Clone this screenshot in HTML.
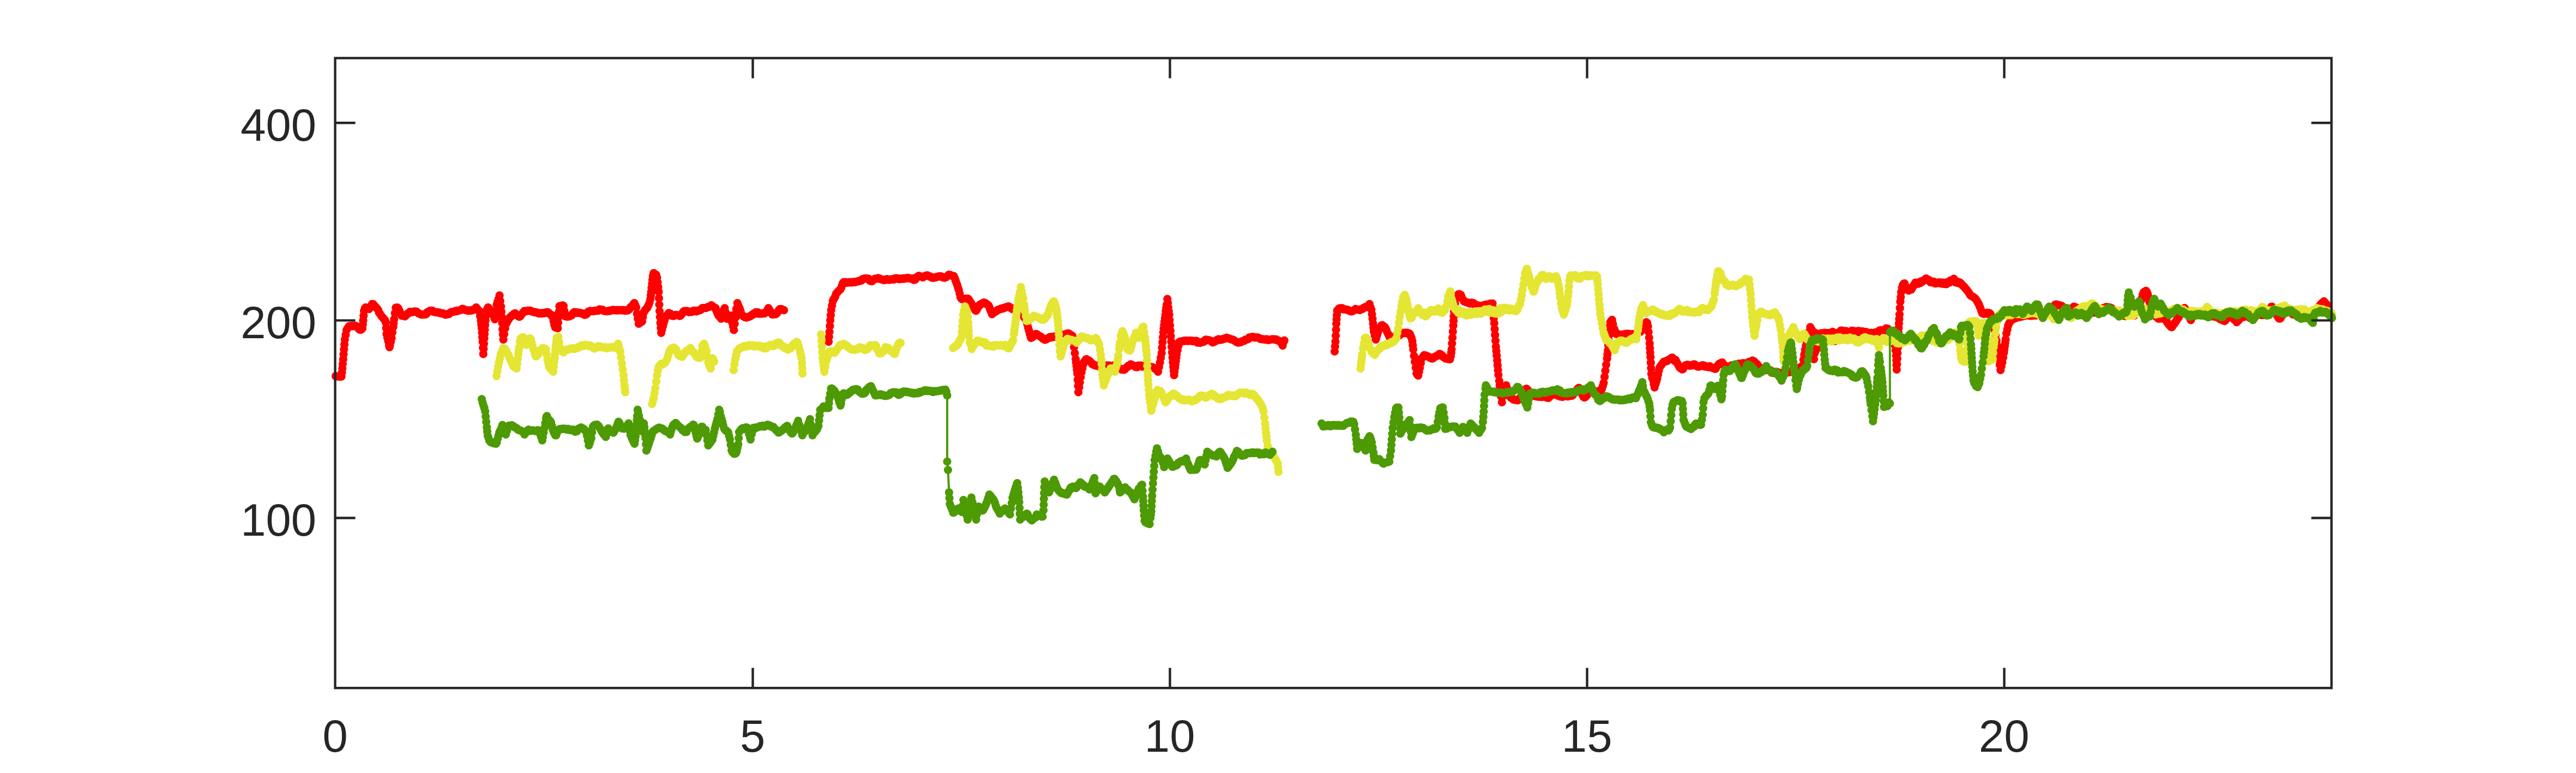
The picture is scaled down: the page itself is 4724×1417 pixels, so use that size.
<!DOCTYPE html>
<html><head><meta charset="utf-8"><title>plot</title>
<style>
html,body{margin:0;padding:0;background:#fff;}
svg{display:block;}
text{font-family:"Liberation Sans",Arial,Helvetica,sans-serif;font-size:83.3px;fill:#262626;}
</style></head>
<body>
<svg width="4724" height="1417" viewBox="0 0 4724 1417">
<rect width="4724" height="1417" fill="#ffffff"/>
<g>
<path d="M615.5 689.3L617.1 689.8L618.6 690.1L620.1 690.2L621.7 689.9L623.2 690.4L624.7 690.6L626.2 690.1L627 682.7L627.8 675.3L628.5 667L629.3 658.7L630.1 649.6L630.8 640.6L631.6 631.4L632.4 622.3L633.9 613.8L635.4 605.3L637 602.5L638.5 600.4L640 598.2L641.6 597.8L643.1 598L644.6 597.8L646.1 597.6L647.7 597.9L649.2 597L650.7 597.6L652.3 597.4L653.8 599L655.3 600L656.9 600.9L658.4 603.4L659.9 604.3L661.5 604.3L663 603.6L664.5 601.9L665.3 594.8L666 587.6L666.8 578.7L667.6 569.8L669.1 565L670.6 563.5L672.2 564L673.7 565.3L675.2 565.7L676.8 566.4L678.3 564.5L679.8 561.7L681.4 559.7L682.3 557.3L684.4 557.7L686 559.4L687.5 561.3L689 562.9L690.5 564.6L692.1 566.2L693.6 568.5L695.1 573L696.7 574.9L698.2 577.3L699.7 579.6L701.3 581.4L702.8 583.1L704.3 585.2L705.9 586.5L707.4 590.8L708.2 601.4L708.9 612.1L710.4 618.8L712 625.6L713.5 633L714.3 636.5L715 633.5L716.6 626.6L718.1 619.8L719.6 609.5L721.2 599.2L721.9 592.2L722.7 585.3L724.2 574L725.8 564L727.3 564.2L728.8 563.9L730.3 565.2L731.9 568.7L733.4 572L734.9 575.8L736.5 578.6L738 578.6L739.5 578.9L741.1 579.2L742.6 580L744.1 578.3L745.7 576.6L747.2 575L748.7 574.7L750.3 573L751.8 571.6L753.3 572.4L754.8 572.3L756.4 572.2L757.9 571.7L759.4 570.9L761 571L762.5 571.2L764 571.4L765.6 572.8L767.1 574.1L768.6 574.6L770.2 575.7L771.7 576.3L773.2 576.6L774.7 576.5L776.3 576.6L777.8 576.7L779.3 576.4L780.9 576.1L782.4 575.1L783.9 572L785.5 571.6L787 570.6L788.5 569.7L790.1 569.8L791.6 569.7L793.1 569.7L794.6 571.5L796.2 571.6L797.7 572.1L799.2 572.3L800.8 572.7L802.3 572.5L803.8 572.9L805.4 572.8L806.9 573.9L808.4 574.5L810 574L811.5 574.6L813 574.7L814.6 575.9L816.1 576.6L817.6 577L819.1 576.2L820.7 576.1L822.2 575.2L823.7 575.4L825.3 573.3L826.8 572.5L828.3 571.8L829.9 571.8L831.4 571.6L832.9 571L834.5 570.5L836 569.8L837.5 570.3L839 569.3L840.6 569.4L842.1 569.1L843.6 568.5L845.2 568.2L846.7 566.8L848.2 566L849.8 566.7L851.3 567.4L852.8 568L854.4 568.3L855.9 569.1L857.4 569.2L858.9 569.7L860.5 568.9L862 569L863.5 569.3L865.1 569.1L866.6 568.7L868.1 567.4L869.7 567.5L871.2 566.6L873.3 563.5L874.3 565.6L875.8 566.9L877.3 568.5L878.9 570.4L880.4 579.3L881.9 588.2L882.7 594.9L883.4 601.6L884 609.8L884.5 618L885 626.3L885.7 637.6L886.3 648.9L886.9 639.4L887.5 630L888 620.5L888.5 612.4L889.1 604.3L889.6 596.2L890.3 587.5L891.1 578.8L892.6 568.2L894.2 565.1L895 563.5L895.7 564.3L897.2 565.6L898.8 568.3L900.3 569.7L901.8 571.4L903.3 574.4L904.9 578.1L906.4 582.2L907.5 585.2L908.5 577.1L909.5 569L911 558.4L912.5 553.6L914.1 548.4L916.1 541.7L917.4 551.8L918.7 561.8L919.4 571.2L920.2 580.6L921 592.1L921.7 603.7L922.3 613.1L923 622.5L924.6 612.3L926.3 602L927.8 593.8L929.4 591.4L930.9 588.6L932.4 586L934 583.5L935.5 581.4L937 580.4L938.6 578.4L940.1 577.9L941.6 576L943.2 574.8L944.7 574.3L946.2 576.1L947.7 577.8L949.3 578.7L950.8 579.9L952.5 580.6L953.9 579.8L955.4 577.5L956.9 576.2L958.5 573.9L960 572.3L961.5 570.1L963.1 570L964.6 570.4L966.1 570.3L967.6 569.5L969.2 569.6L970.7 569.7L972.2 569.3L973.8 570.1L975.3 570.9L976.8 571.3L978.4 571.6L979.9 572.3L981.4 572.4L983 573L984.5 572.8L986 573.4L987.5 574.5L989.1 574.6L990.6 574L992.1 574L993.7 574.6L995.2 573.6L996.7 573.9L998.3 574.2L999.8 573L1001.3 572.6L1002.9 572.5L1004.4 572.3L1005.9 573.2L1007.4 575.1L1009 576L1010.5 577.6L1012 577.6L1013.6 581.3L1015.1 588.3L1016.6 595.3L1018.2 599.8L1019.7 600.6L1021.2 601.2L1022.8 601.7L1023.5 591.6L1024.3 581.5L1025.1 571.4L1025.8 561.4L1027.4 561.3L1028.9 560.8L1030.4 560.6L1031.9 559.8L1033.5 560.8L1035 570.2L1036.5 579.6L1038.1 580.2L1039.6 580.1L1041.1 580.5L1042.7 580L1044.2 579.9L1045.7 578.9L1047.3 578.5L1048.8 577.6L1050.3 574.9L1051.8 573.1L1053.4 572.1L1054.9 572.9L1056.4 572.4L1058 573.6L1059.5 573.1L1061 573.3L1062.6 573.3L1064.1 573.7L1065.6 574.3L1067.2 574.3L1068.7 575.5L1070.2 576.1L1071.7 577.2L1073.3 576.9L1074.8 576.4L1076.3 575.3L1077.9 571.9L1079.4 571.1L1080.9 570.7L1082.5 569.8L1084 570.5L1085.5 570.5L1087.1 570.3L1088.6 570.3L1090.1 569.9L1091.7 569.5L1093.2 569.6L1094.7 569.3L1096.2 569.6L1097.8 569.1L1099.3 567.2L1100.8 567.6L1102.4 567.6L1103.9 567.8L1105.4 568L1107 569.6L1108.5 570.2L1110 570.3L1111.6 570.3L1113.1 570.6L1114.6 570.4L1116.1 569.9L1117.7 570.1L1119.2 569.3L1120.7 568.9L1122.3 568.8L1123.8 568.2L1125.3 568.4L1126.9 568.6L1128.4 568.6L1129.9 568.3L1131.5 569.1L1133 568.8L1134.5 568.4L1136 568.8L1137.6 568.7L1139.1 568.6L1140.6 568.3L1142.2 568.8L1143.7 568.3L1145.2 569.5L1146.8 569.4L1148.3 569.5L1149.8 568.4L1151.4 568.8L1152.9 568L1154.4 566.6L1156 563.3L1157.5 562L1159 561.1L1160.5 559.4L1162.1 556.6L1163.4 555.7L1165.1 559.9L1166.7 563.5L1168.2 575.1L1169.7 584.2L1171.3 593.4L1172.8 592.1L1174.3 591.6L1175.9 590.3L1177.4 589.5L1178.9 581.1L1180.4 572.7L1182 570.5L1183.5 567.6L1185 566L1186.6 564.7L1188.1 561.8L1189.6 558.5L1191.2 554.3L1192.7 548.2L1193.5 541.6L1194.2 535L1195 527.5L1195.8 520.1L1196.5 512.9L1197.3 505.8L1198.8 500.7L1200.3 501.9L1201.9 502.8L1203.4 503.9L1204.9 508.9L1206 517.6L1207 526.2L1208 534.9L1208.5 546.7L1209 558.5L1209.5 570.3L1210.3 581.1L1211.1 591.9L1211.8 601L1212.5 610.1L1214.1 603.7L1215.7 597.7L1217.2 592L1218.7 586.9L1220.3 582.2L1221.8 578.8L1223.3 577.7L1224.8 576L1226.4 573.9L1227.9 574.6L1229.4 575.1L1231 577.7L1232.5 579L1234 579.1L1235.6 579.1L1237.1 578.4L1238.6 577.4L1240.2 577.3L1241.7 577.7L1243.2 577.8L1244.7 578.3L1246.3 579.1L1247.8 578.7L1249.3 577L1250.9 575L1252.4 572.3L1253.9 570.6L1255.5 570.2L1257 570.1L1258.5 570.5L1260.1 570.1L1261.6 570.5L1263.1 572.2L1264.6 572L1266.2 571.7L1267.7 571.8L1269.2 571.5L1270.8 569.9L1272.3 569.5L1273.8 569.8L1275.4 569.5L1276.9 571L1278.4 570L1280 569.3L1281.5 569.5L1283 568.8L1284.6 568.1L1286.1 567.2L1287.6 564.9L1289.1 565.1L1290.7 564.8L1292.2 564.7L1293.7 564.5L1295.3 564.4L1296.8 563.7L1298.3 562.7L1299.9 562.6L1301.4 561.8L1302.9 561L1304.5 559.6L1306 560.6L1307.5 561.8L1309 563L1310.6 564.2L1312.1 564.7L1313.6 569.2L1315.2 572.7L1316.7 576.5L1318.2 579.3L1319.8 580.1L1321.3 581.7L1322.5 584.2L1324.4 577.5L1325.9 573L1327.4 568.2L1329 564.8L1330.5 572.3L1332 579.8L1332.9 584.2L1333.5 583.6L1335.1 581.9L1336.6 580.1L1338.1 579.8L1339.7 578.6L1340.6 579L1341.7 585.1L1342.7 591.1L1344.3 598L1345.8 604.9L1347.3 593.6L1348.9 582.2L1349.6 574.2L1350.4 566.1L1352.3 555.7L1353.4 559.1L1355 562.4L1356.5 565.4L1358 570.1L1359.6 575.3L1361.1 578L1362.6 579.4L1364.2 580.2L1365.7 581.3L1367.2 581.6L1368.8 582.1L1370.3 581.1L1371.8 580.6L1373.3 580.8L1374.9 580.2L1376.4 579.3L1377.9 577.9L1379.5 577.4L1381 575.7L1382.5 575.1L1384.1 575.3L1385.6 572.6L1387.1 572.7L1388.7 572.9L1390.2 572.7L1391.7 575.2L1393.2 574.8L1394.8 574.9L1396.3 575.2L1397.8 574.7L1399.4 574.2L1400.9 574.6L1402.4 574.3L1404 572.8L1405.5 571L1407 569.1L1408.6 565.9L1409.2 564.8L1410.1 566.9L1411.6 568.9L1413.2 571.4L1414.7 574.2L1416.2 576.4L1417.7 576.4L1419.3 575.7L1420.8 575.8L1422.3 575.8L1423.9 575L1425.4 573.3L1426.9 570.9L1428.5 568.3L1430 566.6L1431.5 567.6L1433.1 566.6L1434.6 567.6L1436.1 568.1L1437.6 568.7M1519.6 626.3L1520.3 617.4L1521.1 608.5L1521.9 597.7L1522.6 587L1523.4 577.7L1524.2 568.4L1525.7 560.1L1527.2 551.8L1528.7 548.6L1530.3 546.3L1531.8 543.3L1533.3 538.3L1534.9 536.6L1536.4 534.8L1537.9 533.3L1539.5 531.9L1541 530.6L1542.5 527.9L1544.1 523.3L1545.6 519L1547.1 517.4L1548.6 517.8L1550.2 517.2L1551.7 518.5L1553.2 517.9L1554.8 518.1L1556.3 517.4L1557.8 517.4L1559.4 517.4L1560.9 517.9L1562.4 518L1564 516.9L1565.5 517.1L1567 517.5L1568.5 517.1L1570.1 516.4L1571.6 516.2L1573.1 515.9L1574.7 515.6L1576.2 514.7L1577.7 514.1L1579.3 514.3L1580.8 513.4L1582.3 511.4L1583.9 511L1585.4 510.6L1586.9 510.4L1588.4 510.4L1590 510.7L1591.5 511.2L1593 511.2L1594.6 514.2L1596.1 514.9L1597.6 515.5L1599.2 515.5L1600.7 512.8L1602.2 512.3L1603.7 511.4L1605.3 511.3L1606.8 510.9L1608.3 510.8L1609.9 509.9L1611.4 510L1612.9 510.6L1614.5 511.4L1616 512.1L1617.5 512.4L1619.1 512.5L1620.6 513.5L1622.1 513.3L1623.6 512.6L1625.2 512L1626.7 511.7L1628.2 512.8L1629.8 512.9L1631.3 512.8L1632.8 512L1634.4 512.2L1635.9 512.3L1637.4 511.7L1639 512.4L1640.5 510.5L1642 510.1L1643.5 510L1645.1 510.2L1646.6 510.5L1648.1 511.7L1649.7 511.2L1651.2 511.7L1652.7 510.9L1654.3 510.9L1655.8 510.4L1657.3 511.1L1658.9 510.1L1660.4 510.7L1661.9 509.8L1663.4 509.6L1665 509.7L1666.5 509.6L1668 510.4L1669.6 510.6L1671.1 510.6L1672.6 510.6L1674.2 510.3L1675.7 513.2L1677.2 512.8L1678.7 512.1L1680.3 509.5L1681.8 507.7L1683.3 507.4L1684.9 505.7L1686.4 506.5L1687.9 506.6L1689.5 507L1691 507.7L1692.5 508.4L1694.1 507.4L1695.6 506.3L1697.1 505.8L1698.6 505.2L1700.2 504.8L1701.7 505.2L1703.2 506L1704.8 506.9L1706.3 506.8L1707.8 508.3L1709.4 509.2L1710.9 509.3L1712.4 509.2L1714 509L1715.5 508.2L1717 508.2L1718.5 507.5L1720.1 507.1L1721.6 506.5L1723.1 506.5L1724.7 506.4L1726.2 507.4L1727.7 507.4L1729.3 508.6L1730.8 508.8L1732.3 509.1L1733.9 508.3L1735.4 507.8L1736.9 506.5L1738.4 505L1740 503.5L1741.5 504L1743 504.2L1744.6 505.2L1746.1 505.6L1747.6 506.1L1749.2 506.2L1750.7 509.5L1752.2 513.7L1753.7 518L1755.3 522.2L1756.8 527.1L1758.3 531.6L1759.9 538.2L1761.4 544.7L1762.9 547.3L1764.5 548.4L1766 548.7L1767.5 548.8L1769.1 548.8L1770.6 547.6L1772.1 547.4L1773.6 547.9L1775.2 547.5L1776.7 549.1L1778.2 551.7L1779.8 554L1781.3 556.2L1782.8 559.1L1784.4 562.1L1785.9 564.4L1787.4 566.6L1789 569.1L1789.8 569.7L1790.5 569.2L1792 566.4L1793.5 563.6L1795.1 561.6L1796.6 558.7L1798.1 557.8L1799.7 557.3L1801.2 556.2L1802.7 555.9L1804.3 554.7L1805.8 555.7L1807.3 555.5L1808.9 557.3L1810.4 558.1L1811.9 559.1L1813.4 560.8L1815 564.9L1816.5 569L1818 572.2L1819.3 575.9L1821.1 574L1822.6 573.1L1824.2 572.1L1825.7 570.8L1827.2 570.5L1828.7 568.9L1830.3 567.9L1831.8 567.3L1833.3 567L1834.9 566.2L1836.4 565.6L1837.9 565.8L1839.5 564.7L1841 565L1842.5 564L1844.1 563.4L1845.6 563.2L1847.1 562.4L1848.6 561.9L1850.2 561.8L1851.7 563.4L1853.2 564.3L1854.8 564.7L1856.3 566.3L1857.8 566.9L1859.4 568L1860.9 568.2L1862.4 569.1L1864 569.4L1865.5 568.8L1867 569.4L1868.5 571.5L1870.1 572.3L1871.6 571.7L1873.1 573.4L1874.7 576.2L1876.2 578.1L1877.7 580.9L1879.3 583.2L1880.8 583.2L1882.3 587.8L1883.9 594.3L1885.4 600.6L1886.9 605.7L1888.4 611.8L1890 617L1890.7 619.4L1891.5 618.9L1893 618.3L1894.6 616.8L1896.1 615.8L1897.6 613L1899.2 612.4L1900 613.2L1900.7 612.4L1902.2 613L1903.7 614.3L1905.3 615.5L1906.8 616.3L1908.3 617L1909.9 618.1L1911.4 619.8L1912.9 621.2L1914.5 622L1916 622.9L1917.5 621.6L1919.1 621.8L1920.6 620.6L1922.1 619.9L1923.6 619.1L1925.2 617.9L1926.7 618.9L1928.2 617.9L1929.8 617.6L1931.3 617.9L1932.8 616.9L1934.4 616.9L1935.9 617.1L1937.4 616.4L1939 614.9L1940.5 615.2L1942 614.8L1943.5 615.5L1945.1 615.6L1946.6 614.7L1948.1 614.5L1949.7 614.2L1951.2 613.3L1952.7 613.3L1954.3 612.8L1955.8 611.9L1957.3 611.7L1958.9 611.2L1960.4 611.7L1961.9 612.9L1963.4 613.9L1965 614.6L1966.5 615.5L1968 626L1969.6 636.5L1971.1 647.3L1972.6 658L1973.4 664.4L1974.2 670.7L1974.9 677.7L1975.7 684.7L1976.3 696.1L1977 707.4L1977.6 718.8L1979 709.8L1980.3 700.8L1981.8 691.5L1983.3 682.3L1984.9 675.3L1986.4 668.2L1987.9 663.6L1989.5 661.9L1991 659L1992.5 658.3L1994.1 659.6L1995.6 660.4L1997.1 660.9L1998.6 662.3L2000.2 663.7L2001.7 665.5L2003.2 667.7L2004.8 667.9L2006.3 669.1L2007.8 669.3L2009.4 670.2L2010.9 670.5L2012.4 670.7L2014 670.9L2015.5 671.8L2017 671.5L2018.5 672.5L2020.1 672.2L2021.6 672.2L2023.1 672.4L2024.7 671.8L2026.2 671.8L2027.7 670.4L2029.3 670.1L2030.8 670.3L2032.3 670.3L2033.9 669.8L2035.4 671.8L2036.9 671.7L2038.4 670.8L2040 671.1L2041.5 670.1L2043 670L2044.6 670.9L2046.1 672.4L2047.6 673.5L2049.2 674.5L2050.7 674L2052.2 675.3L2053.7 675.8L2055.3 676.1L2056.8 677.4L2058.3 677L2059.9 677.1L2061.4 677.8L2062.9 676.8L2064.5 674.8L2066 673.7L2067.5 672.6L2069.1 670.6L2070.6 670.7L2072.1 669.9L2073.6 667.9L2075.2 668.6L2076.7 669.3L2078.2 670.1L2079.8 670.6L2081.3 671.3L2082.8 673L2084.4 673L2085.9 673L2087.4 670.1L2089 670.2L2090.5 670.5L2092 670.2L2093.5 670.4L2095.1 672.1L2096.6 671.6L2098.1 671.5L2099.7 672.2L2101.2 671.8L2102.7 671.3L2104.3 672.8L2105.8 673.1L2107.3 672.5L2108.9 672.8L2110.4 673.1L2111.9 673.3L2113.4 673L2115 673.9L2116.5 675L2118 674.8L2119.6 676.7L2121.1 677.8L2122.6 679.7L2123.6 681.5L2125.4 672.9L2127.2 664.4L2128.7 655.8L2130.3 647.3L2131 637.3L2131.8 627.3L2132.6 618.2L2133.3 609.1L2134.1 602.5L2134.9 595.8L2135.6 589.7L2136.4 583.5L2137.2 577L2137.9 570.5L2138.7 564.4L2139.5 558.3L2140.7 548L2141.6 555.7L2142.5 563.5L2143.3 570.1L2144.1 576.8L2144.8 586.6L2145.6 596.4L2146.4 606.3L2147.1 616.1L2147.9 626.1L2148.6 636.1L2149.4 645.8L2150.2 655.5L2150.9 664.1L2151.7 672.6L2152.4 680.1L2153.1 687.7L2153.9 681.1L2154.8 674.6L2155.5 668.1L2156.3 661.7L2157.1 655.5L2157.8 649.3L2159.4 641.8L2160.9 634.2L2162.4 627.1L2164 626L2165.5 626.4L2167 626L2168.5 625.4L2170.1 625.3L2171.6 624.5L2173.1 625.1L2174.7 624.4L2176.2 624.6L2177.7 624.7L2179.3 625.1L2180.8 624.4L2182.3 624.4L2183.9 624.6L2185.4 624.5L2186.9 625.5L2188.4 625.2L2190 625.6L2191.5 625.4L2193 624.9L2194.6 625.2L2196.1 628.1L2197.6 627.9L2199.2 628L2200.7 628.3L2202.2 627.4L2203.7 627.3L2205.3 627L2206.8 626.7L2208.3 625.9L2209.9 623.4L2211.4 622.6L2212.9 623L2214.5 623.3L2216 623.3L2217.5 623.8L2219.1 624.3L2220.6 625.1L2222.1 625.3L2223.6 627.6L2225.2 627.4L2226.7 626.2L2228.2 625.6L2229.8 625L2231.3 623.4L2232.8 622.6L2234.4 621.9L2235.9 622L2237.4 623.1L2239 622.9L2240.5 622.6L2242 621.5L2243.5 621.4L2245.1 621.2L2246.6 620L2248.1 619.7L2249.7 619.2L2251.2 620L2252.7 620.5L2254.3 620.5L2255.8 621.5L2257.3 621.5L2258.9 622.4L2260.4 622.7L2261.9 623L2263.4 624.1L2265 625L2266.5 626.1L2268 627.2L2269.6 628L2271.1 628.1L2272.6 627.8L2274.2 627L2275.7 627.1L2277.2 625.9L2278.7 625.3L2280.3 625.1L2281.8 624.7L2283.3 622.9L2284.9 622.7L2286.4 622.3L2287.9 621.5L2289.5 621.1L2291 618.6L2292.5 618.4L2294.1 618L2295.6 617.7L2297.1 618.1L2298.6 617.7L2300.2 618.1L2301.7 618.8L2303.2 618.7L2304.8 618.5L2306.3 618.8L2307.8 619.1L2309.4 620L2310.9 621.1L2312.4 621.4L2314 621.6L2315.5 621.8L2317 621.9L2318.5 622.4L2320.1 622.4L2321.6 622.5L2323.1 621.8L2324.7 623.2L2326.2 623.3L2327.7 623L2329.3 622.6L2330.8 622.5L2332.3 621.9L2333.9 621.9L2335.4 621.8L2336.9 622.3L2338.4 622.4L2340 622L2341.5 623.4L2343 623.6L2344.6 624.6L2346.1 625L2347.6 625.9L2349.2 628L2350.7 630.6L2352.2 633.4L2353.7 627.4L2355.3 624M2447.5 644.2L2448.3 635.2L2449 626.2L2449.6 615.3L2450.1 604.4L2450.6 593.5L2451.1 585.4L2451.6 577.4L2452.1 569.3L2453.6 568.6L2455.2 565.8L2456.7 565.2L2458.2 565.2L2459.8 564.8L2461.3 564.8L2462.8 567L2464.4 566.6L2465.9 567.2L2467.4 567.5L2469 567.3L2470.5 567.8L2472 568.2L2473.6 569.5L2475.1 569.8L2476.6 570.6L2478.2 570.9L2479.7 570.5L2481.2 569.8L2482.8 568.6L2484.3 567.6L2485.8 566.4L2487.4 567.5L2488.9 567L2490.4 567.6L2492 567.9L2493.5 568.5L2495 567.7L2496.6 566.7L2498.1 566.4L2499.6 565.7L2501.1 564.1L2502.7 563.9L2504.2 562.6L2505.7 562.8L2507.3 561.8L2508.8 560.5L2510.3 559.8L2511.5 557.3L2513.4 563.4L2514.9 567.5L2516 576L2517 584.6L2518 593.2L2518.8 600.4L2519.5 607.7L2521.3 615.1L2523 622.5L2524.1 618.4L2525.7 613.3L2527.2 608.4L2528.7 604.2L2530.3 601.8L2531.8 599.1L2533.3 596.6L2534.9 596L2536.4 597.8L2537.9 598.3L2539.5 599.6L2541 601.8L2542.5 605.1L2544.1 609.5L2545.6 612L2547.1 615.1L2548.7 618.6L2550.2 621.6L2550.9 622.5L2551.7 622.5L2553.2 620.6L2554.8 619.5L2556.3 618.8L2557.8 617.3L2559.4 615.2L2560.9 614.7L2562.4 614.1L2564 614.7L2565.5 614.6L2567 614.3L2568.6 610.5L2570.1 610.6L2571.6 610.6L2573.2 610.4L2574.7 610L2576.2 610.7L2577.8 610.2L2579.3 610.4L2580.8 610L2582.4 611.6L2583.9 611.2L2585.4 612.1L2587 616L2588.5 619.4L2590 625.3L2590.8 632.9L2591.6 640.4L2593.1 652.3L2594.6 663.2L2596.2 674L2597.7 684.4L2599.2 686.8L2600.8 688.4L2602.3 681.3L2603.8 674.3L2605.4 665.7L2606.9 657L2608.4 655.7L2609.9 653.3L2611.5 651.1L2613 652.3L2614.5 651.7L2616.1 652.7L2617.6 653.2L2619.1 653.7L2620.7 654.4L2622.2 655.7L2623.7 656.2L2625.3 657.1L2626.8 657.2L2628.3 656.6L2629.9 654.9L2631.4 653.8L2632.9 653.3L2634.5 652.7L2636 651.9L2637.5 651.7L2639.1 649L2640.6 648.9L2642.1 649.6L2643.7 651L2645.2 652.2L2646.7 654.3L2648.3 655.1L2649.8 656.5L2651.3 657.2L2652.9 657.6L2654.4 658L2655.9 657.8L2657.5 658L2659 658.7L2660.5 652.7L2661.3 646.5L2662 640.3L2662.8 629.6L2663.6 618.9L2664.3 607.9L2665.1 596.8L2665.6 588.2L2666.1 579.7L2666.6 571.1L2667.4 563.6L2668.2 556.1L2669.7 547L2671.2 542.4L2672.8 542.2L2674.3 539.7L2675.8 539.1L2677.4 539.5L2678.9 540.5L2680.4 544.4L2682 548L2683.5 550L2685 552.7L2686.6 553L2688.1 553.7L2689.6 554.1L2691.2 554.7L2692.7 554.9L2694.2 555.8L2695.8 556.1L2697.3 556.1L2698.8 554.9L2700.4 556L2701.9 555.5L2703.4 556.6L2705 559.2L2706.5 559L2708 559.6L2709.6 559.8L2711.1 560.1L2712.6 560.8L2714.1 561.1L2715.7 560.9L2717.2 560.7L2718.7 560.3L2720.3 560.2L2721.8 559.1L2723.3 558.8L2724.9 558.5L2726.4 558.2L2727.9 558.3L2729.5 558L2731 558.4L2732.5 556.6L2734.1 556.5L2735.6 556.8L2737.1 556.3L2737.9 565.1L2738.7 574L2739.4 583.2L2740.2 592.4L2741 603.1L2741.7 613.9L2742.5 624.6L2743.3 635.4L2744 643.6L2744.8 651.8L2745.6 660.8L2746.3 669.7L2747.1 678.4L2747.9 687.1L2749.4 698.3L2750.2 706.9L2750.9 715.5L2752.5 726.5L2754.3 737.4L2755.7 726.6L2757.1 715.9L2758.6 711.6L2760.1 709.3L2762.1 706.3L2763.2 710.5L2764.7 717.2L2766.2 723.2L2767.8 726.1L2769.3 727.2L2770.8 729.1L2772.4 730L2773.9 731.5L2775.4 732.5L2777 732.7L2778.5 732.6L2780 733.5L2781.6 733.5L2783.1 734L2784.6 732.7L2786.2 731L2787.7 729.2L2789.2 727.1L2790.8 723.4L2792.3 721.9L2793.8 719.4L2795.4 717.2L2796.9 715.4L2798.4 713L2799.4 712.5L2801.5 714.7L2803 716.6L2804.6 720.5L2806.1 722.5L2807.6 723.9L2809.2 724.3L2810.7 725.4L2812.2 725.5L2813.8 724.8L2815.3 725.7L2816.8 726.7L2818.4 726.5L2819.9 726.9L2821.4 727.5L2822.9 726.7L2824.5 726.7L2826 727.6L2827.5 727.5L2829.1 727.4L2830.6 726.6L2832.1 727.3L2833.7 727.6L2835.2 728.4L2836.7 728.3L2838.3 729.4L2839.8 729.3L2841.3 727.7L2842.9 726.3L2844.4 725.4L2845.9 724.3L2847.5 723.2L2849 722.4L2850.5 722.7L2852.1 723L2853.6 723.5L2855.1 724.2L2856.7 725.1L2858.2 725.7L2859.7 726L2861.3 726.9L2862.8 726.6L2864.3 727.4L2865.9 727.3L2867.4 724.6L2868.9 725.5L2870.5 725.7L2872 725.8L2873.5 726L2875 726.6L2876.6 725.9L2878.1 726L2879.6 725.5L2881.2 725.4L2882.7 725.3L2884.2 724.5L2885.8 722.5L2887.3 720.2L2888.8 718.3L2890.4 716.2L2891.9 714.7L2893.4 712.3L2895 711L2895.7 711L2896.5 712.2L2898 714.4L2899.6 717.7L2901.1 722.4L2902.6 725.2L2904.2 727.9L2905 728.1L2905.7 728.6L2907.2 727.8L2908.8 726.1L2910.3 724.6L2911.8 722.4L2913.4 719.4L2914.9 717.9L2916.4 717.8L2918 718.2L2919.5 718.3L2921 718.5L2922.6 719.2L2924.1 719L2925.6 718.7L2927.1 718.6L2928.7 717.8L2930.2 717L2931.7 717.1L2933.3 716.3L2934.8 715.4L2936.3 715.8L2937.9 711.7L2939.4 707.2L2940.9 701.8L2942.5 690.7L2944 679.6L2945.5 668.6L2947.1 657.6L2947.8 649.9L2948.6 642.3L2949.4 632.8L2950.1 623.4L2950.9 614.5L2951.7 605.5L2952.4 598L2953.2 590.5L2954.7 588.2L2956.3 586.4L2957.8 593.9L2959.3 601.4L2960.9 604.4L2962.4 608.5L2963.9 612.1L2965.5 612.1L2967 612.1L2968.5 613.6L2970.1 613.4L2971.6 613.5L2973.1 613.8L2974.7 613.6L2976.2 613.1L2977.7 612.9L2979.2 613.8L2980.8 612.2L2982.3 612.6L2983.8 612L2985.4 612.3L2986.9 612.2L2988.4 612.5L2990 613.1L2991.5 612.7L2993 612.8L2994.6 612.5L2996.1 612.4L2997.6 613.1L2999.2 612.3L3000.7 613.2L3002.2 609.9L3003.8 608.3L3005.3 608L3006.8 606.2L3008.4 608.1L3009.9 605.7L3011.4 603.3L3013 599.7L3014.5 595.9L3016 592.8L3017.6 592.3L3019.1 590.7L3020.6 591.9L3022.2 598L3023.2 608.5L3024.2 619.1L3025.2 629.7L3025.7 638L3026.2 646.3L3026.8 654.6L3027.3 664.7L3027.8 674.8L3028.3 685L3029.8 692.4L3031.4 695.9L3032.9 703.9L3034.2 710.1L3035.9 704.2L3037.5 699.3L3039 693.9L3040.5 686.8L3042.1 679.6L3043.6 673.5L3045.1 671.1L3046.7 669.1L3048.2 667L3049.7 665.2L3051.3 663.1L3052.8 663.2L3054.3 662.5L3055.9 661.7L3057.4 661.6L3058.9 660.2L3060.5 659.5L3062 658.5L3063.5 657.3L3065.1 656L3066.8 655.7L3068.1 658.7L3069.7 660.1L3071.2 661.7L3072.7 659.9L3074.3 662.9L3075.8 665.7L3077.3 668.5L3078.9 671.1L3080.4 673.7L3081.9 675.2L3083.5 675.6L3085 677.1L3086.5 676.4L3088 672.9L3089.6 671L3091.1 669.7L3092.6 669.3L3094.2 668.7L3095.7 669L3097.2 670.1L3098.8 670.3L3100.3 669.9L3101.8 669.3L3103.4 669.8L3104.9 669.3L3106.4 667.9L3108 668.2L3109.5 669.8L3111 670.9L3112.6 671.6L3114.1 672.2L3115.6 672.2L3117.2 671.2L3118.7 671.1L3120.2 670.9L3121.8 669.5L3123.3 669.7L3124.8 670.9L3126.4 671.9L3127.9 671L3129.4 672.1L3131 672.4L3132.5 672.8L3134 671.8L3135.6 671.4L3137.1 673.3L3138.6 673.5L3140.1 674.4L3141.7 674.6L3143.2 675.1L3144.7 676.1L3146.3 675.8L3147.8 672.9L3149.3 670.8L3150.9 669.4L3152.4 667L3153.9 666.3L3155.5 665.6L3157 664.8L3158.5 664.6L3160.1 667.7L3161.6 669L3163.1 670L3164.7 670.9L3166.2 672.8L3167.7 672.1L3169.3 671.9L3170.8 671.9L3172.3 672.3L3173.9 671.5L3175.4 669.9L3176.9 670.2L3178.5 670.2L3180 669.4L3181.5 668.7L3183.1 668.9L3184.6 668.4L3186.1 667.5L3187.7 667.5L3189.2 666.7L3190.7 667.1L3192.2 666.9L3193.8 666.6L3195.3 665.9L3196.8 666.3L3198.4 665.8L3199.9 666.5L3201.4 666.7L3203 666.6L3204.5 667.7L3206 664.1L3207.6 663.4L3209.1 663.3L3210.6 662.6L3212.2 662.1L3213.7 660.8L3215.2 661.8L3216.8 662.4L3218.3 664.1L3219.8 666.3L3221.4 666.9L3222.9 668.4L3224.4 670.6L3226 672.6L3227.5 674.3L3229 676.3L3230.6 676.9L3232.1 677.2L3233.6 677.2L3235.2 677.7L3236.7 678.7L3238.2 677.2L3239.8 677.6L3241.3 678.1L3242.8 678.1L3244.4 678.7L3245.9 678.9L3247.4 679.2L3248.9 683.2L3250.5 683.3L3252 683.5L3253.5 683.8L3255.1 683.7L3256.6 682.7L3258.1 681.9L3259.7 682.2L3261.2 683.1L3262.7 683.5L3264.3 684L3265.8 684.2L3267.3 683.8L3268.9 683.4L3270.4 683.6L3271.9 683.9L3273.5 683.6L3275 682.7L3276.5 682.8L3278.1 682.3L3279.6 682.5L3281.1 682.3L3282.7 681.5L3284.2 680.8L3285.7 681.1L3287.3 680.7L3288.8 680.8L3290.3 681.1L3291.9 680.3L3293.4 679.5L3294.9 679.2L3296.5 677.8L3298 676.9L3299.5 675L3301 673.4L3302.6 672.6L3304.1 671.7L3305.6 671.1L3307.2 659.3L3308.7 650.2L3310.2 641L3311.8 633.4L3313.3 625.8L3314.8 618.6L3316.4 613.1L3317.9 607.6L3319.8 599.5L3321 601.9L3322.5 604.4L3324 606.9L3325.6 608.7L3327.1 609.4L3328.6 610.5L3330.2 611L3331.7 611.7L3333.2 612.8L3334.8 612.6L3336.3 612.2L3337.8 614.4L3339.4 610.9L3340.9 613.5L3342.4 613.4L3344 612.9L3345.5 610.2L3347 611.3L3348.6 612.9L3350.1 610.3L3351.6 610.7L3353.1 612.5L3354.7 610.5L3356.2 611.4L3357.7 609.6L3359.3 612L3360.8 608.4L3362.3 614L3363.9 621.5L3364.8 625.1L3366.9 616.8L3368.5 611.8L3370 610.1L3371.5 610.9L3373.1 608.9L3374.6 607.8L3376.1 605.9L3377.7 606.9L3379.2 606.2L3380.7 607.6L3382.3 608.1L3383.8 607.9L3385.3 606.9L3386.9 610.6L3388.4 610.8L3389.9 611.5L3391.5 612.5L3393 610L3394.5 607.5L3396.1 606.2L3397.6 608.6L3399.1 606.5L3400.7 608.2L3402.2 607.6L3403.7 607.4L3405.3 609L3406.8 607.1L3408.3 606.7L3409.8 607.4L3411.4 609.1L3412.9 607.7L3414.4 607.9L3416 607.6L3417.5 609.9L3419 608.8L3420.6 608.7L3422.1 608.5L3423.6 609L3425.2 611.5L3426.7 611.6L3428.2 612.5L3429.8 610.5L3431.3 610L3432.8 610.6L3434.4 610.5L3435.9 610.8L3437.4 611.7L3439 609.4L3440.5 611.7L3442 609.9L3443.6 608.5L3445.1 609.8L3446.6 605.9L3448.2 606.6L3449.7 605.1L3451.2 605.7L3452.8 605.9L3454.3 606.4L3455.8 606L3457.4 604.5L3458.9 601.9L3460.4 603.8L3461.9 602.5L3463.5 606.6L3465 607.1L3466.5 606.2L3468.1 606.7L3469.6 609.3L3471.1 612.3L3472.7 618.2L3474.2 623.5L3475.2 632.9L3476.3 642.4L3477.3 651.8L3477.6 660.3L3477.9 668.9L3478.3 677.4L3478.8 667.4L3479.3 657.4L3479.8 647.4L3480.3 637.4L3480.7 628.3L3481.1 619.3L3481.5 610.2L3481.9 601.1L3482.4 592.9L3482.9 584.7L3483.4 576.5L3484.2 564.7L3484.9 552.9L3485.7 544.3L3486.5 535.6L3488 527.5L3489.5 522.5L3491.1 520.1L3492.6 519.6L3494.1 523.9L3495.7 528.5L3497.2 530.6L3498.7 530.8L3500.3 532.7L3501.8 530.4L3503.3 530.9L3504.9 530.8L3506.4 528.4L3507.9 525.7L3509.5 523L3511 520.7L3512.5 518.1L3514 519.2L3515.6 519.9L3517.1 520.3L3518.6 517.7L3520.2 519.2L3521.7 518.6L3523.2 515.5L3524.8 516.7L3526.3 514.6L3527.8 514.7L3529.4 513L3531.1 511.2L3532.4 510.7L3534 511.5L3535.5 513.4L3537 514.3L3538.6 513.8L3540.1 517.5L3541.6 516.7L3543.2 516.7L3544.7 517.9L3546.2 516.3L3547.8 518L3549.3 519.6L3550.8 518.6L3552.4 519.1L3553.9 518.2L3555.4 518.1L3557 517.7L3558.5 518.3L3560 519.8L3561.6 518.7L3563.1 517.9L3564.6 520.3L3566.1 519.3L3567.7 519.6L3569.2 520.8L3570.7 517.4L3572.3 518L3573.8 518.3L3575.3 518L3576.9 514.1L3578.4 513.8L3579.9 514.2L3581.5 513.4L3583 511.2L3584.5 515.5L3586.1 517.7L3587.6 516.7L3589.1 516.1L3590.7 518.8L3592.2 517.5L3593.7 517.6L3595.3 520L3596.8 520.1L3598.3 522.6L3599.9 523.8L3601.4 524.8L3602.9 527L3604.5 528.8L3606 530.7L3607.5 532.4L3609.1 534.6L3610.6 536.6L3612.1 539.2L3613.7 541.7L3615.2 542.5L3616.7 543.3L3618.3 544.2L3619.8 545.2L3621.3 546.4L3622.8 547.6L3624.4 549.8L3625.9 552.5L3627.4 555L3629 557.9L3630.5 561.9L3632 565.4L3633.6 569.8L3635.1 574.1L3636.6 574.5L3638.2 575.3L3639.7 574.7L3641.2 574.7L3642.8 575.2L3644.3 573.4L3645.8 573.6L3647.4 573.9L3648.9 574.1L3650.4 575.9L3652 580L3653.5 584L3655 591L3656.6 597L3658.1 605.8L3659.6 614.5L3661.2 624L3662.7 633.5L3663.5 639.6L3664.2 645.7L3665 651.7L3665.8 657.7L3667.3 668.7L3668.7 678.5L3670.3 671.4L3671.9 664.3L3673.4 655.5L3674.9 646.6L3675.7 640.5L3676.5 634.5L3677.2 628.4L3678 622.2L3679.5 611.1L3681.1 603.9L3682.6 596.8L3684.1 593.4L3685.7 590.8L3687.2 588.6L3688.7 586.6L3690.3 585.2L3691.8 585.1L3693.3 584.2L3694.9 583.6L3696.4 583.2L3697.9 582.2L3699.5 581.5L3701 581.6L3702.5 581.3L3704.1 580.7L3705.6 580L3707.1 580.3L3708.7 579.9L3710.2 579.1L3711.7 579.2L3713.3 578.9L3714.8 578.2L3716.3 578.1L3717.9 577.7L3719.4 577.8L3720.9 577.3L3722.5 579L3724 578.7L3725.5 579L3727 578.3L3728.6 578.5L3730.1 577.8L3731.6 578.1L3733.2 578.3L3734.7 576.1L3736.2 576.3L3737.8 575.6L3739.3 575.5L3740.8 576.7L3742.4 575.7L3743.9 576.1L3745.4 575L3747 575.2L3748.5 575.1L3750 574.8L3751.6 574.1L3753.1 574L3754.6 573.9L3756.2 573.6L3757.7 572.2L3759.2 570.4L3760.8 568.4L3762.3 567.1L3763.8 565.3L3765.4 562.6L3766.9 561.3L3768.4 558.9L3770 558.2L3771.5 558.2L3773 559L3774.6 559.6L3776.1 559.3L3777.6 560L3779.1 560.3L3780.7 560.5L3782.2 561.9L3783.7 564.1L3785.3 566L3786.8 567.5L3788.3 568.9L3790.3 572.4L3791.4 570.6L3792.9 569L3794.5 567.6L3796 567.9L3797.5 566.6L3799.1 565.4L3800.6 564.6L3802.1 563L3803.2 562.1L3805.2 563.3L3806.7 563.4L3808.3 564.4L3809.8 564.4L3811.3 566.4L3812.9 567.5L3814.4 568.1L3815.9 568.9L3817.5 569.1L3819 569.9L3820.5 570.3L3822.1 570.8L3823.6 570.5L3825.1 571.2L3826.7 571.7L3828.2 571.5L3829.7 572L3831.3 572.3L3832.8 572.7L3834.3 572.3L3835.8 572.5L3837.4 572.7L3838.9 573L3840.4 573.2L3842 572.4L3843.5 571.2L3845 571.3L3846.6 570.7L3848.1 569.3L3849.6 569.3L3851.2 568.6L3852.7 567.2L3854.2 566.9L3855.8 565.7L3857.3 564.6L3858.8 565.2L3860.4 564.7L3861.9 562.9L3863.4 562.9L3865 563.2L3866.5 563.7L3868 563.6L3869.6 563.8L3871.1 564.7L3872.6 565.1L3874.2 566.9L3875.7 568.3L3877.2 568.9L3878.8 570.7L3880.3 571.3L3881.8 572.4L3883.4 573.5L3884.9 574.3L3886.4 574.9L3887.9 576.5L3889.5 576.5L3891 577.1L3892.5 577.9L3894.1 577.9L3895.6 579L3897.1 579.3L3898.7 578.7L3900.2 576.8L3901.7 576.9L3903.3 577.7L3904.8 577.3L3906.3 577.5L3907.9 577.1L3909.4 578.2L3910.9 578.2L3912.5 578.5L3914 578.3L3915.5 575.6L3917.1 572.1L3918.6 570.6L3920.1 566.6L3921.7 563.1L3923.2 558.7L3924.7 555L3926.3 551L3927.8 546.8L3929.3 540.5L3930.9 536L3932.4 534.8L3933.9 534.1L3935.5 533L3937 535L3938.5 538.9L3940 544.8L3941.6 552.7L3943.1 560.7L3944.6 566.6L3946.2 569.2L3947.7 571.7L3949.2 574.1L3950.8 576.9L3952.3 579.4L3953.8 579.7L3955.4 581.1L3956.9 583.2L3958.4 584.2L3960 584.1L3961.5 583.7L3963 584.1L3964.6 583.8L3966.1 583.5L3967.6 584.2L3969.2 584.1L3970.7 585L3972.2 587.4L3973.8 589.8L3975.3 592.4L3976.8 594.5L3978.4 596.1L3979.9 597.7L3981.4 599.4L3982.8 599.6L3984.5 597.6L3986 595.2L3987.6 593.2L3989.1 590.7L3990.6 588.8L3992.1 586.3L3993.7 583.1L3995.2 582.1L3996.7 578.9L3998.3 576.4L3999.8 574.4L4001.3 572.2L4002.9 570.2L4004.4 566L4006.1 564.7L4007.5 566.4L4009 569.4L4010.5 572.6L4012.1 575.7L4013.6 578.6L4015.1 581.3L4016.7 584L4017.7 586.7L4019.7 582.4L4021.3 579.8L4022.8 577.6L4024.3 574.6L4025.9 574.6L4027.4 573.6L4028.9 573.4L4030.5 572.3L4032 572L4033.5 571.9L4035.1 573.6L4036.6 573.4L4038.1 574.3L4039.7 573.5L4041.2 574.5L4042.7 574.7L4044.3 575.9L4045.8 576.8L4047.3 576.7L4048.8 577.4L4050.4 577.6L4051.9 578L4053.4 578L4055 579.1L4056.5 579.8L4058 579.9L4059.6 579.8L4061.1 580.3L4062.6 580.7L4064.2 580.8L4065.7 581.4L4067.2 581.7L4068.8 581.5L4070.3 584.5L4071.8 585.5L4073.4 585.5L4074.9 585.9L4076.4 587.1L4078 587.2L4079.5 588.3L4081 587.3L4082.6 583.8L4084.1 583.4L4085.6 582.2L4087.2 581.9L4088.7 580.9L4090.2 580.1L4091.5 580.2L4093.3 580.7L4094.8 582.9L4096.4 585.1L4097.9 586.1L4099.4 587.7L4100.9 589.1L4101.8 590.6L4102.5 589.4L4104 588.1L4105.5 587L4107.1 584.6L4108.6 583L4110.1 582.3L4111.7 580.9L4113.2 581.5L4114.7 580.8L4116.3 580.3L4117.8 578.7L4119.9 577.6L4120.9 578.8L4122.4 579.8L4123.9 581.4L4125.5 582.2L4126.4 582.8L4127 582.8L4128.5 580.9L4130.1 578.5L4131.6 577.6L4133.1 575.6L4134.7 574.2L4136.2 573.4L4138 572.4L4139.3 572.1L4140.8 572.2L4142.3 574.7L4143.9 575.4L4145.4 576.2L4146.9 577.4L4148.5 576L4149.7 577.6L4151.5 574.8L4153 572.8L4154.6 571L4156.1 569L4157.6 567.6L4159.2 568.4L4160.7 567L4162.2 566.4L4163.8 565.2L4165.3 562.4L4166.5 562.1L4168.4 564.5L4169.9 567L4171.4 570.3L4173 572.4L4174.5 574.8L4176 578.7L4177.6 581.2L4179.1 583.6L4180.7 584.1L4182.2 583.3L4183.7 580.6L4185.2 578.5L4186.8 576.6L4188.3 574.9L4189.8 573.2L4191.4 571.9L4192.9 571L4194.4 569.1L4196 567.1L4197.5 566L4199 567.3L4200.6 569.7L4202.1 572.2L4203.6 574.8L4205.1 576.4L4206.7 576.3L4208.2 576.1L4209.7 575.7L4211.3 574.8L4212.8 575.2L4214.3 575.2L4215.9 574.9L4217.4 574.5L4218.9 574.3L4220.5 575.1L4222 574.6L4223.5 574.3L4225.1 574.3L4226.6 575.1L4228.1 574.8L4229.7 575.1L4231.2 574.2L4232.7 574.3L4234.3 574.5L4235.8 574.4L4237.3 573.8L4238.9 573L4240.4 572.8L4241.9 571.4L4243.5 570.5L4245 569.9L4246.5 568.8L4248.1 567.7L4249.6 566.9L4251.1 564.4L4252.7 562.2L4254.2 560.3L4255.7 557.9L4257.3 556.4L4258.8 554.8L4260.3 553.8L4261.8 552.4L4263.4 554.3L4264.9 556L4266.4 557.4L4268 560.6L4269.5 565.5L4271 569.5L4272.6 575M3326.5 658.5L3328 647.5L3329.6 642.9L3331.2 637.2L3332.8 638L3334.4 636.8L3336 636.9L3337.6 634.7L3339.2 635.2L3340.7 634.9" fill="none" stroke="#ff0000" stroke-width="4" stroke-linejoin="round" stroke-linecap="round"/>
<path d="M615.5 689.3h0M617.1 689.8h0M618.6 690.1h0M620.1 690.2h0M621.7 689.9h0M623.2 690.4h0M624.7 690.6h0M626.2 690.1h0M627 682.7h0M627.8 675.3h0M628.5 667h0M629.3 658.7h0M630.1 649.6h0M630.8 640.6h0M631.6 631.4h0M632.4 622.3h0M633.9 613.8h0M635.4 605.3h0M637 602.5h0M638.5 600.4h0M640 598.2h0M641.6 597.8h0M643.1 598h0M644.6 597.8h0M646.1 597.6h0M647.7 597.9h0M649.2 597h0M650.7 597.6h0M652.3 597.4h0M653.8 599h0M655.3 600h0M656.9 600.9h0M658.4 603.4h0M659.9 604.3h0M661.5 604.3h0M663 603.6h0M664.5 601.9h0M665.3 594.8h0M666 587.6h0M666.8 578.7h0M667.6 569.8h0M669.1 565h0M670.6 563.5h0M672.2 564h0M673.7 565.3h0M675.2 565.7h0M676.8 566.4h0M678.3 564.5h0M679.8 561.7h0M681.4 559.7h0M682.3 557.3h0M684.4 557.7h0M686 559.4h0M687.5 561.3h0M689 562.9h0M690.5 564.6h0M692.1 566.2h0M693.6 568.5h0M695.1 573h0M696.7 574.9h0M698.2 577.3h0M699.7 579.6h0M701.3 581.4h0M702.8 583.1h0M704.3 585.2h0M705.9 586.5h0M707.4 590.8h0M708.2 601.4h0M708.9 612.1h0M710.4 618.8h0M712 625.6h0M713.5 633h0M714.3 636.5h0M715 633.5h0M716.6 626.6h0M718.1 619.8h0M719.6 609.5h0M721.2 599.2h0M721.9 592.2h0M722.7 585.3h0M724.2 574h0M725.8 564h0M727.3 564.2h0M728.8 563.9h0M730.3 565.2h0M731.9 568.7h0M733.4 572h0M734.9 575.8h0M736.5 578.6h0M738 578.6h0M739.5 578.9h0M741.1 579.2h0M742.6 580h0M744.1 578.3h0M745.7 576.6h0M747.2 575h0M748.7 574.7h0M750.3 573h0M751.8 571.6h0M753.3 572.4h0M754.8 572.3h0M756.4 572.2h0M757.9 571.7h0M759.4 570.9h0M761 571h0M762.5 571.2h0M764 571.4h0M765.6 572.8h0M767.1 574.1h0M768.6 574.6h0M770.2 575.7h0M771.7 576.3h0M773.2 576.6h0M774.7 576.5h0M776.3 576.6h0M777.8 576.7h0M779.3 576.4h0M780.9 576.1h0M782.4 575.1h0M783.9 572h0M785.5 571.6h0M787 570.6h0M788.5 569.7h0M790.1 569.8h0M791.6 569.7h0M793.1 569.7h0M794.6 571.5h0M796.2 571.6h0M797.7 572.1h0M799.2 572.3h0M800.8 572.7h0M802.3 572.5h0M803.8 572.9h0M805.4 572.8h0M806.9 573.9h0M808.4 574.5h0M810 574h0M811.5 574.6h0M813 574.7h0M814.6 575.9h0M816.1 576.6h0M817.6 577h0M819.1 576.2h0M820.7 576.1h0M822.2 575.2h0M823.7 575.4h0M825.3 573.3h0M826.8 572.5h0M828.3 571.8h0M829.9 571.8h0M831.4 571.6h0M832.9 571h0M834.5 570.5h0M836 569.8h0M837.5 570.3h0M839 569.3h0M840.6 569.4h0M842.1 569.1h0M843.6 568.5h0M845.2 568.2h0M846.7 566.8h0M848.2 566h0M849.8 566.7h0M851.3 567.4h0M852.8 568h0M854.4 568.3h0M855.9 569.1h0M857.4 569.2h0M858.9 569.7h0M860.5 568.9h0M862 569h0M863.5 569.3h0M865.1 569.1h0M866.6 568.7h0M868.1 567.4h0M869.7 567.5h0M871.2 566.6h0M873.3 563.5h0M874.3 565.6h0M875.8 566.9h0M877.3 568.5h0M878.9 570.4h0M880.4 579.3h0M881.9 588.2h0M882.7 594.9h0M883.4 601.6h0M884 609.8h0M884.5 618h0M885 626.3h0M885.7 637.6h0M886.3 648.9h0M886.9 639.4h0M887.5 630h0M888 620.5h0M888.5 612.4h0M889.1 604.3h0M889.6 596.2h0M890.3 587.5h0M891.1 578.8h0M892.6 568.2h0M894.2 565.1h0M895 563.5h0M895.7 564.3h0M897.2 565.6h0M898.8 568.3h0M900.3 569.7h0M901.8 571.4h0M903.3 574.4h0M904.9 578.1h0M906.4 582.2h0M907.5 585.2h0M908.5 577.1h0M909.5 569h0M911 558.4h0M912.5 553.6h0M914.1 548.4h0M916.1 541.7h0M917.4 551.8h0M918.7 561.8h0M919.4 571.2h0M920.2 580.6h0M921 592.1h0M921.7 603.7h0M922.3 613.1h0M923 622.5h0M924.6 612.3h0M926.3 602h0M927.8 593.8h0M929.4 591.4h0M930.9 588.6h0M932.4 586h0M934 583.5h0M935.5 581.4h0M937 580.4h0M938.6 578.4h0M940.1 577.9h0M941.6 576h0M943.2 574.8h0M944.7 574.3h0M946.2 576.1h0M947.7 577.8h0M949.3 578.7h0M950.8 579.9h0M952.5 580.6h0M953.9 579.8h0M955.4 577.5h0M956.9 576.2h0M958.5 573.9h0M960 572.3h0M961.5 570.1h0M963.1 570h0M964.6 570.4h0M966.1 570.3h0M967.6 569.5h0M969.2 569.6h0M970.7 569.7h0M972.2 569.3h0M973.8 570.1h0M975.3 570.9h0M976.8 571.3h0M978.4 571.6h0M979.9 572.3h0M981.4 572.4h0M983 573h0M984.5 572.8h0M986 573.4h0M987.5 574.5h0M989.1 574.6h0M990.6 574h0M992.1 574h0M993.7 574.6h0M995.2 573.6h0M996.7 573.9h0M998.3 574.2h0M999.8 573h0M1001.3 572.6h0M1002.9 572.5h0M1004.4 572.3h0M1005.9 573.2h0M1007.4 575.1h0M1009 576h0M1010.5 577.6h0M1012 577.6h0M1013.6 581.3h0M1015.1 588.3h0M1016.6 595.3h0M1018.2 599.8h0M1019.7 600.6h0M1021.2 601.2h0M1022.8 601.7h0M1023.5 591.6h0M1024.3 581.5h0M1025.1 571.4h0M1025.8 561.4h0M1027.4 561.3h0M1028.9 560.8h0M1030.4 560.6h0M1031.9 559.8h0M1033.5 560.8h0M1035 570.2h0M1036.5 579.6h0M1038.1 580.2h0M1039.6 580.1h0M1041.1 580.5h0M1042.7 580h0M1044.2 579.9h0M1045.7 578.9h0M1047.3 578.5h0M1048.8 577.6h0M1050.3 574.9h0M1051.8 573.1h0M1053.4 572.1h0M1054.9 572.9h0M1056.4 572.4h0M1058 573.6h0M1059.5 573.1h0M1061 573.3h0M1062.6 573.3h0M1064.1 573.7h0M1065.6 574.3h0M1067.2 574.3h0M1068.7 575.5h0M1070.2 576.1h0M1071.7 577.2h0M1073.3 576.9h0M1074.8 576.4h0M1076.3 575.3h0M1077.9 571.9h0M1079.4 571.1h0M1080.9 570.7h0M1082.5 569.8h0M1084 570.5h0M1085.5 570.5h0M1087.1 570.3h0M1088.6 570.3h0M1090.1 569.9h0M1091.7 569.5h0M1093.2 569.6h0M1094.7 569.3h0M1096.2 569.6h0M1097.8 569.1h0M1099.3 567.2h0M1100.8 567.6h0M1102.4 567.6h0M1103.9 567.8h0M1105.4 568h0M1107 569.6h0M1108.5 570.2h0M1110 570.3h0M1111.6 570.3h0M1113.1 570.6h0M1114.6 570.4h0M1116.1 569.9h0M1117.7 570.1h0M1119.2 569.3h0M1120.7 568.9h0M1122.3 568.8h0M1123.8 568.2h0M1125.3 568.4h0M1126.9 568.6h0M1128.4 568.6h0M1129.9 568.3h0M1131.5 569.1h0M1133 568.8h0M1134.5 568.4h0M1136 568.8h0M1137.6 568.7h0M1139.1 568.6h0M1140.6 568.3h0M1142.2 568.8h0M1143.7 568.3h0M1145.2 569.5h0M1146.8 569.4h0M1148.3 569.5h0M1149.8 568.4h0M1151.4 568.8h0M1152.9 568h0M1154.4 566.6h0M1156 563.3h0M1157.5 562h0M1159 561.1h0M1160.5 559.4h0M1162.1 556.6h0M1163.4 555.7h0M1165.1 559.9h0M1166.7 563.5h0M1168.2 575.1h0M1169.7 584.2h0M1171.3 593.4h0M1172.8 592.1h0M1174.3 591.6h0M1175.9 590.3h0M1177.4 589.5h0M1178.9 581.1h0M1180.4 572.7h0M1182 570.5h0M1183.5 567.6h0M1185 566h0M1186.6 564.7h0M1188.1 561.8h0M1189.6 558.5h0M1191.2 554.3h0M1192.7 548.2h0M1193.5 541.6h0M1194.2 535h0M1195 527.5h0M1195.8 520.1h0M1196.5 512.9h0M1197.3 505.8h0M1198.8 500.7h0M1200.3 501.9h0M1201.9 502.8h0M1203.4 503.9h0M1204.9 508.9h0M1206 517.6h0M1207 526.2h0M1208 534.9h0M1208.5 546.7h0M1209 558.5h0M1209.5 570.3h0M1210.3 581.1h0M1211.1 591.9h0M1211.8 601h0M1212.5 610.1h0M1214.1 603.7h0M1215.7 597.7h0M1217.2 592h0M1218.7 586.9h0M1220.3 582.2h0M1221.8 578.8h0M1223.3 577.7h0M1224.8 576h0M1226.4 573.9h0M1227.9 574.6h0M1229.4 575.1h0M1231 577.7h0M1232.5 579h0M1234 579.1h0M1235.6 579.1h0M1237.1 578.4h0M1238.6 577.4h0M1240.2 577.3h0M1241.7 577.7h0M1243.2 577.8h0M1244.7 578.3h0M1246.3 579.1h0M1247.8 578.7h0M1249.3 577h0M1250.9 575h0M1252.4 572.3h0M1253.9 570.6h0M1255.5 570.2h0M1257 570.1h0M1258.5 570.5h0M1260.1 570.1h0M1261.6 570.5h0M1263.1 572.2h0M1264.6 572h0M1266.2 571.7h0M1267.7 571.8h0M1269.2 571.5h0M1270.8 569.9h0M1272.3 569.5h0M1273.8 569.8h0M1275.4 569.5h0M1276.9 571h0M1278.4 570h0M1280 569.3h0M1281.5 569.5h0M1283 568.8h0M1284.6 568.1h0M1286.1 567.2h0M1287.6 564.9h0M1289.1 565.1h0M1290.7 564.8h0M1292.2 564.7h0M1293.7 564.5h0M1295.3 564.4h0M1296.8 563.7h0M1298.3 562.7h0M1299.9 562.6h0M1301.4 561.8h0M1302.9 561h0M1304.5 559.6h0M1306 560.6h0M1307.5 561.8h0M1309 563h0M1310.6 564.2h0M1312.1 564.7h0M1313.6 569.2h0M1315.2 572.7h0M1316.7 576.5h0M1318.2 579.3h0M1319.8 580.1h0M1321.3 581.7h0M1322.5 584.2h0M1324.4 577.5h0M1325.9 573h0M1327.4 568.2h0M1329 564.8h0M1330.5 572.3h0M1332 579.8h0M1332.9 584.2h0M1333.5 583.6h0M1335.1 581.9h0M1336.6 580.1h0M1338.1 579.8h0M1339.7 578.6h0M1340.6 579h0M1341.7 585.1h0M1342.7 591.1h0M1344.3 598h0M1345.8 604.9h0M1347.3 593.6h0M1348.9 582.2h0M1349.6 574.2h0M1350.4 566.1h0M1352.3 555.7h0M1353.4 559.1h0M1355 562.4h0M1356.5 565.4h0M1358 570.1h0M1359.6 575.3h0M1361.1 578h0M1362.6 579.4h0M1364.2 580.2h0M1365.7 581.3h0M1367.2 581.6h0M1368.8 582.1h0M1370.3 581.1h0M1371.8 580.6h0M1373.3 580.8h0M1374.9 580.2h0M1376.4 579.3h0M1377.9 577.9h0M1379.5 577.4h0M1381 575.7h0M1382.5 575.1h0M1384.1 575.3h0M1385.6 572.6h0M1387.1 572.7h0M1388.7 572.9h0M1390.2 572.7h0M1391.7 575.2h0M1393.2 574.8h0M1394.8 574.9h0M1396.3 575.2h0M1397.8 574.7h0M1399.4 574.2h0M1400.9 574.6h0M1402.4 574.3h0M1404 572.8h0M1405.5 571h0M1407 569.1h0M1408.6 565.9h0M1409.2 564.8h0M1410.1 566.9h0M1411.6 568.9h0M1413.2 571.4h0M1414.7 574.2h0M1416.2 576.4h0M1417.7 576.4h0M1419.3 575.7h0M1420.8 575.8h0M1422.3 575.8h0M1423.9 575h0M1425.4 573.3h0M1426.9 570.9h0M1428.5 568.3h0M1430 566.6h0M1431.5 567.6h0M1433.1 566.6h0M1434.6 567.6h0M1436.1 568.1h0M1437.6 568.7h0M1519.6 626.3h0M1520.3 617.4h0M1521.1 608.5h0M1521.9 597.7h0M1522.6 587h0M1523.4 577.7h0M1524.2 568.4h0M1525.7 560.1h0M1527.2 551.8h0M1528.7 548.6h0M1530.3 546.3h0M1531.8 543.3h0M1533.3 538.3h0M1534.9 536.6h0M1536.4 534.8h0M1537.9 533.3h0M1539.5 531.9h0M1541 530.6h0M1542.5 527.9h0M1544.1 523.3h0M1545.6 519h0M1547.1 517.4h0M1548.6 517.8h0M1550.2 517.2h0M1551.7 518.5h0M1553.2 517.9h0M1554.8 518.1h0M1556.3 517.4h0M1557.8 517.4h0M1559.4 517.4h0M1560.9 517.9h0M1562.4 518h0M1564 516.9h0M1565.5 517.1h0M1567 517.5h0M1568.5 517.1h0M1570.1 516.4h0M1571.6 516.2h0M1573.1 515.9h0M1574.7 515.6h0M1576.2 514.7h0M1577.7 514.1h0M1579.3 514.3h0M1580.8 513.4h0M1582.3 511.4h0M1583.9 511h0M1585.4 510.6h0M1586.9 510.4h0M1588.4 510.4h0M1590 510.7h0M1591.5 511.2h0M1593 511.2h0M1594.6 514.2h0M1596.1 514.9h0M1597.6 515.5h0M1599.2 515.5h0M1600.7 512.8h0M1602.2 512.3h0M1603.7 511.4h0M1605.3 511.3h0M1606.8 510.9h0M1608.3 510.8h0M1609.9 509.9h0M1611.4 510h0M1612.9 510.6h0M1614.5 511.4h0M1616 512.1h0M1617.5 512.4h0M1619.1 512.5h0M1620.6 513.5h0M1622.1 513.3h0M1623.6 512.6h0M1625.2 512h0M1626.7 511.7h0M1628.2 512.8h0M1629.8 512.9h0M1631.3 512.8h0M1632.8 512h0M1634.4 512.2h0M1635.9 512.3h0M1637.4 511.7h0M1639 512.4h0M1640.5 510.5h0M1642 510.1h0M1643.5 510h0M1645.1 510.2h0M1646.6 510.5h0M1648.1 511.7h0M1649.7 511.2h0M1651.2 511.7h0M1652.7 510.9h0M1654.3 510.9h0M1655.8 510.4h0M1657.3 511.1h0M1658.9 510.1h0M1660.4 510.7h0M1661.9 509.8h0M1663.4 509.6h0M1665 509.7h0M1666.5 509.6h0M1668 510.4h0M1669.6 510.6h0M1671.1 510.6h0M1672.6 510.6h0M1674.2 510.3h0M1675.7 513.2h0M1677.2 512.8h0M1678.7 512.1h0M1680.3 509.5h0M1681.8 507.7h0M1683.3 507.4h0M1684.9 505.7h0M1686.4 506.5h0M1687.9 506.6h0M1689.5 507h0M1691 507.7h0M1692.5 508.4h0M1694.1 507.4h0M1695.6 506.3h0M1697.1 505.8h0M1698.6 505.2h0M1700.2 504.8h0M1701.7 505.2h0M1703.2 506h0M1704.8 506.9h0M1706.3 506.8h0M1707.8 508.3h0M1709.4 509.2h0M1710.9 509.3h0M1712.4 509.2h0M1714 509h0M1715.5 508.2h0M1717 508.2h0M1718.5 507.5h0M1720.1 507.1h0M1721.6 506.5h0M1723.1 506.5h0M1724.7 506.4h0M1726.2 507.4h0M1727.7 507.4h0M1729.3 508.6h0M1730.8 508.8h0M1732.3 509.1h0M1733.9 508.3h0M1735.4 507.8h0M1736.9 506.5h0M1738.4 505h0M1740 503.5h0M1741.5 504h0M1743 504.2h0M1744.6 505.2h0M1746.1 505.6h0M1747.6 506.1h0M1749.2 506.2h0M1750.7 509.5h0M1752.2 513.7h0M1753.7 518h0M1755.3 522.2h0M1756.8 527.1h0M1758.3 531.6h0M1759.9 538.2h0M1761.4 544.7h0M1762.9 547.3h0M1764.5 548.4h0M1766 548.7h0M1767.5 548.8h0M1769.1 548.8h0M1770.6 547.6h0M1772.1 547.4h0M1773.6 547.9h0M1775.2 547.5h0M1776.7 549.1h0M1778.2 551.7h0M1779.8 554h0M1781.3 556.2h0M1782.8 559.1h0M1784.4 562.1h0M1785.9 564.4h0M1787.4 566.6h0M1789 569.1h0M1789.8 569.7h0M1790.5 569.2h0M1792 566.4h0M1793.5 563.6h0M1795.1 561.6h0M1796.6 558.7h0M1798.1 557.8h0M1799.7 557.3h0M1801.2 556.2h0M1802.7 555.9h0M1804.3 554.7h0M1805.8 555.7h0M1807.3 555.5h0M1808.9 557.3h0M1810.4 558.1h0M1811.9 559.1h0M1813.4 560.8h0M1815 564.9h0M1816.5 569h0M1818 572.2h0M1819.3 575.9h0M1821.1 574h0M1822.6 573.1h0M1824.2 572.1h0M1825.7 570.8h0M1827.2 570.5h0M1828.7 568.9h0M1830.3 567.9h0M1831.8 567.3h0M1833.3 567h0M1834.9 566.2h0M1836.4 565.6h0M1837.9 565.8h0M1839.5 564.7h0M1841 565h0M1842.5 564h0M1844.1 563.4h0M1845.6 563.2h0M1847.1 562.4h0M1848.6 561.9h0M1850.2 561.8h0M1851.7 563.4h0M1853.2 564.3h0M1854.8 564.7h0M1856.3 566.3h0M1857.8 566.9h0M1859.4 568h0M1860.9 568.2h0M1862.4 569.1h0M1864 569.4h0M1865.5 568.8h0M1867 569.4h0M1868.5 571.5h0M1870.1 572.3h0M1871.6 571.7h0M1873.1 573.4h0M1874.7 576.2h0M1876.2 578.1h0M1877.7 580.9h0M1879.3 583.2h0M1880.8 583.2h0M1882.3 587.8h0M1883.9 594.3h0M1885.4 600.6h0M1886.9 605.7h0M1888.4 611.8h0M1890 617h0M1890.7 619.4h0M1891.5 618.9h0M1893 618.3h0M1894.6 616.8h0M1896.1 615.8h0M1897.6 613h0M1899.2 612.4h0M1900 613.2h0M1900.7 612.4h0M1902.2 613h0M1903.7 614.3h0M1905.3 615.5h0M1906.8 616.3h0M1908.3 617h0M1909.9 618.1h0M1911.4 619.8h0M1912.9 621.2h0M1914.5 622h0M1916 622.9h0M1917.5 621.6h0M1919.1 621.8h0M1920.6 620.6h0M1922.1 619.9h0M1923.6 619.1h0M1925.2 617.9h0M1926.7 618.9h0M1928.2 617.9h0M1929.8 617.6h0M1931.3 617.9h0M1932.8 616.9h0M1934.4 616.9h0M1935.9 617.1h0M1937.4 616.4h0M1939 614.9h0M1940.5 615.2h0M1942 614.8h0M1943.5 615.5h0M1945.1 615.6h0M1946.6 614.7h0M1948.1 614.5h0M1949.7 614.2h0M1951.2 613.3h0M1952.7 613.3h0M1954.3 612.8h0M1955.8 611.9h0M1957.3 611.7h0M1958.9 611.2h0M1960.4 611.7h0M1961.9 612.9h0M1963.4 613.9h0M1965 614.6h0M1966.5 615.5h0M1968 626h0M1969.6 636.5h0M1971.1 647.3h0M1972.6 658h0M1973.4 664.4h0M1974.2 670.7h0M1974.9 677.7h0M1975.7 684.7h0M1976.3 696.1h0M1977 707.4h0M1977.6 718.8h0M1979 709.8h0M1980.3 700.8h0M1981.8 691.5h0M1983.3 682.3h0M1984.9 675.3h0M1986.4 668.2h0M1987.9 663.6h0M1989.5 661.9h0M1991 659h0M1992.5 658.3h0M1994.1 659.6h0M1995.6 660.4h0M1997.1 660.9h0M1998.6 662.3h0M2000.2 663.7h0M2001.7 665.5h0M2003.2 667.7h0M2004.8 667.9h0M2006.3 669.1h0M2007.8 669.3h0M2009.4 670.2h0M2010.9 670.5h0M2012.4 670.7h0M2014 670.9h0M2015.5 671.8h0M2017 671.5h0M2018.5 672.5h0M2020.1 672.2h0M2021.6 672.2h0M2023.1 672.4h0M2024.7 671.8h0M2026.2 671.8h0M2027.7 670.4h0M2029.3 670.1h0M2030.8 670.3h0M2032.3 670.3h0M2033.9 669.8h0M2035.4 671.8h0M2036.9 671.7h0M2038.4 670.8h0M2040 671.1h0M2041.5 670.1h0M2043 670h0M2044.6 670.9h0M2046.1 672.4h0M2047.6 673.5h0M2049.2 674.5h0M2050.7 674h0M2052.2 675.3h0M2053.7 675.8h0M2055.3 676.1h0M2056.8 677.4h0M2058.3 677h0M2059.9 677.1h0M2061.4 677.8h0M2062.9 676.8h0M2064.5 674.8h0M2066 673.7h0M2067.5 672.6h0M2069.1 670.6h0M2070.6 670.7h0M2072.1 669.9h0M2073.6 667.9h0M2075.2 668.6h0M2076.7 669.3h0M2078.2 670.1h0M2079.8 670.6h0M2081.3 671.3h0M2082.8 673h0M2084.4 673h0M2085.9 673h0M2087.4 670.1h0M2089 670.2h0M2090.5 670.5h0M2092 670.2h0M2093.5 670.4h0M2095.1 672.1h0M2096.6 671.6h0M2098.1 671.5h0M2099.7 672.2h0M2101.2 671.8h0M2102.7 671.3h0M2104.3 672.8h0M2105.8 673.1h0M2107.3 672.5h0M2108.9 672.8h0M2110.4 673.1h0M2111.9 673.3h0M2113.4 673h0M2115 673.9h0M2116.5 675h0M2118 674.8h0M2119.6 676.7h0M2121.1 677.8h0M2122.6 679.7h0M2123.6 681.5h0M2125.4 672.9h0M2127.2 664.4h0M2128.7 655.8h0M2130.3 647.3h0M2131 637.3h0M2131.8 627.3h0M2132.6 618.2h0M2133.3 609.1h0M2134.1 602.5h0M2134.9 595.8h0M2135.6 589.7h0M2136.4 583.5h0M2137.2 577h0M2137.9 570.5h0M2138.7 564.4h0M2139.5 558.3h0M2140.7 548h0M2141.6 555.7h0M2142.5 563.5h0M2143.3 570.1h0M2144.1 576.8h0M2144.8 586.6h0M2145.6 596.4h0M2146.4 606.3h0M2147.1 616.1h0M2147.9 626.1h0M2148.6 636.1h0M2149.4 645.8h0M2150.2 655.5h0M2150.9 664.1h0M2151.7 672.6h0M2152.4 680.1h0M2153.1 687.7h0M2153.9 681.1h0M2154.8 674.6h0M2155.5 668.1h0M2156.3 661.7h0M2157.1 655.5h0M2157.8 649.3h0M2159.4 641.8h0M2160.9 634.2h0M2162.4 627.1h0M2164 626h0M2165.5 626.4h0M2167 626h0M2168.5 625.4h0M2170.1 625.3h0M2171.6 624.5h0M2173.1 625.1h0M2174.7 624.4h0M2176.2 624.6h0M2177.7 624.7h0M2179.3 625.1h0M2180.8 624.4h0M2182.3 624.4h0M2183.9 624.6h0M2185.4 624.5h0M2186.9 625.5h0M2188.4 625.2h0M2190 625.6h0M2191.5 625.4h0M2193 624.9h0M2194.6 625.2h0M2196.1 628.1h0M2197.6 627.9h0M2199.2 628h0M2200.7 628.3h0M2202.2 627.4h0M2203.7 627.3h0M2205.3 627h0M2206.8 626.7h0M2208.3 625.9h0M2209.9 623.4h0M2211.4 622.6h0M2212.9 623h0M2214.5 623.3h0M2216 623.3h0M2217.5 623.8h0M2219.1 624.3h0M2220.6 625.1h0M2222.1 625.3h0M2223.6 627.6h0M2225.2 627.4h0M2226.7 626.2h0M2228.2 625.6h0M2229.8 625h0M2231.3 623.4h0M2232.8 622.6h0M2234.4 621.9h0M2235.9 622h0M2237.4 623.1h0M2239 622.9h0M2240.5 622.6h0M2242 621.5h0M2243.5 621.4h0M2245.1 621.2h0M2246.6 620h0M2248.1 619.7h0M2249.7 619.2h0M2251.2 620h0M2252.7 620.5h0M2254.3 620.5h0M2255.8 621.5h0M2257.3 621.5h0M2258.9 622.4h0M2260.4 622.7h0M2261.9 623h0M2263.4 624.1h0M2265 625h0M2266.5 626.1h0M2268 627.2h0M2269.6 628h0M2271.1 628.1h0M2272.6 627.8h0M2274.2 627h0M2275.7 627.1h0M2277.2 625.9h0M2278.7 625.3h0M2280.3 625.1h0M2281.8 624.7h0M2283.3 622.9h0M2284.9 622.7h0M2286.4 622.3h0M2287.9 621.5h0M2289.5 621.1h0M2291 618.6h0M2292.5 618.4h0M2294.1 618h0M2295.6 617.7h0M2297.1 618.1h0M2298.6 617.7h0M2300.2 618.1h0M2301.7 618.8h0M2303.2 618.7h0M2304.8 618.5h0M2306.3 618.8h0M2307.8 619.1h0M2309.4 620h0M2310.9 621.1h0M2312.4 621.4h0M2314 621.6h0M2315.5 621.8h0M2317 621.9h0M2318.5 622.4h0M2320.1 622.4h0M2321.6 622.5h0M2323.1 621.8h0M2324.7 623.2h0M2326.2 623.3h0M2327.7 623h0M2329.3 622.6h0M2330.8 622.5h0M2332.3 621.9h0M2333.9 621.9h0M2335.4 621.8h0M2336.9 622.3h0M2338.4 622.4h0M2340 622h0M2341.5 623.4h0M2343 623.6h0M2344.6 624.6h0M2346.1 625h0M2347.6 625.9h0M2349.2 628h0M2350.7 630.6h0M2352.2 633.4h0M2353.7 627.4h0M2355.3 624h0M2447.5 644.2h0M2448.3 635.2h0M2449 626.2h0M2449.6 615.3h0M2450.1 604.4h0M2450.6 593.5h0M2451.1 585.4h0M2451.6 577.4h0M2452.1 569.3h0M2453.6 568.6h0M2455.2 565.8h0M2456.7 565.2h0M2458.2 565.2h0M2459.8 564.8h0M2461.3 564.8h0M2462.8 567h0M2464.4 566.6h0M2465.9 567.2h0M2467.4 567.5h0M2469 567.3h0M2470.5 567.8h0M2472 568.2h0M2473.6 569.5h0M2475.1 569.8h0M2476.6 570.6h0M2478.2 570.9h0M2479.7 570.5h0M2481.2 569.8h0M2482.8 568.6h0M2484.3 567.6h0M2485.8 566.4h0M2487.4 567.5h0M2488.9 567h0M2490.4 567.6h0M2492 567.9h0M2493.5 568.5h0M2495 567.7h0M2496.6 566.7h0M2498.1 566.4h0M2499.6 565.7h0M2501.1 564.1h0M2502.7 563.9h0M2504.2 562.6h0M2505.7 562.8h0M2507.3 561.8h0M2508.8 560.5h0M2510.3 559.8h0M2511.5 557.3h0M2513.4 563.4h0M2514.9 567.5h0M2516 576h0M2517 584.6h0M2518 593.2h0M2518.8 600.4h0M2519.5 607.7h0M2521.3 615.1h0M2523 622.5h0M2524.1 618.4h0M2525.7 613.3h0M2527.2 608.4h0M2528.7 604.2h0M2530.3 601.8h0M2531.8 599.1h0M2533.3 596.6h0M2534.9 596h0M2536.4 597.8h0M2537.9 598.3h0M2539.5 599.6h0M2541 601.8h0M2542.5 605.1h0M2544.1 609.5h0M2545.6 612h0M2547.1 615.1h0M2548.7 618.6h0M2550.2 621.6h0M2550.9 622.5h0M2551.7 622.5h0M2553.2 620.6h0M2554.8 619.5h0M2556.3 618.8h0M2557.8 617.3h0M2559.4 615.2h0M2560.9 614.7h0M2562.4 614.1h0M2564 614.7h0M2565.5 614.6h0M2567 614.3h0M2568.6 610.5h0M2570.1 610.6h0M2571.6 610.6h0M2573.2 610.4h0M2574.7 610h0M2576.2 610.7h0M2577.8 610.2h0M2579.3 610.4h0M2580.8 610h0M2582.4 611.6h0M2583.9 611.2h0M2585.4 612.1h0M2587 616h0M2588.5 619.4h0M2590 625.3h0M2590.8 632.9h0M2591.6 640.4h0M2593.1 652.3h0M2594.6 663.2h0M2596.2 674h0M2597.7 684.4h0M2599.2 686.8h0M2600.8 688.4h0M2602.3 681.3h0M2603.8 674.3h0M2605.4 665.7h0M2606.9 657h0M2608.4 655.7h0M2609.9 653.3h0M2611.5 651.1h0M2613 652.3h0M2614.5 651.7h0M2616.1 652.7h0M2617.6 653.2h0M2619.1 653.7h0M2620.7 654.4h0M2622.2 655.7h0M2623.7 656.2h0M2625.3 657.1h0M2626.8 657.2h0M2628.3 656.6h0M2629.9 654.9h0M2631.4 653.8h0M2632.9 653.3h0M2634.5 652.7h0M2636 651.9h0M2637.5 651.7h0M2639.1 649h0M2640.6 648.9h0M2642.1 649.6h0M2643.7 651h0M2645.2 652.2h0M2646.7 654.3h0M2648.3 655.1h0M2649.8 656.5h0M2651.3 657.2h0M2652.9 657.6h0M2654.4 658h0M2655.9 657.8h0M2657.5 658h0M2659 658.7h0M2660.5 652.7h0M2661.3 646.5h0M2662 640.3h0M2662.8 629.6h0M2663.6 618.9h0M2664.3 607.9h0M2665.1 596.8h0M2665.6 588.2h0M2666.1 579.7h0M2666.6 571.1h0M2667.4 563.6h0M2668.2 556.1h0M2669.7 547h0M2671.2 542.4h0M2672.8 542.2h0M2674.3 539.7h0M2675.8 539.1h0M2677.4 539.5h0M2678.9 540.5h0M2680.4 544.4h0M2682 548h0M2683.5 550h0M2685 552.7h0M2686.6 553h0M2688.1 553.7h0M2689.6 554.1h0M2691.2 554.7h0M2692.7 554.9h0M2694.2 555.8h0M2695.8 556.1h0M2697.3 556.1h0M2698.8 554.9h0M2700.4 556h0M2701.9 555.5h0M2703.4 556.6h0M2705 559.2h0M2706.5 559h0M2708 559.6h0M2709.6 559.8h0M2711.1 560.1h0M2712.6 560.8h0M2714.1 561.1h0M2715.7 560.9h0M2717.2 560.7h0M2718.7 560.3h0M2720.3 560.2h0M2721.8 559.1h0M2723.3 558.8h0M2724.9 558.5h0M2726.4 558.2h0M2727.9 558.3h0M2729.5 558h0M2731 558.4h0M2732.5 556.6h0M2734.1 556.5h0M2735.6 556.8h0M2737.1 556.3h0M2737.9 565.1h0M2738.7 574h0M2739.4 583.2h0M2740.2 592.4h0M2741 603.1h0M2741.7 613.9h0M2742.5 624.6h0M2743.3 635.4h0M2744 643.6h0M2744.8 651.8h0M2745.6 660.8h0M2746.3 669.7h0M2747.1 678.4h0M2747.9 687.1h0M2749.4 698.3h0M2750.2 706.9h0M2750.9 715.5h0M2752.5 726.5h0M2754.3 737.4h0M2755.7 726.6h0M2757.1 715.9h0M2758.6 711.6h0M2760.1 709.3h0M2762.1 706.3h0M2763.2 710.5h0M2764.7 717.2h0M2766.2 723.2h0M2767.8 726.1h0M2769.3 727.2h0M2770.8 729.1h0M2772.4 730h0M2773.9 731.5h0M2775.4 732.5h0M2777 732.7h0M2778.5 732.6h0M2780 733.5h0M2781.6 733.5h0M2783.1 734h0M2784.6 732.7h0M2786.2 731h0M2787.7 729.2h0M2789.2 727.1h0M2790.8 723.4h0M2792.3 721.9h0M2793.8 719.4h0M2795.4 717.2h0M2796.9 715.4h0M2798.4 713h0M2799.4 712.5h0M2801.5 714.7h0M2803 716.6h0M2804.6 720.5h0M2806.1 722.5h0M2807.6 723.9h0M2809.2 724.3h0M2810.7 725.4h0M2812.2 725.5h0M2813.8 724.8h0M2815.3 725.7h0M2816.8 726.7h0M2818.4 726.5h0M2819.9 726.9h0M2821.4 727.5h0M2822.9 726.7h0M2824.5 726.7h0M2826 727.6h0M2827.5 727.5h0M2829.1 727.4h0M2830.6 726.6h0M2832.1 727.3h0M2833.7 727.6h0M2835.2 728.4h0M2836.7 728.3h0M2838.3 729.4h0M2839.8 729.3h0M2841.3 727.7h0M2842.9 726.3h0M2844.4 725.4h0M2845.9 724.3h0M2847.5 723.2h0M2849 722.4h0M2850.5 722.7h0M2852.1 723h0M2853.6 723.5h0M2855.1 724.2h0M2856.7 725.1h0M2858.2 725.7h0M2859.7 726h0M2861.3 726.9h0M2862.8 726.6h0M2864.3 727.4h0M2865.9 727.3h0M2867.4 724.6h0M2868.9 725.5h0M2870.5 725.7h0M2872 725.8h0M2873.5 726h0M2875 726.6h0M2876.6 725.9h0M2878.1 726h0M2879.6 725.5h0M2881.2 725.4h0M2882.7 725.3h0M2884.2 724.5h0M2885.8 722.5h0M2887.3 720.2h0M2888.8 718.3h0M2890.4 716.2h0M2891.9 714.7h0M2893.4 712.3h0M2895 711h0M2895.7 711h0M2896.5 712.2h0M2898 714.4h0M2899.6 717.7h0M2901.1 722.4h0M2902.6 725.2h0M2904.2 727.9h0M2905 728.1h0M2905.7 728.6h0M2907.2 727.8h0M2908.8 726.1h0M2910.3 724.6h0M2911.8 722.4h0M2913.4 719.4h0M2914.9 717.9h0M2916.4 717.8h0M2918 718.2h0M2919.5 718.3h0M2921 718.5h0M2922.6 719.2h0M2924.1 719h0M2925.6 718.7h0M2927.1 718.6h0M2928.7 717.8h0M2930.2 717h0M2931.7 717.1h0M2933.3 716.3h0M2934.8 715.4h0M2936.3 715.8h0M2937.9 711.7h0M2939.4 707.2h0M2940.9 701.8h0M2942.5 690.7h0M2944 679.6h0M2945.5 668.6h0M2947.1 657.6h0M2947.8 649.9h0M2948.6 642.3h0M2949.4 632.8h0M2950.1 623.4h0M2950.9 614.5h0M2951.7 605.5h0M2952.4 598h0M2953.2 590.5h0M2954.7 588.2h0M2956.3 586.4h0M2957.8 593.9h0M2959.3 601.4h0M2960.9 604.4h0M2962.4 608.5h0M2963.9 612.1h0M2965.5 612.1h0M2967 612.1h0M2968.5 613.6h0M2970.1 613.4h0M2971.6 613.5h0M2973.1 613.8h0M2974.7 613.6h0M2976.2 613.1h0M2977.7 612.9h0M2979.2 613.8h0M2980.8 612.2h0M2982.3 612.6h0M2983.8 612h0M2985.4 612.3h0M2986.9 612.2h0M2988.4 612.5h0M2990 613.1h0M2991.5 612.7h0M2993 612.8h0M2994.6 612.5h0M2996.1 612.4h0M2997.6 613.1h0M2999.2 612.3h0M3000.7 613.2h0M3002.2 609.9h0M3003.8 608.3h0M3005.3 608h0M3006.8 606.2h0M3008.4 608.1h0M3009.9 605.7h0M3011.4 603.3h0M3013 599.7h0M3014.5 595.9h0M3016 592.8h0M3017.6 592.3h0M3019.1 590.7h0M3020.6 591.9h0M3022.2 598h0M3023.2 608.5h0M3024.2 619.1h0M3025.2 629.7h0M3025.7 638h0M3026.2 646.3h0M3026.8 654.6h0M3027.3 664.7h0M3027.8 674.8h0M3028.3 685h0M3029.8 692.4h0M3031.4 695.9h0M3032.9 703.9h0M3034.2 710.1h0M3035.9 704.2h0M3037.5 699.3h0M3039 693.9h0M3040.5 686.8h0M3042.1 679.6h0M3043.6 673.5h0M3045.1 671.1h0M3046.7 669.1h0M3048.2 667h0M3049.7 665.2h0M3051.3 663.1h0M3052.8 663.2h0M3054.3 662.5h0M3055.9 661.7h0M3057.4 661.6h0M3058.9 660.2h0M3060.5 659.5h0M3062 658.5h0M3063.5 657.3h0M3065.1 656h0M3066.8 655.7h0M3068.1 658.7h0M3069.7 660.1h0M3071.2 661.7h0M3072.7 659.9h0M3074.3 662.9h0M3075.8 665.7h0M3077.3 668.5h0M3078.9 671.1h0M3080.4 673.7h0M3081.9 675.2h0M3083.5 675.6h0M3085 677.1h0M3086.5 676.4h0M3088 672.9h0M3089.6 671h0M3091.1 669.7h0M3092.6 669.3h0M3094.2 668.7h0M3095.7 669h0M3097.2 670.1h0M3098.8 670.3h0M3100.3 669.9h0M3101.8 669.3h0M3103.4 669.8h0M3104.9 669.3h0M3106.4 667.9h0M3108 668.2h0M3109.5 669.8h0M3111 670.9h0M3112.6 671.6h0M3114.1 672.2h0M3115.6 672.2h0M3117.2 671.2h0M3118.7 671.1h0M3120.2 670.9h0M3121.8 669.5h0M3123.3 669.7h0M3124.8 670.9h0M3126.4 671.9h0M3127.9 671h0M3129.4 672.1h0M3131 672.4h0M3132.5 672.8h0M3134 671.8h0M3135.6 671.4h0M3137.1 673.3h0M3138.6 673.5h0M3140.1 674.4h0M3141.7 674.6h0M3143.2 675.1h0M3144.7 676.1h0M3146.3 675.8h0M3147.8 672.9h0M3149.3 670.8h0M3150.9 669.4h0M3152.4 667h0M3153.9 666.3h0M3155.5 665.6h0M3157 664.8h0M3158.5 664.6h0M3160.1 667.7h0M3161.6 669h0M3163.1 670h0M3164.7 670.9h0M3166.2 672.8h0M3167.7 672.1h0M3169.3 671.9h0M3170.8 671.9h0M3172.3 672.3h0M3173.9 671.5h0M3175.4 669.9h0M3176.9 670.2h0M3178.5 670.2h0M3180 669.4h0M3181.5 668.7h0M3183.1 668.9h0M3184.6 668.4h0M3186.1 667.5h0M3187.7 667.5h0M3189.2 666.7h0M3190.7 667.1h0M3192.2 666.9h0M3193.8 666.6h0M3195.3 665.9h0M3196.8 666.3h0M3198.4 665.8h0M3199.9 666.5h0M3201.4 666.7h0M3203 666.6h0M3204.5 667.7h0M3206 664.1h0M3207.6 663.4h0M3209.1 663.3h0M3210.6 662.6h0M3212.2 662.1h0M3213.7 660.8h0M3215.2 661.8h0M3216.8 662.4h0M3218.3 664.1h0M3219.8 666.3h0M3221.4 666.9h0M3222.9 668.4h0M3224.4 670.6h0M3226 672.6h0M3227.5 674.3h0M3229 676.3h0M3230.6 676.9h0M3232.1 677.2h0M3233.6 677.2h0M3235.2 677.7h0M3236.7 678.7h0M3238.2 677.2h0M3239.8 677.6h0M3241.3 678.1h0M3242.8 678.1h0M3244.4 678.7h0M3245.9 678.9h0M3247.4 679.2h0M3248.9 683.2h0M3250.5 683.3h0M3252 683.5h0M3253.5 683.8h0M3255.1 683.7h0M3256.6 682.7h0M3258.1 681.9h0M3259.7 682.2h0M3261.2 683.1h0M3262.7 683.5h0M3264.3 684h0M3265.8 684.2h0M3267.3 683.8h0M3268.9 683.4h0M3270.4 683.6h0M3271.9 683.9h0M3273.5 683.6h0M3275 682.7h0M3276.5 682.8h0M3278.1 682.3h0M3279.6 682.5h0M3281.1 682.3h0M3282.7 681.5h0M3284.2 680.8h0M3285.7 681.1h0M3287.3 680.7h0M3288.8 680.8h0M3290.3 681.1h0M3291.9 680.3h0M3293.4 679.5h0M3294.9 679.2h0M3296.5 677.8h0M3298 676.9h0M3299.5 675h0M3301 673.4h0M3302.6 672.6h0M3304.1 671.7h0M3305.6 671.1h0M3307.2 659.3h0M3308.7 650.2h0M3310.2 641h0M3311.8 633.4h0M3313.3 625.8h0M3314.8 618.6h0M3316.4 613.1h0M3317.9 607.6h0M3319.8 599.5h0M3321 601.9h0M3322.5 604.4h0M3324 606.9h0M3325.6 608.7h0M3327.1 609.4h0M3328.6 610.5h0M3330.2 611h0M3331.7 611.7h0M3333.2 612.8h0M3334.8 612.6h0M3336.3 612.2h0M3337.8 614.4h0M3339.4 610.9h0M3340.9 613.5h0M3342.4 613.4h0M3344 612.9h0M3345.5 610.2h0M3347 611.3h0M3348.6 612.9h0M3350.1 610.3h0M3351.6 610.7h0M3353.1 612.5h0M3354.7 610.5h0M3356.2 611.4h0M3357.7 609.6h0M3359.3 612h0M3360.8 608.4h0M3362.3 614h0M3363.9 621.5h0M3364.8 625.1h0M3366.9 616.8h0M3368.5 611.8h0M3370 610.1h0M3371.5 610.9h0M3373.1 608.9h0M3374.6 607.8h0M3376.1 605.9h0M3377.7 606.9h0M3379.2 606.2h0M3380.7 607.6h0M3382.3 608.1h0M3383.8 607.9h0M3385.3 606.9h0M3386.9 610.6h0M3388.4 610.8h0M3389.9 611.5h0M3391.5 612.5h0M3393 610h0M3394.5 607.5h0M3396.1 606.2h0M3397.6 608.6h0M3399.1 606.5h0M3400.7 608.2h0M3402.2 607.6h0M3403.7 607.4h0M3405.3 609h0M3406.8 607.1h0M3408.3 606.7h0M3409.8 607.4h0M3411.4 609.1h0M3412.9 607.7h0M3414.4 607.9h0M3416 607.6h0M3417.5 609.9h0M3419 608.8h0M3420.6 608.7h0M3422.1 608.5h0M3423.6 609h0M3425.2 611.5h0M3426.7 611.6h0M3428.2 612.5h0M3429.8 610.5h0M3431.3 610h0M3432.8 610.6h0M3434.4 610.5h0M3435.9 610.8h0M3437.4 611.7h0M3439 609.4h0M3440.5 611.7h0M3442 609.9h0M3443.6 608.5h0M3445.1 609.8h0M3446.6 605.9h0M3448.2 606.6h0M3449.7 605.1h0M3451.2 605.7h0M3452.8 605.9h0M3454.3 606.4h0M3455.8 606h0M3457.4 604.5h0M3458.9 601.9h0M3460.4 603.8h0M3461.9 602.5h0M3463.5 606.6h0M3465 607.1h0M3466.5 606.2h0M3468.1 606.7h0M3469.6 609.3h0M3471.1 612.3h0M3472.7 618.2h0M3474.2 623.5h0M3475.2 632.9h0M3476.3 642.4h0M3477.3 651.8h0M3477.6 660.3h0M3477.9 668.9h0M3478.3 677.4h0M3478.8 667.4h0M3479.3 657.4h0M3479.8 647.4h0M3480.3 637.4h0M3480.7 628.3h0M3481.1 619.3h0M3481.5 610.2h0M3481.9 601.1h0M3482.4 592.9h0M3482.9 584.7h0M3483.4 576.5h0M3484.2 564.7h0M3484.9 552.9h0M3485.7 544.3h0M3486.5 535.6h0M3488 527.5h0M3489.5 522.5h0M3491.1 520.1h0M3492.6 519.6h0M3494.1 523.9h0M3495.7 528.5h0M3497.2 530.6h0M3498.7 530.8h0M3500.3 532.7h0M3501.8 530.4h0M3503.3 530.9h0M3504.9 530.8h0M3506.4 528.4h0M3507.9 525.7h0M3509.5 523h0M3511 520.7h0M3512.5 518.1h0M3514 519.2h0M3515.6 519.9h0M3517.1 520.3h0M3518.6 517.7h0M3520.2 519.2h0M3521.7 518.6h0M3523.2 515.5h0M3524.8 516.7h0M3526.3 514.6h0M3527.8 514.7h0M3529.4 513h0M3531.1 511.2h0M3532.4 510.7h0M3534 511.5h0M3535.5 513.4h0M3537 514.3h0M3538.6 513.8h0M3540.1 517.5h0M3541.6 516.7h0M3543.2 516.7h0M3544.7 517.9h0M3546.2 516.3h0M3547.8 518h0M3549.3 519.6h0M3550.8 518.6h0M3552.4 519.1h0M3553.9 518.2h0M3555.4 518.1h0M3557 517.7h0M3558.5 518.3h0M3560 519.8h0M3561.6 518.7h0M3563.1 517.9h0M3564.6 520.3h0M3566.1 519.3h0M3567.7 519.6h0M3569.2 520.8h0M3570.7 517.4h0M3572.3 518h0M3573.8 518.3h0M3575.3 518h0M3576.9 514.1h0M3578.4 513.8h0M3579.9 514.2h0M3581.5 513.4h0M3583 511.2h0M3584.5 515.5h0M3586.1 517.7h0M3587.6 516.7h0M3589.1 516.1h0M3590.7 518.8h0M3592.2 517.5h0M3593.7 517.6h0M3595.3 520h0M3596.8 520.1h0M3598.3 522.6h0M3599.9 523.8h0M3601.4 524.8h0M3602.9 527h0M3604.5 528.8h0M3606 530.7h0M3607.5 532.4h0M3609.1 534.6h0M3610.6 536.6h0M3612.1 539.2h0M3613.7 541.7h0M3615.2 542.5h0M3616.7 543.3h0M3618.3 544.2h0M3619.8 545.2h0M3621.3 546.4h0M3622.8 547.6h0M3624.4 549.8h0M3625.9 552.5h0M3627.4 555h0M3629 557.9h0M3630.5 561.9h0M3632 565.4h0M3633.6 569.8h0M3635.1 574.1h0M3636.6 574.5h0M3638.2 575.3h0M3639.7 574.7h0M3641.2 574.7h0M3642.8 575.2h0M3644.3 573.4h0M3645.8 573.6h0M3647.4 573.9h0M3648.9 574.1h0M3650.4 575.9h0M3652 580h0M3653.5 584h0M3655 591h0M3656.6 597h0M3658.1 605.8h0M3659.6 614.5h0M3661.2 624h0M3662.7 633.5h0M3663.5 639.6h0M3664.2 645.7h0M3665 651.7h0M3665.8 657.7h0M3667.3 668.7h0M3668.7 678.5h0M3670.3 671.4h0M3671.9 664.3h0M3673.4 655.5h0M3674.9 646.6h0M3675.7 640.5h0M3676.5 634.5h0M3677.2 628.4h0M3678 622.2h0M3679.5 611.1h0M3681.1 603.9h0M3682.6 596.8h0M3684.1 593.4h0M3685.7 590.8h0M3687.2 588.6h0M3688.7 586.6h0M3690.3 585.2h0M3691.8 585.1h0M3693.3 584.2h0M3694.9 583.6h0M3696.4 583.2h0M3697.9 582.2h0M3699.5 581.5h0M3701 581.6h0M3702.5 581.3h0M3704.1 580.7h0M3705.6 580h0M3707.1 580.3h0M3708.7 579.9h0M3710.2 579.1h0M3711.7 579.2h0M3713.3 578.9h0M3714.8 578.2h0M3716.3 578.1h0M3717.9 577.7h0M3719.4 577.8h0M3720.9 577.3h0M3722.5 579h0M3724 578.7h0M3725.5 579h0M3727 578.3h0M3728.6 578.5h0M3730.1 577.8h0M3731.6 578.1h0M3733.2 578.3h0M3734.7 576.1h0M3736.2 576.3h0M3737.8 575.6h0M3739.3 575.5h0M3740.8 576.7h0M3742.4 575.7h0M3743.9 576.1h0M3745.4 575h0M3747 575.2h0M3748.5 575.1h0M3750 574.8h0M3751.6 574.1h0M3753.1 574h0M3754.6 573.9h0M3756.2 573.6h0M3757.7 572.2h0M3759.2 570.4h0M3760.8 568.4h0M3762.3 567.1h0M3763.8 565.3h0M3765.4 562.6h0M3766.9 561.3h0M3768.4 558.9h0M3770 558.2h0M3771.5 558.2h0M3773 559h0M3774.6 559.6h0M3776.1 559.3h0M3777.6 560h0M3779.1 560.3h0M3780.7 560.5h0M3782.2 561.9h0M3783.7 564.1h0M3785.3 566h0M3786.8 567.5h0M3788.3 568.9h0M3790.3 572.4h0M3791.4 570.6h0M3792.9 569h0M3794.5 567.6h0M3796 567.9h0M3797.5 566.6h0M3799.1 565.4h0M3800.6 564.6h0M3802.1 563h0M3803.2 562.1h0M3805.2 563.3h0M3806.7 563.4h0M3808.3 564.4h0M3809.8 564.4h0M3811.3 566.4h0M3812.9 567.5h0M3814.4 568.1h0M3815.9 568.9h0M3817.5 569.1h0M3819 569.9h0M3820.5 570.3h0M3822.1 570.8h0M3823.6 570.5h0M3825.1 571.2h0M3826.7 571.7h0M3828.2 571.5h0M3829.7 572h0M3831.3 572.3h0M3832.8 572.7h0M3834.3 572.3h0M3835.8 572.5h0M3837.4 572.7h0M3838.9 573h0M3840.4 573.2h0M3842 572.4h0M3843.5 571.2h0M3845 571.3h0M3846.6 570.7h0M3848.1 569.3h0M3849.6 569.3h0M3851.2 568.6h0M3852.7 567.2h0M3854.2 566.9h0M3855.8 565.7h0M3857.3 564.6h0M3858.8 565.2h0M3860.4 564.7h0M3861.9 562.9h0M3863.4 562.9h0M3865 563.2h0M3866.5 563.7h0M3868 563.6h0M3869.6 563.8h0M3871.1 564.7h0M3872.6 565.1h0M3874.2 566.9h0M3875.7 568.3h0M3877.2 568.9h0M3878.8 570.7h0M3880.3 571.3h0M3881.8 572.4h0M3883.4 573.5h0M3884.9 574.3h0M3886.4 574.9h0M3887.9 576.5h0M3889.5 576.5h0M3891 577.1h0M3892.5 577.9h0M3894.1 577.9h0M3895.6 579h0M3897.1 579.3h0M3898.7 578.7h0M3900.2 576.8h0M3901.7 576.9h0M3903.3 577.7h0M3904.8 577.3h0M3906.3 577.5h0M3907.9 577.1h0M3909.4 578.2h0M3910.9 578.2h0M3912.5 578.5h0M3914 578.3h0M3915.5 575.6h0M3917.1 572.1h0M3918.6 570.6h0M3920.1 566.6h0M3921.7 563.1h0M3923.2 558.7h0M3924.7 555h0M3926.3 551h0M3927.8 546.8h0M3929.3 540.5h0M3930.9 536h0M3932.4 534.8h0M3933.9 534.1h0M3935.5 533h0M3937 535h0M3938.5 538.9h0M3940 544.8h0M3941.6 552.7h0M3943.1 560.7h0M3944.6 566.6h0M3946.2 569.2h0M3947.7 571.7h0M3949.2 574.1h0M3950.8 576.9h0M3952.3 579.4h0M3953.8 579.7h0M3955.4 581.1h0M3956.9 583.2h0M3958.4 584.2h0M3960 584.1h0M3961.5 583.7h0M3963 584.1h0M3964.6 583.8h0M3966.1 583.5h0M3967.6 584.2h0M3969.2 584.1h0M3970.7 585h0M3972.2 587.4h0M3973.8 589.8h0M3975.3 592.4h0M3976.8 594.5h0M3978.4 596.1h0M3979.9 597.7h0M3981.4 599.4h0M3982.8 599.6h0M3984.5 597.6h0M3986 595.2h0M3987.6 593.2h0M3989.1 590.7h0M3990.6 588.8h0M3992.1 586.3h0M3993.7 583.1h0M3995.2 582.1h0M3996.7 578.9h0M3998.3 576.4h0M3999.8 574.4h0M4001.3 572.2h0M4002.9 570.2h0M4004.4 566h0M4006.1 564.7h0M4007.5 566.4h0M4009 569.4h0M4010.5 572.6h0M4012.1 575.7h0M4013.6 578.6h0M4015.1 581.3h0M4016.7 584h0M4017.7 586.7h0M4019.7 582.4h0M4021.3 579.8h0M4022.8 577.6h0M4024.3 574.6h0M4025.9 574.6h0M4027.4 573.6h0M4028.9 573.4h0M4030.5 572.3h0M4032 572h0M4033.5 571.9h0M4035.1 573.6h0M4036.6 573.4h0M4038.1 574.3h0M4039.7 573.5h0M4041.2 574.5h0M4042.7 574.7h0M4044.3 575.9h0M4045.8 576.8h0M4047.3 576.7h0M4048.8 577.4h0M4050.4 577.6h0M4051.9 578h0M4053.4 578h0M4055 579.1h0M4056.5 579.8h0M4058 579.9h0M4059.6 579.8h0M4061.1 580.3h0M4062.6 580.7h0M4064.2 580.8h0M4065.7 581.4h0M4067.2 581.7h0M4068.8 581.5h0M4070.3 584.5h0M4071.8 585.5h0M4073.4 585.5h0M4074.9 585.9h0M4076.4 587.1h0M4078 587.2h0M4079.5 588.3h0M4081 587.3h0M4082.6 583.8h0M4084.1 583.4h0M4085.6 582.2h0M4087.2 581.9h0M4088.7 580.9h0M4090.2 580.1h0M4091.5 580.2h0M4093.3 580.7h0M4094.8 582.9h0M4096.4 585.1h0M4097.9 586.1h0M4099.4 587.7h0M4100.9 589.1h0M4101.8 590.6h0M4102.5 589.4h0M4104 588.1h0M4105.5 587h0M4107.1 584.6h0M4108.6 583h0M4110.1 582.3h0M4111.7 580.9h0M4113.2 581.5h0M4114.7 580.8h0M4116.3 580.3h0M4117.8 578.7h0M4119.9 577.6h0M4120.9 578.8h0M4122.4 579.8h0M4123.9 581.4h0M4125.5 582.2h0M4126.4 582.8h0M4127 582.8h0M4128.5 580.9h0M4130.1 578.5h0M4131.6 577.6h0M4133.1 575.6h0M4134.7 574.2h0M4136.2 573.4h0M4138 572.4h0M4139.3 572.1h0M4140.8 572.2h0M4142.3 574.7h0M4143.9 575.4h0M4145.4 576.2h0M4146.9 577.4h0M4148.5 576h0M4149.7 577.6h0M4151.5 574.8h0M4153 572.8h0M4154.6 571h0M4156.1 569h0M4157.6 567.6h0M4159.2 568.4h0M4160.7 567h0M4162.2 566.4h0M4163.8 565.2h0M4165.3 562.4h0M4166.5 562.1h0M4168.4 564.5h0M4169.9 567h0M4171.4 570.3h0M4173 572.4h0M4174.5 574.8h0M4176 578.7h0M4177.6 581.2h0M4179.1 583.6h0M4180.7 584.1h0M4182.2 583.3h0M4183.7 580.6h0M4185.2 578.5h0M4186.8 576.6h0M4188.3 574.9h0M4189.8 573.2h0M4191.4 571.9h0M4192.9 571h0M4194.4 569.1h0M4196 567.1h0M4197.5 566h0M4199 567.3h0M4200.6 569.7h0M4202.1 572.2h0M4203.6 574.8h0M4205.1 576.4h0M4206.7 576.3h0M4208.2 576.1h0M4209.7 575.7h0M4211.3 574.8h0M4212.8 575.2h0M4214.3 575.2h0M4215.9 574.9h0M4217.4 574.5h0M4218.9 574.3h0M4220.5 575.1h0M4222 574.6h0M4223.5 574.3h0M4225.1 574.3h0M4226.6 575.1h0M4228.1 574.8h0M4229.7 575.1h0M4231.2 574.2h0M4232.7 574.3h0M4234.3 574.5h0M4235.8 574.4h0M4237.3 573.8h0M4238.9 573h0M4240.4 572.8h0M4241.9 571.4h0M4243.5 570.5h0M4245 569.9h0M4246.5 568.8h0M4248.1 567.7h0M4249.6 566.9h0M4251.1 564.4h0M4252.7 562.2h0M4254.2 560.3h0M4255.7 557.9h0M4257.3 556.4h0M4258.8 554.8h0M4260.3 553.8h0M4261.8 552.4h0M4263.4 554.3h0M4264.9 556h0M4266.4 557.4h0M4268 560.6h0M4269.5 565.5h0M4271 569.5h0M4272.6 575h0M3326.5 658.5h0M3328 647.5h0M3329.6 642.9h0M3331.2 637.2h0M3332.8 638h0M3334.4 636.8h0M3336 636.9h0M3337.6 634.7h0M3339.2 635.2h0M3340.7 634.9h0" fill="none" stroke="#ff0000" stroke-width="15.2" stroke-linecap="round"/>
<path d="M910.6 689.3L912.1 680L913.6 671.3L915.2 664.2L916.7 657.2L918.2 649.9L919.8 646.2L921.3 642.4L922.8 638.2L924.4 639.7L925.9 639.3L927.4 643.7L929 644.4L930.5 648.4L932 649.9L933.5 653.5L935.1 657.5L936.6 660.3L938.1 664.6L939.7 667.3L941.2 670.9L942.7 672.1L944.3 673.3L945.8 674.5L947.3 675.3L948.4 666.7L949.4 658.1L950.4 649.5L951.2 643.2L951.9 636.9L953.5 626L955 620.3L956.5 620.5L958.1 618.5L959.6 618.4L961.1 621.4L962.7 625.6L964.2 629L964.9 631.8L965.7 630.1L967.3 626.5L968.8 623.4L970.3 621.2L971.9 620.3L973.4 622.1L974.9 627.9L976.5 634.3L978 639.3L979.5 642.7L981.1 649.1L982.6 653L983.5 653.5L985.7 650.9L987.2 648.4L988.7 643.9L990.3 642.4L991.8 641.5L993.3 639.8L994.9 638.4L996.4 638.7L997.9 638.8L999.5 639L1001 640.7L1002.5 650L1004 659.4L1005.6 666.3L1007.1 673.2L1008.6 674.5L1010.2 676.8L1011.7 676.8L1013.2 678.2L1014.6 681.5L1015.5 672.4L1016.3 663.2L1017.1 656.2L1017.8 649.2L1018.6 641.4L1019.4 633.6L1020.1 626.5L1020.9 619.3L1022.4 618.5L1024 617.3L1025.5 627.4L1027 637.6L1028.6 640.1L1030.1 642.8L1031.6 643.3L1033.2 645.8L1034.7 643.1L1036.2 642.8L1037.8 641.7L1039.3 641.5L1040.8 640.6L1042.4 640.8L1043.9 639.6L1045.4 639.2L1047 639.1L1048.5 638.5L1050 639.5L1051.6 638.3L1053.1 639.6L1054.6 638.9L1056.2 638.4L1057.7 638.5L1059.2 638L1060.8 636.2L1062.3 636.2L1063.8 634.6L1065.4 635.2L1066.9 633L1068.4 633.4L1070 634.1L1071.5 633.1L1073 632.1L1074.6 632.9L1076.1 632.3L1077.6 632.9L1079.1 634.1L1080.7 634.2L1082.2 633.1L1083.7 634.6L1085.3 635.8L1086.8 635.9L1088.3 637.9L1089.9 638.8L1091.4 638.2L1092.9 637.1L1094.5 637.2L1096 635.8L1097.5 634.5L1099.1 635.3L1100.6 634.8L1102.1 636.5L1103.7 636.2L1105.2 637L1106.7 636.8L1108.3 637.5L1109.8 636.4L1111.3 637.2L1112.9 638.4L1114.4 638.2L1115.9 636.9L1117.5 637.4L1119 636.5L1120.5 636.4L1122.1 636.2L1123.6 636.9L1125.1 636.6L1126.7 637.2L1128.2 637.6L1129.7 634.5L1131.3 634.1L1132.8 632.9L1133.5 630.2L1134.3 634.2L1135.9 639.9L1137.4 644.7L1138.9 655.5L1140.5 666.3L1142 677.1L1143.5 687.9L1144.3 697L1145.1 706.2L1145.8 712.5L1146.6 718.8M1195.7 740.5L1197.2 734.9L1198.7 729.9L1200.3 720.7L1201.8 711.5L1203.4 699.7L1204.9 688L1206.4 679L1208 672.7L1209.5 670.2L1211.1 669.9L1212.6 666.9L1214.1 666.3L1215.7 667.7L1217.2 666.9L1218.8 665.1L1220.3 664.2L1221.8 661.6L1223.4 658.1L1224.9 653.3L1226.5 648L1228 643.3L1229.5 640.8L1231.1 639.2L1232.6 638L1234.2 637.9L1235.7 637.1L1237.2 638.8L1238.8 639.4L1240.3 641.2L1241.9 644.9L1243.4 648.9L1244.9 651.7L1246.5 652.6L1248 652.5L1249.6 653.9L1251.1 654.1L1252.6 650.9L1254.2 649L1255.7 646.9L1257.3 645.1L1258.8 642.9L1260.3 643.6L1261.9 641.9L1263.4 640.7L1265 639.5L1266.1 638L1268 641.7L1269.6 644L1271.1 644.8L1272.7 646.8L1274.2 649L1275.7 650.9L1277.3 653.9L1278.8 655.2L1280.4 654.9L1281.9 655.8L1283.4 655.1L1285 655.2L1286.5 644.4L1288.1 633.6L1289.6 631.7L1291.1 630.2L1292.7 634.6L1294.2 639.3L1295.8 644L1297.3 654.1L1298.8 664.2L1300.4 669L1301.9 672.5L1303.4 675.3L1305 666L1306.5 656.6L1308.1 658.3L1309.6 662.9M1345.3 678.4L1346.9 667.9L1348.4 658.6L1350 651.1L1351.5 643.6L1353 642.4L1354.6 640.7L1356.1 638.7L1357.7 637.7L1359.2 637.6L1360.7 636.2L1362.3 636.7L1363.8 635.5L1365.4 634.3L1366.9 634.3L1368.5 635.2L1370 633.8L1371.5 634.6L1373.1 634.1L1374.6 632.7L1376.2 633.7L1377.7 633.7L1379.2 633.9L1380.8 632.8L1382.3 634.8L1383.9 635.2L1385.4 634.7L1386.9 634.5L1388.5 633.7L1390 634.6L1391.6 634.9L1393.1 633.8L1394.6 636L1396.2 636.5L1397.7 636.7L1399.3 635.3L1400.8 638.4L1402.3 638.7L1403.9 637.1L1405.4 638.2L1407 634.4L1408.5 635L1410.1 633.9L1411.6 632.9L1413.1 632.2L1414.7 634.1L1416.2 633.9L1417.8 634.4L1419.3 634L1420.8 633.3L1422.4 629.5L1423.9 629.7L1425.5 629.4L1427 628.2L1428.5 627.8L1430.1 629.2L1431.6 632.8L1433.2 633.5L1434.7 634.7L1436.2 634.9L1437.8 637.2L1439.3 636.8L1440.9 639.2L1442.4 639.4L1443.9 638.6L1445.5 640.8L1447 637.8L1448.6 637.8L1450.1 638.4L1451.6 635.9L1453.2 633.3L1454.7 631.7L1456.3 630.1L1457.8 630.1L1459.4 629.1L1460.9 626.7L1462.4 627.8L1464 632.6L1465.5 638.4L1467.1 644.3L1468.6 650.5L1470.1 656.4L1470.7 665.8L1471.2 675.2L1471.7 684.6M1505.6 613.2L1506.4 624.2L1507.1 635.2L1507.9 645.9L1508.7 656.6L1509.4 662.9L1510.2 669.3L1511 675.4L1511.8 681.5L1513.3 672.2L1514.8 662.9L1516.3 657.7L1517.9 653.8L1519.4 648.7L1521 644.6L1522.5 644.4L1524 644L1525.6 644.3L1527.1 645.8L1528.6 646.4L1530.2 647L1531.7 645.1L1533.2 643.1L1534.8 640.2L1536.3 638.6L1537.9 636.6L1539.4 633.8L1540.9 632.2L1542.5 632.3L1544 632.5L1545.5 631.1L1547.1 630.6L1548.6 630.8L1550.1 632.3L1551.7 632.7L1553.2 634.2L1554.8 636.5L1556.3 636.5L1557.8 638.2L1559.4 639.5L1560.9 640.5L1562.4 641L1564 640.5L1565.5 640.9L1567 641.3L1568.6 640.6L1570.1 640.1L1571.7 640.3L1573.2 639.9L1574.7 637.8L1576.3 636.7L1577.8 637.6L1579.3 638.5L1580.9 638.4L1582.4 637.9L1583.9 638.8L1585.5 641.7L1587 641.4L1588.6 640.1L1590.1 640.3L1591.6 639.1L1593.2 637.3L1594.7 634.1L1596.2 632.8L1597.8 633.1L1599.3 633.7L1600.8 632.8L1602.4 632.8L1603.9 633L1605.5 632.5L1607 635.3L1608.5 640.2L1610.1 642.5L1611.6 645.2L1613.1 647.9L1614.3 647.3L1616.2 647.6L1617.8 645.6L1619.3 644.3L1620.8 642.5L1622.4 641.8L1623.9 636.4L1625.4 636.9L1627 637.1L1628.5 637.6L1630 638.8L1631.6 640.8L1633.1 642.3L1634.7 643.6L1636.2 645.5L1637.7 646.6L1639.3 647.9L1640.7 648.9L1642.3 643.9L1643.9 639.2L1645.4 635.9L1646.9 631.9L1648.5 629.2L1650 628.2L1651.6 628.7M1747.8 638L1749.4 636.2L1750.9 635.6L1752.4 634.8L1753.9 633.9L1755.5 631.4L1757 631L1758.5 627.1L1760.1 624.1L1761.6 621.7L1763.1 618.5L1763.9 608.5L1764.7 598.5L1765.4 587.9L1766.2 577.3L1767.9 569.6L1769.6 561.9L1770.8 564.8L1772.3 568.1L1773.8 572.3L1774.6 581.6L1775.4 590.9L1775.9 599.1L1776.4 607.2L1776.9 615.4L1778.4 626.7L1780 631L1782 639.6L1783 636.8L1784.6 634.4L1786.1 633.2L1787.6 630.3L1789.1 628.3L1790.7 626.1L1792.2 624.7L1793.7 624.4L1795.3 624.6L1796.8 625.6L1798.3 626.8L1799.9 627.3L1801.4 626.9L1802.9 628.3L1804.4 628.4L1806 627.4L1807.5 628.9L1809 633.4L1810.6 632.3L1812.1 633.3L1813.6 634.2L1815.2 634.1L1816.7 634.3L1818.2 633.7L1819.8 634.2L1821.3 635.6L1822.8 632.8L1824.3 633.2L1825.9 633.5L1827.4 632.7L1828.9 632.8L1830.5 632.8L1832 633.3L1833.5 633.1L1835.1 632.7L1836.6 633.2L1838.1 633.5L1839.6 634.4L1841.2 634.3L1842.7 632.1L1844.2 632.7L1845.8 633.3L1847.3 634.3L1848.8 638.3L1850.4 638.4L1851.9 634.3L1853.4 632.5L1855 629.2L1856.5 626.3L1858 623.2L1859.5 611.9L1860.3 605.7L1861.1 599.6L1861.8 593.3L1862.6 587L1863.4 580.9L1864.1 574.7L1864.9 568.5L1865.7 562.2L1867.2 550.9L1868.7 543.1L1870.3 535.4L1872 526.2L1873.4 533.6L1874.8 541L1876.4 547.1L1877.9 558.1L1878.7 564.3L1879.4 570.4L1881.2 579.3L1882.9 588.3L1884 588.2L1885.6 587.9L1887.1 586L1888.6 585.5L1890.1 583.7L1891.7 583.2L1893.2 581.9L1894.7 581L1896.3 578.6L1897.8 579.8L1899.3 580.7L1900.9 580.7L1902.4 581.1L1903.9 582.2L1905.5 583.2L1907 584.4L1908.5 583.7L1910 584.9L1911.6 586.1L1913.1 586.1L1914.6 585.3L1916.2 583.8L1917.7 582L1919.2 579.1L1920.8 578.6L1922.3 575.3L1923.8 569.4L1925.3 565.8L1926.9 561.3L1928.4 557.8L1929.9 556L1931.5 553.1L1933 552.9L1934.5 556.7L1936.1 562.2L1937.6 568.5L1938.4 575.1L1939.1 581.7L1939.9 588.9L1940.6 596L1941.2 604.3L1941.7 612.7L1942.2 621L1942.9 632.5L1943.7 643.9L1945 653.5L1946.8 647.7L1948.3 641L1949.8 636.6L1951.4 630.7L1952.9 628.6L1954.4 624.9L1956 622.3L1957.5 621.2L1959 622.9L1960.5 622.1L1962.1 622.8L1963.6 623.1L1965.1 623.1L1966.7 623.7L1968.2 624.5L1969.7 624.5L1971.3 625.5L1972.8 626.2L1974.3 628.3L1975.8 625.8L1977.4 624.7L1978.9 622.5L1980.4 619.3L1982 618.4L1983.5 616.6L1985 617.3L1986.6 617.9L1988.1 618.7L1989.6 618.9L1991.2 619L1992.7 620.4L1994.2 619.9L1995.7 621L1997.3 621.1L1998.8 622.4L2000.3 624L2001.9 623.6L2003.4 623.4L2004.9 623.1L2006.5 622L2008 620.5L2009.5 619.7L2011 621.1L2012.6 625L2014.1 628.1L2015.6 631.2L2017.2 640.8L2018.7 650.5L2019.5 658.7L2020.2 667L2021 676.8L2021.8 686.6L2022.5 692.6L2023.3 698.6L2024.2 706.3L2026.3 700.3L2027.9 696L2029.4 691.8L2030.9 688L2032.5 685.2L2034 681.8L2035.5 678.1L2036.6 675.3L2038.6 675.5L2040.1 677L2041.7 678.5L2043.2 678.5L2044.4 681.5L2046.2 674.5L2047.8 669.4L2049.3 664.1L2050.1 657.9L2050.8 651.8L2052.4 640L2053.1 633.9L2053.9 627.8L2055.4 616.1L2057 611.9L2058.4 607L2060 610.6L2061.5 615.3L2063.1 619.4L2064.6 626.7L2066.1 633.9L2067.7 640.3L2069.2 642L2070.7 642.2L2072.3 642.3L2073.8 638.1L2075.3 632.8L2076.8 626.5L2078.4 621.9L2079.9 619.2L2081.4 615.6L2083.2 610.1L2084.5 613.4L2086 616.5L2087.9 619.4L2089.1 617.2L2090.6 611.6L2092.2 607.7L2093.7 603.2L2095.2 600.2L2096.7 598.8L2098.3 608.8L2099.8 618.8L2100.6 626.3L2101.3 633.8L2102.1 642.1L2102.9 650.4L2103.4 660.4L2103.9 670.4L2104.4 680.3L2104.9 688.6L2105.4 696.9L2105.9 705.2L2106.7 714.4L2107.5 723.7L2108.2 730.3L2109 736.8L2110.5 746.9L2111.2 752.9L2112 749L2113.6 743.4L2115.1 739.2L2116.6 733L2118.2 728.5L2119.7 723.6L2121.2 718.1L2122.8 714.8L2124.3 715.9L2125.8 717.4L2127.4 716.5L2128.9 718.3L2130.4 720L2131.9 724L2133.5 727.1L2135 731.6L2136.5 735.4L2137.6 737.4L2139.6 735.2L2141.1 732.6L2142.7 730.5L2144.2 727.5L2145.7 725.9L2147.2 725.3L2148.8 725.4L2150.3 722.9L2151.8 721.4L2153.4 722.2L2154.9 724.2L2156.4 725.4L2158 725L2159.5 727.4L2161 728.6L2162.5 730.1L2164.1 730.9L2165.6 731.9L2167.1 732.8L2168.7 732.1L2170.2 733.6L2171.7 733L2173.3 734.2L2174.8 733L2176.3 733.1L2177.9 732.8L2179.4 732.7L2180.9 732.7L2182.4 733.9L2184 735L2185.5 735.7L2187 734.1L2188.6 733.9L2190.1 734.3L2191.6 733.9L2193.2 732.3L2194.7 730.8L2196.2 731L2197.7 729.2L2199.3 727.6L2200.8 725.4L2202.3 725.2L2203.9 726.1L2205.4 725.4L2206.9 726.8L2208.5 727.7L2210 728.1L2211.5 728.9L2213.1 728.5L2214.6 727.1L2216.1 724.8L2217.6 724.6L2219.2 723.9L2220.7 723.1L2221.7 721.9L2223.8 722.8L2225.3 723.2L2226.8 726.1L2228.4 726.3L2229.9 727.8L2231.4 728.2L2232.9 730.3L2234.5 729.7L2236 731.6L2237.3 731.2L2239.1 731.6L2240.6 730.4L2242.1 728.7L2243.7 728.7L2245.2 728.5L2246.7 727.3L2248.2 727.4L2249.8 726.5L2251.3 724.9L2252.8 723.7L2254.4 725L2255.9 724.8L2257.4 725.6L2259 725.1L2260.5 725.8L2262 724.9L2263.6 726L2265.1 726.4L2266.6 725.3L2268.1 724.2L2269.7 723L2271.2 721.5L2272.7 720.8L2274.3 719.7L2275.8 719.6L2277.3 720.2L2278.9 719.8L2280.4 720.3L2281.9 720.8L2283.4 721.6L2285 719.6L2286.5 720.9L2288 721.2L2289.6 721.7L2291.1 723L2292.6 724.1L2294.2 723.6L2295.7 722.2L2297.2 722.1L2298.7 723.4L2300.3 724.7L2301.8 727.3L2303.3 729.3L2304.9 731L2306.4 732.2L2307.9 734.3L2309.5 736.7L2311 739L2312.5 741.5L2314.1 744.7L2315.6 748.8L2317.1 754.4L2318.6 765.5L2320.2 776.6L2320.9 785.1L2321.7 793.6L2322.5 800.6L2323.2 807.6L2324.8 817.6L2326.3 823.6L2327.8 827.2L2329.4 829.6L2330.9 831.9L2332.4 832.6L2333.9 834L2335.5 835.5L2337 839L2338.5 841.5L2340.1 843.8L2341.6 846.6L2343.1 849.8L2343.9 857.3L2344.7 864.8M2495 675.3L2495.8 668.7L2496.6 662.2L2497.3 656L2498.1 649.8L2499.6 638.4L2501.2 629.4L2502.7 620.3L2504.2 618.8L2505.8 619.8L2507.3 623.9L2508.8 629.1L2510.3 633.6L2511.9 638.1L2513.4 639.8L2514.9 644.2L2516.5 645.9L2518 647.9L2519.5 649L2521.1 650.3L2522.6 647.8L2524.1 644.2L2525.7 641.7L2527.2 640.6L2528.7 640.6L2530.3 639.5L2531.8 635.7L2533.3 635.7L2534.9 635L2536.4 633.4L2537.9 634L2539.5 633.5L2541 631.4L2542.5 631.7L2544 632.4L2545.6 630.8L2547.1 629.9L2548.6 629.4L2550.2 629.3L2551.7 626.9L2553.2 627.3L2554.8 626.5L2556.3 625.8L2557.8 624.1L2559.4 622.2L2560.9 619.1L2562.4 610.5L2564 601.9L2565.5 591.4L2567 580.9L2568.6 571L2570.1 561.1L2571.6 552.8L2573.2 544.5L2574.7 542.6L2576.2 540.5L2577.7 545.3L2579.3 550.5L2580.8 558.1L2582.3 565.7L2583.9 574.2L2585.4 580.1L2586.6 583.7L2588.5 582.9L2590 578.2L2591.5 572.8L2593.1 575.4L2594.6 571.8L2596.1 572.8L2597.7 570.6L2599.2 570.3L2600.6 565L2602.3 569.1L2603.8 570.5L2605.3 573L2606.8 573.7L2608.4 577.2L2609.9 577.7L2611.4 573.2L2613 576L2614.5 579.8L2616 578.6L2617.6 577L2619.1 574.4L2620.6 571.6L2622.2 572.5L2623.7 568.5L2625.2 568.3L2626.8 570L2628.3 569.9L2629.8 571.2L2631.4 568.9L2632.9 570.2L2634.4 568.8L2636 570.5L2637.5 565.4L2639 568.6L2640.5 572.1L2642.1 570.9L2643.6 572.2L2645.1 573.3L2646.7 567.8L2648.2 568.6L2649.7 568.3L2651.3 562.4L2652.8 560.9L2654.3 552L2655.9 543.1L2657.4 540.4L2658.9 535.7L2659.6 534L2660.5 538.9L2662 547.8L2663.5 552.8L2665.1 558.8L2666.6 563.1L2668.1 566.1L2669.7 568.4L2671.2 567.1L2672.7 570.2L2674.2 573.5L2675.8 568.4L2677.3 575.2L2678.8 570.6L2680.4 573.2L2681.9 572.3L2683.4 571L2685 576.1L2686.5 573.6L2688 575.4L2689.6 578.3L2691.1 575.4L2692.6 574.4L2694.2 572.8L2695.7 571.7L2697.2 577.1L2698.8 574.1L2700.3 572.6L2701.8 575.4L2703.3 573.4L2704.9 570.9L2706.4 575.6L2707.9 571.4L2709.5 570.5L2711 574.6L2712.5 570.3L2714.1 572.7L2715.6 575.1L2717.1 573.7L2718.7 570.7L2720.2 569.1L2721.7 569.1L2723.3 567.3L2724.8 571.4L2726.3 568.7L2727.9 569.6L2729.4 568L2730.9 566.4L2732.5 573.3L2734 571.2L2735.5 572.8L2737 572.5L2738.6 568.5L2740.1 574.2L2741.6 574.7L2743.2 570.3L2744.7 574.6L2746.2 575.2L2747.8 569.4L2749.3 574.4L2750.8 565.1L2752.4 569.9L2753.9 571.3L2755.4 565.2L2757 567.2L2758.5 564.2L2760 567.9L2761.6 564.4L2763.1 567.9L2764.6 565.7L2766.2 565.7L2767.7 569.2L2769.2 566.1L2770.7 565.5L2772.3 566.4L2773.8 567.1L2775.3 569.2L2776.9 569.6L2778.4 569.6L2779.9 570.4L2781.5 567.8L2783 567.4L2784.5 561.4L2786.1 559.2L2787.6 557.5L2789.1 549.4L2790.7 541.2L2792.2 531.2L2793.7 521.3L2795.3 511.2L2796.8 501.1L2798.3 497.5L2800 492.8L2801.4 498L2802.9 502.3L2804.4 507.8L2806 514.2L2807.5 520.4L2809 526.4L2810.6 530.2L2812.4 534.7L2813.6 531.6L2815.2 525.8L2816.7 521.4L2818.2 518.3L2819.8 515.8L2821.3 512L2822.8 510.7L2824.4 510.5L2825.9 506.8L2827.4 504.2L2829 504.2L2830.5 504.4L2832 506.8L2833.5 507.6L2835.1 511.3L2836.6 510.5L2838.1 510.2L2839.7 509.2L2841.2 506.4L2842.7 508L2844.3 508.3L2845.8 510.8L2847.3 510.1L2848.9 510.1L2850.4 509.6L2851.9 507L2853.5 506.5L2855 510L2856.5 514.8L2858.1 522.3L2859.6 529.8L2860.4 537.4L2861.1 545L2862.7 556.4L2864.2 564.3L2865.7 570.1L2867.7 576.6L2868.8 573.1L2870.3 569.5L2871.8 564.8L2873.4 559.3L2874.4 551.1L2875.4 543L2876.4 534.8L2877.2 524.8L2878 514.8L2879.5 506.6L2881 504.9L2882.6 505.2L2884.1 505L2885.6 505.6L2887.2 505.4L2888.7 504.4L2890.2 506.2L2891.8 509.3L2893.3 510.3L2894.8 509.5L2896.3 510.8L2897.9 510.7L2899.4 506.4L2900.9 506L2902.5 506.2L2904 505.2L2905.5 505.7L2907.1 504.4L2908.6 503.9L2910.1 506.3L2911.7 506.2L2913.2 506.5L2914.7 506.1L2916.3 504.7L2917.8 505.2L2919.3 505.1L2920.9 505.1L2922.4 505.7L2923.9 504.9L2925.5 505.1L2927 504.8L2928.5 506.5L2929.3 513.6L2930 520.8L2930.8 530.1L2931.6 539.4L2932.3 548.7L2933.1 558L2933.9 566.6L2934.6 575.1L2936.2 584L2937.7 592.8L2939.2 601.4L2940.8 609.9L2942.3 613.9L2943.8 617.8L2945.4 623L2946.9 623.7L2948.4 625.2L2950 626.1L2951.5 628.3L2953 630L2954.6 629.7L2956.1 633.3L2957.6 636.5L2959.2 638.6L2960.9 641.9L2962.2 638.5L2963.7 634.5L2965.3 629.3L2966.8 627.6L2968.3 626.5L2969.9 625L2971.4 624.4L2972.9 624.3L2974.5 624.3L2976 625.1L2977.5 626.7L2979.1 627.7L2980.6 626.3L2982.1 628.5L2983.7 627.8L2985.2 626.2L2986.7 625.4L2988.3 623.6L2989.8 623.3L2991.3 621.5L2992.8 622.1L2994.4 620.6L2995.9 619.3L2997.4 618.8L2999 618.9L3000.5 621.9L3002 613.8L3003.6 605.6L3004.3 599.5L3005.1 593.5L3005.9 587.5L3006.6 581.5L3008.2 573.7L3009.7 566L3011.2 563.3L3013 559.4L3014.3 562.9L3015.8 567.5L3017.4 570L3018.9 574L3020.4 572.4L3022 571.9L3023.5 571.2L3025 570.8L3026.5 569.4L3028.1 568.8L3029.6 569L3031.1 567.4L3032.7 568.7L3034.2 571L3035.7 571.4L3037.3 570.9L3038.8 572.8L3040.3 573.3L3041.9 573.8L3043.4 574.8L3044.9 575.6L3046.5 575L3048 576.8L3049.5 576.1L3051.1 577L3052.6 578.2L3054.1 578.1L3055.7 577.5L3057.2 578.7L3058.7 578.3L3060.2 579.1L3061.8 579.1L3063.3 576L3064.8 575.6L3066.4 574.9L3067.9 576.1L3069.4 574.3L3071 574L3072.5 573.3L3074 571.5L3075.6 570.2L3077.1 568L3079.2 567.1L3080.2 566L3081.7 567.8L3083.2 568.2L3084.8 570.3L3086.3 571.5L3087.8 570.5L3089.3 570.6L3090.9 570.3L3092.4 568.8L3093.9 568.1L3095.5 572.1L3097 570.3L3098.5 570.9L3100.1 571L3101.6 572.6L3103.1 572.4L3104.7 572.4L3106.2 572.5L3107.7 573.1L3109.3 571.4L3110.8 572.3L3112.3 572.2L3113.9 571.9L3115.4 572.3L3116.9 571.2L3118.5 567L3120 566.6L3121.5 564.7L3123 565.1L3124.6 565.7L3126.1 567.1L3127.6 567.6L3129.2 567.6L3130.7 567.9L3132.2 568.3L3133.8 566.7L3135.3 563.9L3136.8 563.7L3138.4 562L3139.9 557.1L3141.4 553.6L3143 549.5L3144.5 537.8L3145.3 531.6L3146 525.4L3146.8 519.2L3147.6 512.9L3149.1 505.1L3150.6 497.3L3152.2 497.4L3153.7 499.9L3155.2 501.1L3156.7 506.4L3158.3 510.3L3159.8 514.1L3161.3 514.5L3162.9 515.5L3164.4 517.5L3165.9 521.9L3167.5 522.8L3169 523.4L3170.5 524.3L3172.1 523.3L3173.6 523.3L3175.1 522.6L3176.7 522.1L3178.2 522.1L3179.7 523.2L3181.3 524L3182.8 524.2L3184.3 524.6L3185.8 522.9L3187.4 521.8L3188.9 522.2L3190.4 521.1L3192 518.4L3193.5 518.7L3195 517L3196.6 515.4L3198.1 514.7L3199.6 512.8L3201.2 511.1L3202.7 512.7L3204.2 513.3L3205.8 512.4L3207.3 512.6L3208.3 521.4L3209.3 530.3L3210.4 539.1L3211.1 549.9L3211.9 560.6L3212.7 570.8L3213.4 581.1L3214.2 589.3L3215 597.6L3216.2 606.4L3217.4 615.3L3218 610.6L3219.5 603.3L3221.1 596L3222.6 587L3224.1 578L3225.7 574.3L3227.2 572.8L3228.7 571.5L3230.3 571.3L3231.8 573.8L3233.3 573.8L3234.9 574.4L3236.4 575.1L3237.9 575.2L3239.5 576.2L3241 576L3242.5 577L3244.1 577.1L3245.6 578L3247.1 577.6L3248.7 575.6L3250.2 574.7L3251.7 574.2L3253.2 573.5L3254.8 572.7L3256.3 575.7L3257.8 577.8L3259.4 580.1L3260.9 581.8L3262.4 587.3L3264 595.6L3265.5 603.8L3267 614.8L3267.8 620.8L3268.6 626.8L3269.3 636.4L3270.1 646.1L3270.5 654L3270.8 661.9L3271.6 658.2L3273.2 653.5L3274.7 648.1L3276.2 637.2L3277.8 626.3L3279.3 620.8L3280.8 615.7L3282.4 611.2L3283.9 608.3L3285.4 605.8L3286.9 604.5L3288.8 599.8L3290 603.2L3291.5 606.6L3293.1 610.2L3294.6 613.3L3296.1 615.5L3297.7 618.6L3299.7 621.5L3300.7 621.9L3302.3 616.9L3303.8 615.1L3305.3 613.3L3307.5 612.2L3308.4 611.6L3309.9 613.8L3311.5 616.8L3313 620.8L3314.5 622.5L3316 622.2L3317.6 623.4L3319.1 623.5L3320.6 624.6L3322.2 625.9L3323.7 624.7L3325.2 624.8L3326.8 624.9L3328.3 624.6L3329.8 624L3331.4 622.2L3332.9 625.5L3334.4 626.3L3336 621.1L3337.5 625.1L3339 624.9L3340.6 624.9L3342.1 624.6L3343.6 620.4L3345.2 621.2L3346.7 624L3348.2 621.9L3349.7 623.6L3351.3 620.7L3352.8 624.4L3354.3 624.9L3355.9 620.8L3357.4 624.3L3358.9 626.1L3360.5 620.7L3362 621.8L3363.5 623.6L3365.1 622.4L3366.6 620.3L3368.1 619.2L3369.7 623.6L3371.2 618.5L3372.7 624.1L3374.3 618.6L3375.8 620.2L3377.3 621L3378.9 621.4L3380.4 622.6L3381.9 620L3383.4 623L3385 620.2L3386.5 620.2L3388 623.8L3389.6 620L3391.1 621.2L3392.6 618.9L3394.2 622.2L3395.7 620.7L3397.2 622.9L3398.8 622L3400.3 620.7L3401.8 622.1L3403.4 625.2L3404.9 627.5L3406.8 627.7L3408 628L3409.5 627.1L3411 624.7L3412.5 623.3L3414.1 624.1L3415.6 622.2L3417.1 619.5L3418.7 622.4L3420.2 618.2L3421.7 621.7L3423.3 619.8L3424.8 620L3426.3 621.5L3427.9 622.5L3429.4 621.1L3430.9 621L3432.5 622L3434 624.8L3435.5 622.8L3437.1 622.8L3438.6 622L3440.1 623.6L3441.7 621.7L3443.2 629.7L3444.7 632.2L3445.7 637L3447.8 627.2L3449.3 623.4L3450.8 624.3L3452.4 623.1L3453.9 619.6L3455.4 621L3457 624.6L3458.5 625.1L3460 626.5L3461.6 626.2L3463.1 626.6L3464.6 626.4L3466.2 624.1L3467.7 622.9L3469.2 624.8L3470.8 621.9L3472.3 625L3473.8 625.1L3475.4 625.3L3476.9 627.2L3478.4 629.1L3479.9 625.5L3481.5 624.1L3483 629.6L3484.5 625.8L3486.1 627.5L3487.6 628.6L3489.1 627L3490.7 625.2L3492.2 627.4L3493.7 622.5L3495.3 624.7L3496.8 621.9L3498.3 623.7L3499.9 622.2L3501.4 624.9L3502.9 622.5L3504.5 620.6L3506 620.1L3507.5 619.5L3509 621.2L3510.6 623L3512.1 622.9L3513.6 621.6L3515.2 619.5L3516.7 622.3L3518.2 619.7L3519.8 618.6L3521.3 618.1L3522.8 621.2L3524.4 615L3525.9 618.7L3527.4 615L3529 615.3L3530.5 618.8L3532 615.2L3533.6 617.2L3535.1 620.9L3536.6 620.2L3538.2 618.4L3539.7 618.2L3541.2 622.8L3542.7 622.2L3544.3 625.1L3545.8 621.3L3547.3 622.4L3548.9 625.3L3550.4 623.6L3551.9 627.9L3553.5 624.6L3555 624L3555.9 626.1L3556.5 626.6L3558.1 623.6L3559.6 624.6L3561.1 627L3562.7 624.7L3564.2 623.9L3565.7 624.6L3567.3 624.8L3568.8 619.8L3570.3 624.1L3571.9 623.1L3573.4 619.6L3574.9 617.7L3576.4 619.8L3578 618.2L3579.5 612.2L3581 614.3L3582.6 613.3L3584.1 613.3L3585.6 609.6L3587.2 612.1L3588.7 611.1L3590.2 613.6L3591.8 618L3593.3 629.8L3594.8 641.6L3595.6 648.9L3596.4 656.1L3597.9 660.7L3599.4 659.2L3601 662.7L3602.5 663.1L3604 662.9L3605.5 662.9L3607.1 663L3607.3 651.6L3607.6 640.1L3607.8 628.6L3608.1 617.1L3608.4 605.6L3608.6 594.2L3610.1 593.3L3611.7 590.3L3613.2 589.4L3614.7 590.3L3616.3 589.2L3617.8 589.3L3619.3 588.8L3620.9 589.6L3622.4 588.5L3623.9 589.1L3625.5 595.3L3627 605.2L3628.6 615.1L3630.1 608L3631.6 603.4L3633.1 595.4L3634.7 592.7L3636.2 592.8L3637.7 593.8L3639.2 592.1L3640.8 593.9L3642.3 593.3L3642.8 601.6L3643.3 609.9L3643.8 618.3L3644.2 628.8L3644.6 639.4L3645 650L3645.4 660.6L3646.9 662.3L3648.4 659.2L3650 658.7L3651.5 658.6L3653 659.6L3654.6 658.2L3655.3 647.2L3656.1 636.3L3656.9 629.7L3657.6 623.1L3659.2 611.4L3660.7 600.4L3662.2 589.5L3663.8 582.5L3665.3 577.5L3666.8 575.8L3668.4 576L3669.9 578.1L3671.4 579.2L3672.9 577.8L3674.5 578.6L3676 577L3677.5 577.8L3679.1 576.5L3680.6 577.5L3682.1 577.9L3683.7 577.2L3685.2 577.6L3686.7 577.6L3688.3 577.9L3689.8 575L3691.3 574.6L3692.9 574.8L3694.4 574.6L3695.9 574.3L3697.5 574.2L3699 575.8L3700.5 574.6L3702 575.5L3703.6 575.5L3705.1 575.8L3706.6 575.5L3708.2 576.1L3709.7 575L3711.2 577.5L3712.8 576.8L3714.3 575.7L3715.8 575.7L3717.4 575.2L3718.9 575.5L3720.4 574.2L3722 573.4L3723.5 573.7L3725 574.2L3726.6 573.4L3728.1 574L3729.6 572.6L3731.2 574.4L3732.7 573.1L3734.2 574.7L3735.7 574.8L3737.3 575.9L3738.8 575.4L3740.3 575.7L3741.9 579L3743.4 580.2L3744.9 579.7L3746.5 579L3748 579.2L3749.5 579.1L3751.1 578.5L3752.6 577.3L3754.1 577.1L3755.7 577.3L3757.2 576.8L3758.7 576.7L3760.3 577.6L3761.8 578.6L3763.3 579.8L3764.9 583.2L3766.4 585.2L3767 582.8L3767.9 584.6L3769.4 582.6L3771 581.3L3772.5 580.2L3774 579.2L3775.6 577.1L3777.1 575.4L3778.6 575.9L3780.2 575L3781.7 574.7L3783.2 572.6L3784.8 572.3L3786.3 572.2L3787.7 569.9L3789.4 572L3790.9 574.7L3792.4 576.3L3794 577.5L3795.5 580.1L3797 581.6L3798 582.8L3800.1 581.1L3801.6 578L3803.1 576.1L3804.7 574.5L3806.2 572.2L3807.7 570.4L3809.3 570.2L3810.8 568.5L3812.3 567.8L3813.9 566.6L3815.4 565.2L3816.9 563.6L3818.5 563.4L3820 561.7L3821.5 562.8L3823.1 561.2L3824.6 562.3L3826.1 563L3827.7 562.1L3829.2 561.7L3830.7 561L3832.2 559.2L3833.8 557.7L3835.3 557.3L3836.8 556L3838.4 557.4L3839.9 558.4L3841.4 561.4L3843 562.6L3844.5 562.2L3846 563.1L3847.6 564.4L3849.1 564.7L3850.6 566.7L3852.2 567.4L3853.7 566.8L3855.2 568.1L3856.8 567.6L3858.3 567.6L3859.8 568.2L3861.4 567.9L3862.9 567.1L3864.4 568.2L3865.9 569.3L3867.5 569.8L3869 569.3L3870.5 569.1L3872.1 569.3L3873.6 569.4L3875.1 570L3876.7 568.6L3878.2 568.5L3879.7 568.4L3881.3 568.8L3882.8 569.1L3884.3 569.5L3885.9 569.1L3887.4 570.2L3888.9 571.8L3890.5 571.3L3892 572.4L3893.5 572.6L3895 573.7L3896.6 573.5L3898.1 574.7L3899.6 577.4L3901.2 578.8L3902.7 578.8L3904.2 578.2L3905.8 577.6L3907.3 578.2L3908.8 577.1L3910.4 578.5L3911.9 578.5L3913.4 575.9L3915 575.9L3916.5 575.2L3918 574.3L3919.6 573.4L3921.1 572.2L3922.6 571L3924.2 570.2L3925.7 569.2L3927.2 568L3928.7 566.8L3930.3 565.2L3931 566.8L3931.8 565.7L3933.3 566.7L3934.9 566.5L3936.4 568.2L3937.9 568.8L3939.5 569.5L3941 569.3L3942.5 570.5L3944.1 569L3945.6 569.7L3947.1 570.2L3948.7 571.2L3950.2 574.5L3951.7 575.7L3953.3 576.5L3954.8 575.5L3956.3 574.4L3957.9 575L3959.4 574.9L3960.9 574.9L3962.4 573.6L3964 573.5L3965.5 573.5L3967 572.5L3968.6 572.8L3970.1 571.9L3971.6 572L3973.2 571.4L3974.7 570.9L3976.2 570L3977.8 572.8L3979.3 572.4L3980.8 571.8L3982.4 571.2L3983.9 568.1L3985.4 566.6L3987 566L3988.5 566.6L3990 566L3991.6 565.7L3993.1 566.3L3994.6 567.1L3996.1 567L3997.7 566L3999.2 566.7L4000.7 568.1L4002.3 568.2L4003.8 567.7L4005.3 568.6L4006.9 573L4008.4 571.6L4009.9 573.6L4011.5 572.4L4013 572.3L4014.5 572.9L4016.1 573L4017.6 569.9L4019.1 570.2L4020.7 571.2L4022.2 570.5L4023.7 570.2L4025.2 570.8L4026.8 571L4028.3 571.8L4029.8 571.4L4031.4 571.1L4032.9 573.9L4034.4 573.1L4036 572.8L4037.5 572.6L4039 572L4040.6 571.4L4042.1 569.3L4043.6 568.6L4045.2 565.9L4046.7 564.9L4047.5 562.6L4048.2 563.6L4049.8 566.5L4051.3 567.4L4052.8 569.8L4054.4 571.8L4055.9 572.4L4057.4 574.1L4058.9 573.7L4060.5 573.3L4062 574L4063.5 574.6L4065.1 573.2L4066.6 573.7L4068.1 574.9L4069.7 575.7L4071.2 575.5L4072.7 574.5L4074.3 574.4L4075.8 574.1L4077.3 573.9L4078.9 573.6L4080.4 574.1L4081.9 574.4L4083.5 572.9L4085 571L4086.5 572.1L4088.1 571.9L4089.6 570.8L4091.1 573.2L4092.6 571.5L4094.2 571.2L4095.7 571.4L4097.2 571.5L4098.8 572.3L4100.3 570.6L4101.8 571.6L4103.4 571.2L4104.9 571.5L4106.4 571.2L4108 571.2L4109.5 570.4L4111 568.8L4112.6 568.5L4114.1 568.2L4115.6 568.8L4117.2 567.8L4118.7 567.9L4120.2 569.5L4121.7 570.3L4123.3 570.4L4124.8 570.7L4126.3 570.4L4127.9 568.7L4129.4 569.9L4130.9 569.6L4132.5 570.9L4134 570.5L4135.5 572.8L4137.1 573.1L4138.6 573.2L4140.1 570.8L4141.7 570.9L4143.2 568.2L4144.7 567.7L4146.3 565.2L4148.4 562.6L4149.3 563.9L4150.9 564.2L4152.4 566.2L4153.9 566.6L4155.4 568.6L4157 568.3L4158.5 570.6L4160 570.1L4161.6 569L4163.1 570.2L4164.6 569.1L4166.2 568.5L4167.7 568.8L4169.2 568.6L4170.8 567.4L4172.3 567.5L4173.8 566.1L4175.4 566.9L4176.9 566.2L4178.4 565.8L4180 564.2L4181.5 564.3L4183 563.7L4184.6 562.2L4186.1 561.5L4187.6 562.1L4189.1 562.2L4189.8 560L4190.7 562.1L4192.2 563L4193.7 564.8L4195.3 564.6L4196.8 567.1L4198.3 566.8L4199.9 569.2L4201.4 567.8L4202.9 569.1L4204.5 568.7L4206 570.1L4207.5 569.6L4209.1 570.4L4210.6 567.6L4212.1 569.1L4213.7 567.9L4215.2 568.6L4216.7 567.5L4218.2 567.2L4219.8 567.3L4221.3 568L4222.8 567L4224.4 567.5L4225.9 567.1L4227.4 570.9L4229 571.3L4230.5 570.6L4232 571.5L4233.6 571.1L4235.1 571.2L4236.6 571.2L4238.2 570.8L4239.7 570L4241.2 568.7L4242.8 569.2L4244.3 568.4L4245.8 567.4L4247.4 568.6L4248.9 564.9L4250.4 566.3L4251.9 566L4253.5 567L4255 566.3L4256.5 567.6L4258.1 567.5L4259.6 567L4261.1 568.3L4262.7 568.7L4264.2 570.5L4265.7 569.7L4267.3 569.8L4268.8 570.5L4270.3 571.3L4271.9 571.4L4273.4 572.8L4274.9 573.2L4276.5 576.1" fill="none" stroke="#e5e533" stroke-width="4" stroke-linejoin="round" stroke-linecap="round"/>
<path d="M910.6 689.3h0M912.1 680h0M913.6 671.3h0M915.2 664.2h0M916.7 657.2h0M918.2 649.9h0M919.8 646.2h0M921.3 642.4h0M922.8 638.2h0M924.4 639.7h0M925.9 639.3h0M927.4 643.7h0M929 644.4h0M930.5 648.4h0M932 649.9h0M933.5 653.5h0M935.1 657.5h0M936.6 660.3h0M938.1 664.6h0M939.7 667.3h0M941.2 670.9h0M942.7 672.1h0M944.3 673.3h0M945.8 674.5h0M947.3 675.3h0M948.4 666.7h0M949.4 658.1h0M950.4 649.5h0M951.2 643.2h0M951.9 636.9h0M953.5 626h0M955 620.3h0M956.5 620.5h0M958.1 618.5h0M959.6 618.4h0M961.1 621.4h0M962.7 625.6h0M964.2 629h0M964.9 631.8h0M965.7 630.1h0M967.3 626.5h0M968.8 623.4h0M970.3 621.2h0M971.9 620.3h0M973.4 622.1h0M974.9 627.9h0M976.5 634.3h0M978 639.3h0M979.5 642.7h0M981.1 649.1h0M982.6 653h0M983.5 653.5h0M985.7 650.9h0M987.2 648.4h0M988.7 643.9h0M990.3 642.4h0M991.8 641.5h0M993.3 639.8h0M994.9 638.4h0M996.4 638.7h0M997.9 638.8h0M999.5 639h0M1001 640.7h0M1002.5 650h0M1004 659.4h0M1005.6 666.3h0M1007.1 673.2h0M1008.6 674.5h0M1010.2 676.8h0M1011.7 676.8h0M1013.2 678.2h0M1014.6 681.5h0M1015.5 672.4h0M1016.3 663.2h0M1017.1 656.2h0M1017.8 649.2h0M1018.6 641.4h0M1019.4 633.6h0M1020.1 626.5h0M1020.9 619.3h0M1022.4 618.5h0M1024 617.3h0M1025.5 627.4h0M1027 637.6h0M1028.6 640.1h0M1030.1 642.8h0M1031.6 643.3h0M1033.2 645.8h0M1034.7 643.1h0M1036.2 642.8h0M1037.8 641.7h0M1039.3 641.5h0M1040.8 640.6h0M1042.4 640.8h0M1043.9 639.6h0M1045.4 639.2h0M1047 639.1h0M1048.5 638.5h0M1050 639.5h0M1051.6 638.3h0M1053.1 639.6h0M1054.6 638.9h0M1056.2 638.4h0M1057.7 638.5h0M1059.2 638h0M1060.8 636.2h0M1062.3 636.2h0M1063.8 634.6h0M1065.4 635.2h0M1066.9 633h0M1068.4 633.4h0M1070 634.1h0M1071.5 633.1h0M1073 632.1h0M1074.6 632.9h0M1076.1 632.3h0M1077.6 632.9h0M1079.1 634.1h0M1080.7 634.2h0M1082.2 633.1h0M1083.7 634.6h0M1085.3 635.8h0M1086.8 635.9h0M1088.3 637.9h0M1089.9 638.8h0M1091.4 638.2h0M1092.9 637.1h0M1094.5 637.2h0M1096 635.8h0M1097.5 634.5h0M1099.1 635.3h0M1100.6 634.8h0M1102.1 636.5h0M1103.7 636.2h0M1105.2 637h0M1106.7 636.8h0M1108.3 637.5h0M1109.8 636.4h0M1111.3 637.2h0M1112.9 638.4h0M1114.4 638.2h0M1115.9 636.9h0M1117.5 637.4h0M1119 636.5h0M1120.5 636.4h0M1122.1 636.2h0M1123.6 636.9h0M1125.1 636.6h0M1126.7 637.2h0M1128.2 637.6h0M1129.7 634.5h0M1131.3 634.1h0M1132.8 632.9h0M1133.5 630.2h0M1134.3 634.2h0M1135.9 639.9h0M1137.4 644.7h0M1138.9 655.5h0M1140.5 666.3h0M1142 677.1h0M1143.5 687.9h0M1144.3 697h0M1145.1 706.2h0M1145.8 712.5h0M1146.6 718.8h0M1195.7 740.5h0M1197.2 734.9h0M1198.7 729.9h0M1200.3 720.7h0M1201.8 711.5h0M1203.4 699.7h0M1204.9 688h0M1206.4 679h0M1208 672.7h0M1209.5 670.2h0M1211.1 669.9h0M1212.6 666.9h0M1214.1 666.3h0M1215.7 667.7h0M1217.2 666.9h0M1218.8 665.1h0M1220.3 664.2h0M1221.8 661.6h0M1223.4 658.1h0M1224.9 653.3h0M1226.5 648h0M1228 643.3h0M1229.5 640.8h0M1231.1 639.2h0M1232.6 638h0M1234.2 637.9h0M1235.7 637.1h0M1237.2 638.8h0M1238.8 639.4h0M1240.3 641.2h0M1241.9 644.9h0M1243.4 648.9h0M1244.9 651.7h0M1246.5 652.6h0M1248 652.5h0M1249.6 653.9h0M1251.1 654.1h0M1252.6 650.9h0M1254.2 649h0M1255.7 646.9h0M1257.3 645.1h0M1258.8 642.9h0M1260.3 643.6h0M1261.9 641.9h0M1263.4 640.7h0M1265 639.5h0M1266.1 638h0M1268 641.7h0M1269.6 644h0M1271.1 644.8h0M1272.7 646.8h0M1274.2 649h0M1275.7 650.9h0M1277.3 653.9h0M1278.8 655.2h0M1280.4 654.9h0M1281.9 655.8h0M1283.4 655.1h0M1285 655.2h0M1286.5 644.4h0M1288.1 633.6h0M1289.6 631.7h0M1291.1 630.2h0M1292.7 634.6h0M1294.2 639.3h0M1295.8 644h0M1297.3 654.1h0M1298.8 664.2h0M1300.4 669h0M1301.9 672.5h0M1303.4 675.3h0M1305 666h0M1306.5 656.6h0M1308.1 658.3h0M1309.6 662.9h0M1345.3 678.4h0M1346.9 667.9h0M1348.4 658.6h0M1350 651.1h0M1351.5 643.6h0M1353 642.4h0M1354.6 640.7h0M1356.1 638.7h0M1357.7 637.7h0M1359.2 637.6h0M1360.7 636.2h0M1362.3 636.7h0M1363.8 635.5h0M1365.4 634.3h0M1366.9 634.3h0M1368.5 635.2h0M1370 633.8h0M1371.5 634.6h0M1373.1 634.1h0M1374.6 632.7h0M1376.2 633.7h0M1377.7 633.7h0M1379.2 633.9h0M1380.8 632.8h0M1382.3 634.8h0M1383.9 635.2h0M1385.4 634.7h0M1386.9 634.5h0M1388.5 633.7h0M1390 634.6h0M1391.6 634.9h0M1393.1 633.8h0M1394.6 636h0M1396.2 636.5h0M1397.7 636.7h0M1399.3 635.3h0M1400.8 638.4h0M1402.3 638.7h0M1403.9 637.1h0M1405.4 638.2h0M1407 634.4h0M1408.5 635h0M1410.1 633.9h0M1411.6 632.9h0M1413.1 632.2h0M1414.7 634.1h0M1416.2 633.9h0M1417.8 634.4h0M1419.3 634h0M1420.8 633.3h0M1422.4 629.5h0M1423.9 629.7h0M1425.5 629.4h0M1427 628.2h0M1428.5 627.8h0M1430.1 629.2h0M1431.6 632.8h0M1433.2 633.5h0M1434.7 634.7h0M1436.2 634.9h0M1437.8 637.2h0M1439.3 636.8h0M1440.9 639.2h0M1442.4 639.4h0M1443.9 638.6h0M1445.5 640.8h0M1447 637.8h0M1448.6 637.8h0M1450.1 638.4h0M1451.6 635.9h0M1453.2 633.3h0M1454.7 631.7h0M1456.3 630.1h0M1457.8 630.1h0M1459.4 629.1h0M1460.9 626.7h0M1462.4 627.8h0M1464 632.6h0M1465.5 638.4h0M1467.1 644.3h0M1468.6 650.5h0M1470.1 656.4h0M1470.7 665.8h0M1471.2 675.2h0M1471.7 684.6h0M1505.6 613.2h0M1506.4 624.2h0M1507.1 635.2h0M1507.9 645.9h0M1508.7 656.6h0M1509.4 662.9h0M1510.2 669.3h0M1511 675.4h0M1511.8 681.5h0M1513.3 672.2h0M1514.8 662.9h0M1516.3 657.7h0M1517.9 653.8h0M1519.4 648.7h0M1521 644.6h0M1522.5 644.4h0M1524 644h0M1525.6 644.3h0M1527.1 645.8h0M1528.6 646.4h0M1530.2 647h0M1531.7 645.1h0M1533.2 643.1h0M1534.8 640.2h0M1536.3 638.6h0M1537.9 636.6h0M1539.4 633.8h0M1540.9 632.2h0M1542.5 632.3h0M1544 632.5h0M1545.5 631.1h0M1547.1 630.6h0M1548.6 630.8h0M1550.1 632.3h0M1551.7 632.7h0M1553.2 634.2h0M1554.8 636.5h0M1556.3 636.5h0M1557.8 638.2h0M1559.4 639.5h0M1560.9 640.5h0M1562.4 641h0M1564 640.5h0M1565.5 640.9h0M1567 641.3h0M1568.6 640.6h0M1570.1 640.1h0M1571.7 640.3h0M1573.2 639.9h0M1574.7 637.8h0M1576.3 636.7h0M1577.8 637.6h0M1579.3 638.5h0M1580.9 638.4h0M1582.4 637.9h0M1583.9 638.8h0M1585.5 641.7h0M1587 641.4h0M1588.6 640.1h0M1590.1 640.3h0M1591.6 639.1h0M1593.2 637.3h0M1594.7 634.1h0M1596.2 632.8h0M1597.8 633.1h0M1599.3 633.7h0M1600.8 632.8h0M1602.4 632.8h0M1603.9 633h0M1605.5 632.5h0M1607 635.3h0M1608.5 640.2h0M1610.1 642.5h0M1611.6 645.2h0M1613.1 647.9h0M1614.3 647.3h0M1616.2 647.6h0M1617.8 645.6h0M1619.3 644.3h0M1620.8 642.5h0M1622.4 641.8h0M1623.9 636.4h0M1625.4 636.9h0M1627 637.1h0M1628.5 637.6h0M1630 638.8h0M1631.6 640.8h0M1633.1 642.3h0M1634.7 643.6h0M1636.2 645.5h0M1637.7 646.6h0M1639.3 647.9h0M1640.7 648.9h0M1642.3 643.9h0M1643.9 639.2h0M1645.4 635.9h0M1646.9 631.9h0M1648.5 629.2h0M1650 628.2h0M1651.6 628.7h0M1747.8 638h0M1749.4 636.2h0M1750.9 635.6h0M1752.4 634.8h0M1753.9 633.9h0M1755.5 631.4h0M1757 631h0M1758.5 627.1h0M1760.1 624.1h0M1761.6 621.7h0M1763.1 618.5h0M1763.9 608.5h0M1764.7 598.5h0M1765.4 587.9h0M1766.2 577.3h0M1767.9 569.6h0M1769.6 561.9h0M1770.8 564.8h0M1772.3 568.1h0M1773.8 572.3h0M1774.6 581.6h0M1775.4 590.9h0M1775.9 599.1h0M1776.4 607.2h0M1776.9 615.4h0M1778.4 626.7h0M1780 631h0M1782 639.6h0M1783 636.8h0M1784.6 634.4h0M1786.1 633.2h0M1787.6 630.3h0M1789.1 628.3h0M1790.7 626.1h0M1792.2 624.7h0M1793.7 624.4h0M1795.3 624.6h0M1796.8 625.6h0M1798.3 626.8h0M1799.9 627.3h0M1801.4 626.9h0M1802.9 628.3h0M1804.4 628.4h0M1806 627.4h0M1807.5 628.9h0M1809 633.4h0M1810.6 632.3h0M1812.1 633.3h0M1813.6 634.2h0M1815.2 634.1h0M1816.7 634.3h0M1818.2 633.7h0M1819.8 634.2h0M1821.3 635.6h0M1822.8 632.8h0M1824.3 633.2h0M1825.9 633.5h0M1827.4 632.7h0M1828.9 632.8h0M1830.5 632.8h0M1832 633.3h0M1833.5 633.1h0M1835.1 632.7h0M1836.6 633.2h0M1838.1 633.5h0M1839.6 634.4h0M1841.2 634.3h0M1842.7 632.1h0M1844.2 632.7h0M1845.8 633.3h0M1847.3 634.3h0M1848.8 638.3h0M1850.4 638.4h0M1851.9 634.3h0M1853.4 632.5h0M1855 629.2h0M1856.5 626.3h0M1858 623.2h0M1859.5 611.9h0M1860.3 605.7h0M1861.1 599.6h0M1861.8 593.3h0M1862.6 587h0M1863.4 580.9h0M1864.1 574.7h0M1864.9 568.5h0M1865.7 562.2h0M1867.2 550.9h0M1868.7 543.1h0M1870.3 535.4h0M1872 526.2h0M1873.4 533.6h0M1874.8 541h0M1876.4 547.1h0M1877.9 558.1h0M1878.7 564.3h0M1879.4 570.4h0M1881.2 579.3h0M1882.9 588.3h0M1884 588.2h0M1885.6 587.9h0M1887.1 586h0M1888.6 585.5h0M1890.1 583.7h0M1891.7 583.2h0M1893.2 581.9h0M1894.7 581h0M1896.3 578.6h0M1897.8 579.8h0M1899.3 580.7h0M1900.9 580.7h0M1902.4 581.1h0M1903.9 582.2h0M1905.5 583.2h0M1907 584.4h0M1908.5 583.7h0M1910 584.9h0M1911.6 586.1h0M1913.1 586.1h0M1914.6 585.3h0M1916.2 583.8h0M1917.7 582h0M1919.2 579.1h0M1920.8 578.6h0M1922.3 575.3h0M1923.8 569.4h0M1925.3 565.8h0M1926.9 561.3h0M1928.4 557.8h0M1929.9 556h0M1931.5 553.1h0M1933 552.9h0M1934.5 556.7h0M1936.1 562.2h0M1937.6 568.5h0M1938.4 575.1h0M1939.1 581.7h0M1939.9 588.9h0M1940.6 596h0M1941.2 604.3h0M1941.7 612.7h0M1942.2 621h0M1942.9 632.5h0M1943.7 643.9h0M1945 653.5h0M1946.8 647.7h0M1948.3 641h0M1949.8 636.6h0M1951.4 630.7h0M1952.9 628.6h0M1954.4 624.9h0M1956 622.3h0M1957.5 621.2h0M1959 622.9h0M1960.5 622.1h0M1962.1 622.8h0M1963.6 623.1h0M1965.1 623.1h0M1966.7 623.7h0M1968.2 624.5h0M1969.7 624.5h0M1971.3 625.5h0M1972.8 626.2h0M1974.3 628.3h0M1975.8 625.8h0M1977.4 624.7h0M1978.9 622.5h0M1980.4 619.3h0M1982 618.4h0M1983.5 616.6h0M1985 617.3h0M1986.6 617.9h0M1988.1 618.7h0M1989.6 618.9h0M1991.2 619h0M1992.7 620.4h0M1994.2 619.9h0M1995.7 621h0M1997.3 621.1h0M1998.8 622.4h0M2000.3 624h0M2001.9 623.6h0M2003.4 623.4h0M2004.9 623.1h0M2006.5 622h0M2008 620.5h0M2009.5 619.7h0M2011 621.1h0M2012.6 625h0M2014.1 628.1h0M2015.6 631.2h0M2017.2 640.8h0M2018.7 650.5h0M2019.5 658.7h0M2020.2 667h0M2021 676.8h0M2021.8 686.6h0M2022.5 692.6h0M2023.3 698.6h0M2024.2 706.3h0M2026.3 700.3h0M2027.9 696h0M2029.4 691.8h0M2030.9 688h0M2032.5 685.2h0M2034 681.8h0M2035.5 678.1h0M2036.6 675.3h0M2038.6 675.5h0M2040.1 677h0M2041.7 678.5h0M2043.2 678.5h0M2044.4 681.5h0M2046.2 674.5h0M2047.8 669.4h0M2049.3 664.1h0M2050.1 657.9h0M2050.8 651.8h0M2052.4 640h0M2053.1 633.9h0M2053.9 627.8h0M2055.4 616.1h0M2057 611.9h0M2058.4 607h0M2060 610.6h0M2061.5 615.3h0M2063.1 619.4h0M2064.6 626.7h0M2066.1 633.9h0M2067.7 640.3h0M2069.2 642h0M2070.7 642.2h0M2072.3 642.3h0M2073.8 638.1h0M2075.3 632.8h0M2076.8 626.5h0M2078.4 621.9h0M2079.9 619.2h0M2081.4 615.6h0M2083.2 610.1h0M2084.5 613.4h0M2086 616.5h0M2087.9 619.4h0M2089.1 617.2h0M2090.6 611.6h0M2092.2 607.7h0M2093.7 603.2h0M2095.2 600.2h0M2096.7 598.8h0M2098.3 608.8h0M2099.8 618.8h0M2100.6 626.3h0M2101.3 633.8h0M2102.1 642.1h0M2102.9 650.4h0M2103.4 660.4h0M2103.9 670.4h0M2104.4 680.3h0M2104.9 688.6h0M2105.4 696.9h0M2105.9 705.2h0M2106.7 714.4h0M2107.5 723.7h0M2108.2 730.3h0M2109 736.8h0M2110.5 746.9h0M2111.2 752.9h0M2112 749h0M2113.6 743.4h0M2115.1 739.2h0M2116.6 733h0M2118.2 728.5h0M2119.7 723.6h0M2121.2 718.1h0M2122.8 714.8h0M2124.3 715.9h0M2125.8 717.4h0M2127.4 716.5h0M2128.9 718.3h0M2130.4 720h0M2131.9 724h0M2133.5 727.1h0M2135 731.6h0M2136.5 735.4h0M2137.6 737.4h0M2139.6 735.2h0M2141.1 732.6h0M2142.7 730.5h0M2144.2 727.5h0M2145.7 725.9h0M2147.2 725.3h0M2148.8 725.4h0M2150.3 722.9h0M2151.8 721.4h0M2153.4 722.2h0M2154.9 724.2h0M2156.4 725.4h0M2158 725h0M2159.5 727.4h0M2161 728.6h0M2162.5 730.1h0M2164.1 730.9h0M2165.6 731.9h0M2167.1 732.8h0M2168.7 732.1h0M2170.2 733.6h0M2171.7 733h0M2173.3 734.2h0M2174.8 733h0M2176.3 733.1h0M2177.9 732.8h0M2179.4 732.7h0M2180.9 732.7h0M2182.4 733.9h0M2184 735h0M2185.5 735.7h0M2187 734.1h0M2188.6 733.9h0M2190.1 734.3h0M2191.6 733.9h0M2193.2 732.3h0M2194.7 730.8h0M2196.2 731h0M2197.7 729.2h0M2199.3 727.6h0M2200.8 725.4h0M2202.3 725.2h0M2203.9 726.1h0M2205.4 725.4h0M2206.9 726.8h0M2208.5 727.7h0M2210 728.1h0M2211.5 728.9h0M2213.1 728.5h0M2214.6 727.1h0M2216.1 724.8h0M2217.6 724.6h0M2219.2 723.9h0M2220.7 723.1h0M2221.7 721.9h0M2223.8 722.8h0M2225.3 723.2h0M2226.8 726.1h0M2228.4 726.3h0M2229.9 727.8h0M2231.4 728.2h0M2232.9 730.3h0M2234.5 729.7h0M2236 731.6h0M2237.3 731.2h0M2239.1 731.6h0M2240.6 730.4h0M2242.1 728.7h0M2243.7 728.7h0M2245.2 728.5h0M2246.7 727.3h0M2248.2 727.4h0M2249.8 726.5h0M2251.3 724.9h0M2252.8 723.7h0M2254.4 725h0M2255.9 724.8h0M2257.4 725.6h0M2259 725.1h0M2260.5 725.8h0M2262 724.9h0M2263.6 726h0M2265.1 726.4h0M2266.6 725.3h0M2268.1 724.2h0M2269.7 723h0M2271.2 721.5h0M2272.7 720.8h0M2274.3 719.7h0M2275.8 719.6h0M2277.3 720.2h0M2278.9 719.8h0M2280.4 720.3h0M2281.9 720.8h0M2283.4 721.6h0M2285 719.6h0M2286.5 720.9h0M2288 721.2h0M2289.6 721.7h0M2291.1 723h0M2292.6 724.1h0M2294.2 723.6h0M2295.7 722.2h0M2297.2 722.1h0M2298.7 723.4h0M2300.3 724.7h0M2301.8 727.3h0M2303.3 729.3h0M2304.9 731h0M2306.4 732.2h0M2307.9 734.3h0M2309.5 736.7h0M2311 739h0M2312.5 741.5h0M2314.1 744.7h0M2315.6 748.8h0M2317.1 754.4h0M2318.6 765.5h0M2320.2 776.6h0M2320.9 785.1h0M2321.7 793.6h0M2322.5 800.6h0M2323.2 807.6h0M2324.8 817.6h0M2326.3 823.6h0M2327.8 827.2h0M2329.4 829.6h0M2330.9 831.9h0M2332.4 832.6h0M2333.9 834h0M2335.5 835.5h0M2337 839h0M2338.5 841.5h0M2340.1 843.8h0M2341.6 846.6h0M2343.1 849.8h0M2343.9 857.3h0M2344.7 864.8h0M2495 675.3h0M2495.8 668.7h0M2496.6 662.2h0M2497.3 656h0M2498.1 649.8h0M2499.6 638.4h0M2501.2 629.4h0M2502.7 620.3h0M2504.2 618.8h0M2505.8 619.8h0M2507.3 623.9h0M2508.8 629.1h0M2510.3 633.6h0M2511.9 638.1h0M2513.4 639.8h0M2514.9 644.2h0M2516.5 645.9h0M2518 647.9h0M2519.5 649h0M2521.1 650.3h0M2522.6 647.8h0M2524.1 644.2h0M2525.7 641.7h0M2527.2 640.6h0M2528.7 640.6h0M2530.3 639.5h0M2531.8 635.7h0M2533.3 635.7h0M2534.9 635h0M2536.4 633.4h0M2537.9 634h0M2539.5 633.5h0M2541 631.4h0M2542.5 631.7h0M2544 632.4h0M2545.6 630.8h0M2547.1 629.9h0M2548.6 629.4h0M2550.2 629.3h0M2551.7 626.9h0M2553.2 627.3h0M2554.8 626.5h0M2556.3 625.8h0M2557.8 624.1h0M2559.4 622.2h0M2560.9 619.1h0M2562.4 610.5h0M2564 601.9h0M2565.5 591.4h0M2567 580.9h0M2568.6 571h0M2570.1 561.1h0M2571.6 552.8h0M2573.2 544.5h0M2574.7 542.6h0M2576.2 540.5h0M2577.7 545.3h0M2579.3 550.5h0M2580.8 558.1h0M2582.3 565.7h0M2583.9 574.2h0M2585.4 580.1h0M2586.6 583.7h0M2588.5 582.9h0M2590 578.2h0M2591.5 572.8h0M2593.1 575.4h0M2594.6 571.8h0M2596.1 572.8h0M2597.7 570.6h0M2599.2 570.3h0M2600.6 565h0M2602.3 569.1h0M2603.8 570.5h0M2605.3 573h0M2606.8 573.7h0M2608.4 577.2h0M2609.9 577.7h0M2611.4 573.2h0M2613 576h0M2614.5 579.8h0M2616 578.6h0M2617.6 577h0M2619.1 574.4h0M2620.6 571.6h0M2622.2 572.5h0M2623.7 568.5h0M2625.2 568.3h0M2626.8 570h0M2628.3 569.9h0M2629.8 571.2h0M2631.4 568.9h0M2632.9 570.2h0M2634.4 568.8h0M2636 570.5h0M2637.5 565.4h0M2639 568.6h0M2640.5 572.1h0M2642.1 570.9h0M2643.6 572.2h0M2645.1 573.3h0M2646.7 567.8h0M2648.2 568.6h0M2649.7 568.3h0M2651.3 562.4h0M2652.8 560.9h0M2654.3 552h0M2655.9 543.1h0M2657.4 540.4h0M2658.9 535.7h0M2659.6 534h0M2660.5 538.9h0M2662 547.8h0M2663.5 552.8h0M2665.1 558.8h0M2666.6 563.1h0M2668.1 566.1h0M2669.7 568.4h0M2671.2 567.1h0M2672.7 570.2h0M2674.2 573.5h0M2675.8 568.4h0M2677.3 575.2h0M2678.8 570.6h0M2680.4 573.2h0M2681.9 572.3h0M2683.4 571h0M2685 576.1h0M2686.5 573.6h0M2688 575.4h0M2689.6 578.3h0M2691.1 575.4h0M2692.6 574.4h0M2694.2 572.8h0M2695.7 571.7h0M2697.2 577.1h0M2698.8 574.1h0M2700.3 572.6h0M2701.8 575.4h0M2703.3 573.4h0M2704.9 570.9h0M2706.4 575.6h0M2707.9 571.4h0M2709.5 570.5h0M2711 574.6h0M2712.5 570.3h0M2714.1 572.7h0M2715.6 575.1h0M2717.1 573.7h0M2718.7 570.7h0M2720.2 569.1h0M2721.7 569.1h0M2723.3 567.3h0M2724.8 571.4h0M2726.3 568.7h0M2727.9 569.6h0M2729.4 568h0M2730.9 566.4h0M2732.5 573.3h0M2734 571.2h0M2735.5 572.8h0M2737 572.5h0M2738.6 568.5h0M2740.1 574.2h0M2741.6 574.7h0M2743.2 570.3h0M2744.7 574.6h0M2746.2 575.2h0M2747.8 569.4h0M2749.3 574.4h0M2750.8 565.1h0M2752.4 569.9h0M2753.9 571.3h0M2755.4 565.2h0M2757 567.2h0M2758.5 564.2h0M2760 567.9h0M2761.6 564.4h0M2763.1 567.9h0M2764.6 565.7h0M2766.2 565.7h0M2767.7 569.2h0M2769.2 566.1h0M2770.7 565.5h0M2772.3 566.4h0M2773.8 567.1h0M2775.3 569.2h0M2776.9 569.6h0M2778.4 569.6h0M2779.9 570.4h0M2781.5 567.8h0M2783 567.4h0M2784.5 561.4h0M2786.1 559.2h0M2787.6 557.5h0M2789.1 549.4h0M2790.7 541.2h0M2792.2 531.2h0M2793.7 521.3h0M2795.3 511.2h0M2796.8 501.1h0M2798.3 497.5h0M2800 492.8h0M2801.4 498h0M2802.9 502.3h0M2804.4 507.8h0M2806 514.2h0M2807.5 520.4h0M2809 526.4h0M2810.6 530.2h0M2812.4 534.7h0M2813.6 531.6h0M2815.2 525.8h0M2816.7 521.4h0M2818.2 518.3h0M2819.8 515.8h0M2821.3 512h0M2822.8 510.7h0M2824.4 510.5h0M2825.9 506.8h0M2827.4 504.2h0M2829 504.2h0M2830.5 504.4h0M2832 506.8h0M2833.5 507.6h0M2835.1 511.3h0M2836.6 510.5h0M2838.1 510.2h0M2839.7 509.2h0M2841.2 506.4h0M2842.7 508h0M2844.3 508.3h0M2845.8 510.8h0M2847.3 510.1h0M2848.9 510.1h0M2850.4 509.6h0M2851.9 507h0M2853.5 506.5h0M2855 510h0M2856.5 514.8h0M2858.1 522.3h0M2859.6 529.8h0M2860.4 537.4h0M2861.1 545h0M2862.7 556.4h0M2864.2 564.3h0M2865.7 570.1h0M2867.7 576.6h0M2868.8 573.1h0M2870.3 569.5h0M2871.8 564.8h0M2873.4 559.3h0M2874.4 551.1h0M2875.4 543h0M2876.4 534.8h0M2877.2 524.8h0M2878 514.8h0M2879.5 506.6h0M2881 504.9h0M2882.6 505.2h0M2884.1 505h0M2885.6 505.6h0M2887.2 505.4h0M2888.7 504.4h0M2890.2 506.2h0M2891.8 509.3h0M2893.3 510.3h0M2894.8 509.5h0M2896.3 510.8h0M2897.9 510.7h0M2899.4 506.4h0M2900.9 506h0M2902.5 506.2h0M2904 505.2h0M2905.5 505.7h0M2907.1 504.4h0M2908.6 503.9h0M2910.1 506.3h0M2911.7 506.2h0M2913.2 506.5h0M2914.7 506.1h0M2916.3 504.7h0M2917.8 505.2h0M2919.3 505.1h0M2920.9 505.1h0M2922.4 505.7h0M2923.9 504.9h0M2925.5 505.1h0M2927 504.8h0M2928.5 506.5h0M2929.3 513.6h0M2930 520.8h0M2930.8 530.1h0M2931.6 539.4h0M2932.3 548.7h0M2933.1 558h0M2933.9 566.6h0M2934.6 575.1h0M2936.2 584h0M2937.7 592.8h0M2939.2 601.4h0M2940.8 609.9h0M2942.3 613.9h0M2943.8 617.8h0M2945.4 623h0M2946.9 623.7h0M2948.4 625.2h0M2950 626.1h0M2951.5 628.3h0M2953 630h0M2954.6 629.7h0M2956.1 633.3h0M2957.6 636.5h0M2959.2 638.6h0M2960.9 641.9h0M2962.2 638.5h0M2963.7 634.5h0M2965.3 629.3h0M2966.8 627.6h0M2968.3 626.5h0M2969.9 625h0M2971.4 624.4h0M2972.9 624.3h0M2974.5 624.3h0M2976 625.1h0M2977.5 626.7h0M2979.1 627.7h0M2980.6 626.3h0M2982.1 628.5h0M2983.7 627.8h0M2985.2 626.2h0M2986.7 625.4h0M2988.3 623.6h0M2989.8 623.3h0M2991.3 621.5h0M2992.8 622.1h0M2994.4 620.6h0M2995.9 619.3h0M2997.4 618.8h0M2999 618.9h0M3000.5 621.9h0M3002 613.8h0M3003.6 605.6h0M3004.3 599.5h0M3005.1 593.5h0M3005.9 587.5h0M3006.6 581.5h0M3008.2 573.7h0M3009.7 566h0M3011.2 563.3h0M3013 559.4h0M3014.3 562.9h0M3015.8 567.5h0M3017.4 570h0M3018.9 574h0M3020.4 572.4h0M3022 571.9h0M3023.5 571.2h0M3025 570.8h0M3026.5 569.4h0M3028.1 568.8h0M3029.6 569h0M3031.1 567.4h0M3032.7 568.7h0M3034.2 571h0M3035.7 571.4h0M3037.3 570.9h0M3038.8 572.8h0M3040.3 573.3h0M3041.9 573.8h0M3043.4 574.8h0M3044.9 575.6h0M3046.5 575h0M3048 576.8h0M3049.5 576.1h0M3051.1 577h0M3052.6 578.2h0M3054.1 578.1h0M3055.7 577.5h0M3057.2 578.7h0M3058.7 578.3h0M3060.2 579.1h0M3061.8 579.1h0M3063.3 576h0M3064.8 575.6h0M3066.4 574.9h0M3067.9 576.1h0M3069.4 574.3h0M3071 574h0M3072.5 573.3h0M3074 571.5h0M3075.6 570.2h0M3077.1 568h0M3079.2 567.1h0M3080.2 566h0M3081.7 567.8h0M3083.2 568.2h0M3084.8 570.3h0M3086.3 571.5h0M3087.8 570.5h0M3089.3 570.6h0M3090.9 570.3h0M3092.4 568.8h0M3093.9 568.1h0M3095.5 572.1h0M3097 570.3h0M3098.5 570.9h0M3100.1 571h0M3101.6 572.6h0M3103.1 572.4h0M3104.7 572.4h0M3106.2 572.5h0M3107.7 573.1h0M3109.3 571.4h0M3110.8 572.3h0M3112.3 572.2h0M3113.9 571.9h0M3115.4 572.3h0M3116.9 571.2h0M3118.5 567h0M3120 566.6h0M3121.5 564.7h0M3123 565.1h0M3124.6 565.7h0M3126.1 567.1h0M3127.6 567.6h0M3129.2 567.6h0M3130.7 567.9h0M3132.2 568.3h0M3133.8 566.7h0M3135.3 563.9h0M3136.8 563.7h0M3138.4 562h0M3139.9 557.1h0M3141.4 553.6h0M3143 549.5h0M3144.5 537.8h0M3145.3 531.6h0M3146 525.4h0M3146.8 519.2h0M3147.6 512.9h0M3149.1 505.1h0M3150.6 497.3h0M3152.2 497.4h0M3153.7 499.9h0M3155.2 501.1h0M3156.7 506.4h0M3158.3 510.3h0M3159.8 514.1h0M3161.3 514.5h0M3162.9 515.5h0M3164.4 517.5h0M3165.9 521.9h0M3167.5 522.8h0M3169 523.4h0M3170.5 524.3h0M3172.1 523.3h0M3173.6 523.3h0M3175.1 522.6h0M3176.7 522.1h0M3178.2 522.1h0M3179.7 523.2h0M3181.3 524h0M3182.8 524.2h0M3184.3 524.6h0M3185.8 522.9h0M3187.4 521.8h0M3188.9 522.2h0M3190.4 521.1h0M3192 518.4h0M3193.5 518.7h0M3195 517h0M3196.6 515.4h0M3198.1 514.7h0M3199.6 512.8h0M3201.2 511.1h0M3202.7 512.7h0M3204.2 513.3h0M3205.8 512.4h0M3207.3 512.6h0M3208.3 521.4h0M3209.3 530.3h0M3210.4 539.1h0M3211.1 549.9h0M3211.9 560.6h0M3212.7 570.8h0M3213.4 581.1h0M3214.2 589.3h0M3215 597.6h0M3216.2 606.4h0M3217.4 615.3h0M3218 610.6h0M3219.5 603.3h0M3221.1 596h0M3222.6 587h0M3224.1 578h0M3225.7 574.3h0M3227.2 572.8h0M3228.7 571.5h0M3230.3 571.3h0M3231.8 573.8h0M3233.3 573.8h0M3234.9 574.4h0M3236.4 575.1h0M3237.9 575.2h0M3239.5 576.2h0M3241 576h0M3242.5 577h0M3244.1 577.1h0M3245.6 578h0M3247.1 577.6h0M3248.7 575.6h0M3250.2 574.7h0M3251.7 574.2h0M3253.2 573.5h0M3254.8 572.7h0M3256.3 575.7h0M3257.8 577.8h0M3259.4 580.1h0M3260.9 581.8h0M3262.4 587.3h0M3264 595.6h0M3265.5 603.8h0M3267 614.8h0M3267.8 620.8h0M3268.6 626.8h0M3269.3 636.4h0M3270.1 646.1h0M3270.5 654h0M3270.8 661.9h0M3271.6 658.2h0M3273.2 653.5h0M3274.7 648.1h0M3276.2 637.2h0M3277.8 626.3h0M3279.3 620.8h0M3280.8 615.7h0M3282.4 611.2h0M3283.9 608.3h0M3285.4 605.8h0M3286.9 604.5h0M3288.8 599.8h0M3290 603.2h0M3291.5 606.6h0M3293.1 610.2h0M3294.6 613.3h0M3296.1 615.5h0M3297.7 618.6h0M3299.7 621.5h0M3300.7 621.9h0M3302.3 616.9h0M3303.8 615.1h0M3305.3 613.3h0M3307.5 612.2h0M3308.4 611.6h0M3309.9 613.8h0M3311.5 616.8h0M3313 620.8h0M3314.5 622.5h0M3316 622.2h0M3317.6 623.4h0M3319.1 623.5h0M3320.6 624.6h0M3322.2 625.9h0M3323.7 624.7h0M3325.2 624.8h0M3326.8 624.9h0M3328.3 624.6h0M3329.8 624h0M3331.4 622.2h0M3332.9 625.5h0M3334.4 626.3h0M3336 621.1h0M3337.5 625.1h0M3339 624.9h0M3340.6 624.9h0M3342.1 624.6h0M3343.6 620.4h0M3345.2 621.2h0M3346.7 624h0M3348.2 621.9h0M3349.7 623.6h0M3351.3 620.7h0M3352.8 624.4h0M3354.3 624.9h0M3355.9 620.8h0M3357.4 624.3h0M3358.9 626.1h0M3360.5 620.7h0M3362 621.8h0M3363.5 623.6h0M3365.1 622.4h0M3366.6 620.3h0M3368.1 619.2h0M3369.7 623.6h0M3371.2 618.5h0M3372.7 624.1h0M3374.3 618.6h0M3375.8 620.2h0M3377.3 621h0M3378.9 621.4h0M3380.4 622.6h0M3381.9 620h0M3383.4 623h0M3385 620.2h0M3386.5 620.2h0M3388 623.8h0M3389.6 620h0M3391.1 621.2h0M3392.6 618.9h0M3394.2 622.2h0M3395.7 620.7h0M3397.2 622.9h0M3398.8 622h0M3400.3 620.7h0M3401.8 622.1h0M3403.4 625.2h0M3404.9 627.5h0M3406.8 627.7h0M3408 628h0M3409.5 627.1h0M3411 624.7h0M3412.5 623.3h0M3414.1 624.1h0M3415.6 622.2h0M3417.1 619.5h0M3418.7 622.4h0M3420.2 618.2h0M3421.7 621.7h0M3423.3 619.8h0M3424.8 620h0M3426.3 621.5h0M3427.9 622.5h0M3429.4 621.1h0M3430.9 621h0M3432.5 622h0M3434 624.8h0M3435.5 622.8h0M3437.1 622.8h0M3438.6 622h0M3440.1 623.6h0M3441.7 621.7h0M3443.2 629.7h0M3444.7 632.2h0M3445.7 637h0M3447.8 627.2h0M3449.3 623.4h0M3450.8 624.3h0M3452.4 623.1h0M3453.9 619.6h0M3455.4 621h0M3457 624.6h0M3458.5 625.1h0M3460 626.5h0M3461.6 626.2h0M3463.1 626.6h0M3464.6 626.4h0M3466.2 624.1h0M3467.7 622.9h0M3469.2 624.8h0M3470.8 621.9h0M3472.3 625h0M3473.8 625.1h0M3475.4 625.3h0M3476.9 627.2h0M3478.4 629.1h0M3479.9 625.5h0M3481.5 624.1h0M3483 629.6h0M3484.5 625.8h0M3486.1 627.5h0M3487.6 628.6h0M3489.1 627h0M3490.7 625.2h0M3492.2 627.4h0M3493.7 622.5h0M3495.3 624.7h0M3496.8 621.9h0M3498.3 623.7h0M3499.9 622.2h0M3501.4 624.9h0M3502.9 622.5h0M3504.5 620.6h0M3506 620.1h0M3507.5 619.5h0M3509 621.2h0M3510.6 623h0M3512.1 622.9h0M3513.6 621.6h0M3515.2 619.5h0M3516.7 622.3h0M3518.2 619.7h0M3519.8 618.6h0M3521.3 618.1h0M3522.8 621.2h0M3524.4 615h0M3525.9 618.7h0M3527.4 615h0M3529 615.3h0M3530.5 618.8h0M3532 615.2h0M3533.6 617.2h0M3535.1 620.9h0M3536.6 620.2h0M3538.2 618.4h0M3539.7 618.2h0M3541.2 622.8h0M3542.7 622.2h0M3544.3 625.1h0M3545.8 621.3h0M3547.3 622.4h0M3548.9 625.3h0M3550.4 623.6h0M3551.9 627.9h0M3553.5 624.6h0M3555 624h0M3555.9 626.1h0M3556.5 626.6h0M3558.1 623.6h0M3559.6 624.6h0M3561.1 627h0M3562.7 624.7h0M3564.2 623.9h0M3565.7 624.6h0M3567.3 624.8h0M3568.8 619.8h0M3570.3 624.1h0M3571.9 623.1h0M3573.4 619.6h0M3574.9 617.7h0M3576.4 619.8h0M3578 618.2h0M3579.5 612.2h0M3581 614.3h0M3582.6 613.3h0M3584.1 613.3h0M3585.6 609.6h0M3587.2 612.1h0M3588.7 611.1h0M3590.2 613.6h0M3591.8 618h0M3593.3 629.8h0M3594.8 641.6h0M3595.6 648.9h0M3596.4 656.1h0M3597.9 660.7h0M3599.4 659.2h0M3601 662.7h0M3602.5 663.1h0M3604 662.9h0M3605.5 662.9h0M3607.1 663h0M3607.3 651.6h0M3607.6 640.1h0M3607.8 628.6h0M3608.1 617.1h0M3608.4 605.6h0M3608.6 594.2h0M3610.1 593.3h0M3611.7 590.3h0M3613.2 589.4h0M3614.7 590.3h0M3616.3 589.2h0M3617.8 589.3h0M3619.3 588.8h0M3620.9 589.6h0M3622.4 588.5h0M3623.9 589.1h0M3625.5 595.3h0M3627 605.2h0M3628.6 615.1h0M3630.1 608h0M3631.6 603.4h0M3633.1 595.4h0M3634.7 592.7h0M3636.2 592.8h0M3637.7 593.8h0M3639.2 592.1h0M3640.8 593.9h0M3642.3 593.3h0M3642.8 601.6h0M3643.3 609.9h0M3643.8 618.3h0M3644.2 628.8h0M3644.6 639.4h0M3645 650h0M3645.4 660.6h0M3646.9 662.3h0M3648.4 659.2h0M3650 658.7h0M3651.5 658.6h0M3653 659.6h0M3654.6 658.2h0M3655.3 647.2h0M3656.1 636.3h0M3656.9 629.7h0M3657.6 623.1h0M3659.2 611.4h0M3660.7 600.4h0M3662.2 589.5h0M3663.8 582.5h0M3665.3 577.5h0M3666.8 575.8h0M3668.4 576h0M3669.9 578.1h0M3671.4 579.2h0M3672.9 577.8h0M3674.5 578.6h0M3676 577h0M3677.5 577.8h0M3679.1 576.5h0M3680.6 577.5h0M3682.1 577.9h0M3683.7 577.2h0M3685.2 577.6h0M3686.7 577.6h0M3688.3 577.9h0M3689.8 575h0M3691.3 574.6h0M3692.9 574.8h0M3694.4 574.6h0M3695.9 574.3h0M3697.5 574.2h0M3699 575.8h0M3700.5 574.6h0M3702 575.5h0M3703.6 575.5h0M3705.1 575.8h0M3706.6 575.5h0M3708.2 576.1h0M3709.7 575h0M3711.2 577.5h0M3712.8 576.8h0M3714.3 575.7h0M3715.8 575.7h0M3717.4 575.2h0M3718.9 575.5h0M3720.4 574.2h0M3722 573.4h0M3723.5 573.7h0M3725 574.2h0M3726.6 573.4h0M3728.1 574h0M3729.6 572.6h0M3731.2 574.4h0M3732.7 573.1h0M3734.2 574.7h0M3735.7 574.8h0M3737.3 575.9h0M3738.8 575.4h0M3740.3 575.7h0M3741.9 579h0M3743.4 580.2h0M3744.9 579.7h0M3746.5 579h0M3748 579.2h0M3749.5 579.1h0M3751.1 578.5h0M3752.6 577.3h0M3754.1 577.1h0M3755.7 577.3h0M3757.2 576.8h0M3758.7 576.7h0M3760.3 577.6h0M3761.8 578.6h0M3763.3 579.8h0M3764.9 583.2h0M3766.4 585.2h0M3767 582.8h0M3767.9 584.6h0M3769.4 582.6h0M3771 581.3h0M3772.5 580.2h0M3774 579.2h0M3775.6 577.1h0M3777.1 575.4h0M3778.6 575.9h0M3780.2 575h0M3781.7 574.7h0M3783.2 572.6h0M3784.8 572.3h0M3786.3 572.2h0M3787.7 569.9h0M3789.4 572h0M3790.9 574.7h0M3792.4 576.3h0M3794 577.5h0M3795.5 580.1h0M3797 581.6h0M3798 582.8h0M3800.1 581.1h0M3801.6 578h0M3803.1 576.1h0M3804.7 574.5h0M3806.2 572.2h0M3807.7 570.4h0M3809.3 570.2h0M3810.8 568.5h0M3812.3 567.8h0M3813.9 566.6h0M3815.4 565.2h0M3816.9 563.6h0M3818.5 563.4h0M3820 561.7h0M3821.5 562.8h0M3823.1 561.2h0M3824.6 562.3h0M3826.1 563h0M3827.7 562.1h0M3829.2 561.7h0M3830.7 561h0M3832.2 559.2h0M3833.8 557.7h0M3835.3 557.3h0M3836.8 556h0M3838.4 557.4h0M3839.9 558.4h0M3841.4 561.4h0M3843 562.6h0M3844.5 562.2h0M3846 563.1h0M3847.6 564.4h0M3849.1 564.7h0M3850.6 566.7h0M3852.2 567.4h0M3853.7 566.8h0M3855.2 568.1h0M3856.8 567.6h0M3858.3 567.6h0M3859.8 568.2h0M3861.4 567.9h0M3862.9 567.1h0M3864.4 568.2h0M3865.9 569.3h0M3867.5 569.8h0M3869 569.3h0M3870.5 569.1h0M3872.1 569.3h0M3873.6 569.4h0M3875.1 570h0M3876.7 568.6h0M3878.2 568.5h0M3879.7 568.4h0M3881.3 568.8h0M3882.8 569.1h0M3884.3 569.5h0M3885.9 569.1h0M3887.4 570.2h0M3888.9 571.8h0M3890.5 571.3h0M3892 572.4h0M3893.5 572.6h0M3895 573.7h0M3896.6 573.5h0M3898.1 574.7h0M3899.6 577.4h0M3901.2 578.8h0M3902.7 578.8h0M3904.2 578.2h0M3905.8 577.6h0M3907.3 578.2h0M3908.8 577.1h0M3910.4 578.5h0M3911.9 578.5h0M3913.4 575.9h0M3915 575.9h0M3916.5 575.2h0M3918 574.3h0M3919.6 573.4h0M3921.1 572.2h0M3922.6 571h0M3924.2 570.2h0M3925.7 569.2h0M3927.2 568h0M3928.7 566.8h0M3930.3 565.2h0M3931 566.8h0M3931.8 565.7h0M3933.3 566.7h0M3934.9 566.5h0M3936.4 568.2h0M3937.9 568.8h0M3939.5 569.5h0M3941 569.3h0M3942.5 570.5h0M3944.1 569h0M3945.6 569.7h0M3947.1 570.2h0M3948.7 571.2h0M3950.2 574.5h0M3951.7 575.7h0M3953.3 576.5h0M3954.8 575.5h0M3956.3 574.4h0M3957.9 575h0M3959.4 574.9h0M3960.9 574.9h0M3962.4 573.6h0M3964 573.5h0M3965.5 573.5h0M3967 572.5h0M3968.6 572.8h0M3970.1 571.9h0M3971.6 572h0M3973.2 571.4h0M3974.7 570.9h0M3976.2 570h0M3977.8 572.8h0M3979.3 572.4h0M3980.8 571.8h0M3982.4 571.2h0M3983.9 568.1h0M3985.4 566.6h0M3987 566h0M3988.5 566.6h0M3990 566h0M3991.6 565.7h0M3993.1 566.3h0M3994.6 567.1h0M3996.1 567h0M3997.7 566h0M3999.2 566.7h0M4000.7 568.1h0M4002.3 568.2h0M4003.8 567.7h0M4005.3 568.6h0M4006.9 573h0M4008.4 571.6h0M4009.9 573.6h0M4011.5 572.4h0M4013 572.3h0M4014.5 572.9h0M4016.1 573h0M4017.6 569.9h0M4019.1 570.2h0M4020.7 571.2h0M4022.2 570.5h0M4023.7 570.2h0M4025.2 570.8h0M4026.8 571h0M4028.3 571.8h0M4029.8 571.4h0M4031.4 571.1h0M4032.9 573.9h0M4034.4 573.1h0M4036 572.8h0M4037.5 572.6h0M4039 572h0M4040.6 571.4h0M4042.1 569.3h0M4043.6 568.6h0M4045.2 565.9h0M4046.7 564.9h0M4047.5 562.6h0M4048.2 563.6h0M4049.8 566.5h0M4051.3 567.4h0M4052.8 569.8h0M4054.4 571.8h0M4055.9 572.4h0M4057.4 574.1h0M4058.9 573.7h0M4060.5 573.3h0M4062 574h0M4063.5 574.6h0M4065.1 573.2h0M4066.6 573.7h0M4068.1 574.9h0M4069.7 575.7h0M4071.2 575.5h0M4072.7 574.5h0M4074.3 574.4h0M4075.8 574.1h0M4077.3 573.9h0M4078.9 573.6h0M4080.4 574.1h0M4081.9 574.4h0M4083.5 572.9h0M4085 571h0M4086.5 572.1h0M4088.1 571.9h0M4089.6 570.8h0M4091.1 573.2h0M4092.6 571.5h0M4094.2 571.2h0M4095.7 571.4h0M4097.2 571.5h0M4098.8 572.3h0M4100.3 570.6h0M4101.8 571.6h0M4103.4 571.2h0M4104.9 571.5h0M4106.4 571.2h0M4108 571.2h0M4109.5 570.4h0M4111 568.8h0M4112.6 568.5h0M4114.1 568.2h0M4115.6 568.8h0M4117.2 567.8h0M4118.7 567.9h0M4120.2 569.5h0M4121.7 570.3h0M4123.3 570.4h0M4124.8 570.7h0M4126.3 570.4h0M4127.9 568.7h0M4129.4 569.9h0M4130.9 569.6h0M4132.5 570.9h0M4134 570.5h0M4135.5 572.8h0M4137.1 573.1h0M4138.6 573.2h0M4140.1 570.8h0M4141.7 570.9h0M4143.2 568.2h0M4144.7 567.7h0M4146.3 565.2h0M4148.4 562.6h0M4149.3 563.9h0M4150.9 564.2h0M4152.4 566.2h0M4153.9 566.6h0M4155.4 568.6h0M4157 568.3h0M4158.5 570.6h0M4160 570.1h0M4161.6 569h0M4163.1 570.2h0M4164.6 569.1h0M4166.2 568.5h0M4167.7 568.8h0M4169.2 568.6h0M4170.8 567.4h0M4172.3 567.5h0M4173.8 566.1h0M4175.4 566.9h0M4176.9 566.2h0M4178.4 565.8h0M4180 564.2h0M4181.5 564.3h0M4183 563.7h0M4184.6 562.2h0M4186.1 561.5h0M4187.6 562.1h0M4189.1 562.2h0M4189.8 560h0M4190.7 562.1h0M4192.2 563h0M4193.7 564.8h0M4195.3 564.6h0M4196.8 567.1h0M4198.3 566.8h0M4199.9 569.2h0M4201.4 567.8h0M4202.9 569.1h0M4204.5 568.7h0M4206 570.1h0M4207.5 569.6h0M4209.1 570.4h0M4210.6 567.6h0M4212.1 569.1h0M4213.7 567.9h0M4215.2 568.6h0M4216.7 567.5h0M4218.2 567.2h0M4219.8 567.3h0M4221.3 568h0M4222.8 567h0M4224.4 567.5h0M4225.9 567.1h0M4227.4 570.9h0M4229 571.3h0M4230.5 570.6h0M4232 571.5h0M4233.6 571.1h0M4235.1 571.2h0M4236.6 571.2h0M4238.2 570.8h0M4239.7 570h0M4241.2 568.7h0M4242.8 569.2h0M4244.3 568.4h0M4245.8 567.4h0M4247.4 568.6h0M4248.9 564.9h0M4250.4 566.3h0M4251.9 566h0M4253.5 567h0M4255 566.3h0M4256.5 567.6h0M4258.1 567.5h0M4259.6 567h0M4261.1 568.3h0M4262.7 568.7h0M4264.2 570.5h0M4265.7 569.7h0M4267.3 569.8h0M4268.8 570.5h0M4270.3 571.3h0M4271.9 571.4h0M4273.4 572.8h0M4274.9 573.2h0M4276.5 576.1h0" fill="none" stroke="#e5e533" stroke-width="15.2" stroke-linecap="round"/>
<path d="M883.5 731.7L885.1 737.8L886.6 743L888.1 747.7L889.7 753.8L890.7 763.5L891.7 773.3L892.7 783.1L893.5 790.8L894.3 798.6L895.8 802.3L897.3 807.5L898.9 809.6L900.4 811L901.9 810.7L903.5 811.7L905 812.7L906.5 812L908.1 812L909.6 813.4L911.1 810.9L912.7 804L914.2 798.4L915.7 792.9L917.2 789.5L918.8 786.7L920.3 782.8L921.4 779.2L923.4 784L924.9 787.7L926.4 792.3L927.6 796.3L929.5 790.2L931 785.3L932.6 780.7L934.1 780.4L935.6 780.1L937.2 780.7L938.7 779.7L940.2 780.6L941.8 781.3L943.3 783.2L944.8 783.4L946.4 784.5L947.9 785.2L949.4 787.3L951 788.1L952.5 788.7L954 788.8L955.6 789.7L957.1 790.6L958.6 792L960.1 792.9L961.8 796.3L963.2 794.4L964.7 792.9L966.3 791L967.8 788.7L969.3 787.7L970.9 789.6L972.4 789.7L973.9 789.6L975.5 789.1L977 788.9L978.5 789.2L980.1 789.6L981.6 790.2L983.1 789.7L984.7 790L986.2 788.7L987.7 789.3L989.3 792.5L990.8 796.4L992.3 800.8L994.4 807.1L995.4 801.3L996.9 792.8L998.5 784.4L1000 775.7L1001.5 766.9L1002.2 763.7L1003 762.7L1004.6 767.3L1006.1 768.9L1007.6 770.4L1009.2 771.9L1010.7 774.8L1012.2 781.2L1013.8 787.6L1015.3 791.7L1016.8 795L1018.4 797.9L1019.3 797.8L1019.9 797.8L1021.4 793.6L1023 789.8L1024.5 787.6L1026 786.6L1027.6 786.7L1029.1 786.1L1030.6 786.7L1032.2 786.2L1033.7 785.9L1035.2 786.2L1036.8 786.1L1038.3 787.1L1039.8 787.3L1041.4 786.1L1042.9 786.5L1044.4 788L1045.9 788.7L1047.5 787.9L1049 788.6L1050.5 787.5L1052.1 787.8L1053.6 790.8L1055.1 791.4L1056.7 790.5L1058.2 790.3L1059.7 786.5L1061.3 785.7L1062.8 785.1L1064.3 784.2L1065.9 783.5L1067.4 785.5L1068.9 785.1L1070.5 786.4L1072 787.5L1073.5 789.9L1075.1 790.3L1076.6 798.8L1078.1 807.3L1079.8 816.5L1081.2 812.7L1082.7 807.7L1084.3 802.9L1085.8 792.4L1087.3 782L1088.9 780.1L1090.4 779.2L1091.9 778.9L1093.4 778.6L1095 778.4L1096.5 779.5L1098 781.1L1099.6 784.2L1101.1 786L1102.6 789.2L1104.2 792.1L1105.7 793.9L1107.2 796.5L1108.8 797.5L1110.9 800.9L1111.8 796.8L1113.4 791.5L1114.9 786.2L1115.5 785.4L1116.4 787.6L1118 788.5L1119.5 789.6L1121 791.4L1122.6 791.1L1124.1 792.9L1124.8 793.2L1125.6 792.4L1127.2 789L1128.7 787.1L1130.2 783.4L1131.8 779.4L1133.3 775.7L1134.2 773L1134.8 773.7L1136.3 776.1L1137.9 779.6L1139.4 782.2L1140.9 785.4L1142.5 784.8L1144 785.8L1145.5 785.4L1147.1 785.5L1148.6 783L1150.1 780.5L1151.7 777.6L1152.8 776.1L1153.8 782.6L1154.7 789.1L1156.3 797.5L1157.8 800.8L1159.3 803.9L1160.9 807.7L1162.4 810.9L1163.7 813.4L1164.6 806.7L1165.5 800L1166.2 793.4L1167 786.7L1167.5 778.7L1168 770.7L1168.5 762.7L1169.3 751.2L1170.1 755.1L1171.6 762L1173.1 768.9L1174.7 779.9L1176.1 790.1L1177.7 784.7L1179.2 780.5L1180.7 776.1L1181.5 782.7L1182.3 789.4L1183.1 796.3L1183.8 803.2L1184.6 814.5L1185.4 825.8L1186.9 822.4L1188.4 817.6L1190 812.9L1191.5 808.1L1193 804.6L1194.6 798.9L1196.1 794.5L1197.6 790.5L1199.2 789.4L1200.7 788.5L1202.2 787.7L1203.8 786.5L1205.3 785.4L1206.8 784.8L1208.7 783.9L1209.9 784.6L1211.4 784.9L1213 785.6L1214.5 785.7L1216 786.9L1217.6 788.4L1219.1 789.6L1220.6 790.1L1222.1 791.2L1223.7 791.7L1225.2 792.6L1226.7 793.3L1228.3 793.5L1228.9 796.3L1229.8 791.9L1231.3 787.4L1232.9 783.1L1234.4 779.4L1235.9 777.9L1237.5 777.3L1239 775.3L1239.8 776.1L1240.5 776.6L1242.1 778.6L1243.6 780L1245.1 781.7L1246.7 782.9L1248.2 784.4L1249.7 785L1251.3 788.3L1252.8 789.5L1254.3 790.6L1255.9 792L1256.8 791.6L1258.9 791.8L1260.5 787.2L1262 785.8L1263.5 784.9L1265 783.4L1266.6 782L1268.1 781.9L1269.6 780.2L1271.2 778.3L1272.4 779.2L1274.2 787L1275.8 792.8L1277.3 799.2L1278.6 804L1280.4 800.1L1281.9 796.2L1283.4 790.1L1285 786.5L1286.5 782.4L1288 782.4L1289.6 785.9L1291.1 787L1292.6 787.6L1294.2 788L1295.7 797.6L1297.2 807.1L1298.8 816.5L1300.3 814.3L1301.8 812.3L1303.4 810.3L1304.9 808.1L1306.4 805.9L1308 799.2L1309.5 792.5L1311 785.6L1312.5 779.4L1314.1 774L1315.6 768.4L1317.3 759.8L1318.9 751.2L1320.2 755L1321.7 762.8L1323.3 768.1L1324.8 773.5L1326.3 779.8L1327.9 785.6L1329.4 787.6L1330.9 789.3L1332.5 789.7L1334 791L1335.5 792.8L1337.1 799.3L1338.6 805.4L1340.1 815.5L1341.7 825.6L1343.2 828.9L1344.7 829L1346.3 831.8L1347.8 831.3L1349.3 831.2L1350.9 827.8L1352.4 821.1L1353.9 814.3L1354.7 803.1L1355.4 791.8L1357 790L1358.5 787.9L1360 786.1L1361.6 785L1363.1 784.9L1364.6 786.4L1366.2 784.4L1367.7 783.7L1369.2 783.5L1370.8 784.3L1372.3 790L1373.8 795.7L1375.4 800.8L1376.4 805.6L1378.4 796L1380 789.9L1381.5 784.3L1383 785.3L1384.6 785.5L1386.1 783.6L1387.6 783.6L1389.2 783.4L1390.7 782.5L1392.2 782.2L1393.8 781.1L1395.3 781.5L1396.8 781.7L1398.3 780.3L1399.9 780.4L1401.4 782.2L1402.9 780.4L1404.5 780.6L1406 779.9L1407.5 778.7L1409.1 780.1L1410.6 780.4L1412.1 780.2L1413.7 782L1415.2 782.5L1416.7 782.6L1418.3 782.7L1419.8 785.1L1421.3 786.4L1422.9 788.1L1424.4 788.8L1425.9 790.9L1427.5 792.8L1429 792.6L1430.5 791L1432.1 790.3L1433.6 789.5L1435.1 787.6L1436.7 787.1L1438.2 785.8L1439.7 783.4L1441.2 783L1442.8 781.2L1443.5 780.7L1444.3 782.7L1445.8 784.6L1447.4 787.3L1448.9 790.5L1450.4 792.8L1452 794.3L1452.8 794.7L1453.5 793.9L1455 791.6L1456.6 788.2L1458.1 785.5L1459.6 781.4L1461.2 777.8L1462.7 774.6L1463.7 771.4L1465.8 779L1467.3 784.4L1468.8 789.5L1470.4 793.3L1471.4 797.8L1473.4 793.5L1475 792L1476.5 790.2L1478 789.4L1479.6 785.3L1481.1 780.5L1482.6 776.8L1484.1 772.3L1485.4 768.3L1487.1 778.6L1488.7 788.9L1490.1 797.8L1491.8 794.5L1493.3 792.9L1494.9 790.2L1496.4 789.3L1497.9 787.5L1499.5 783.7L1501 780.3L1502 770.7L1503 761.1L1504.1 751.4L1505.6 750.8L1507.1 749L1508.7 748.4L1510.2 745.1L1511.7 745.6L1513.3 746.9L1514.8 747.3L1516.3 747.9L1517.9 747.3L1519.4 747.8L1520.2 739.2L1520.9 730.7L1522.5 721.5L1524 712.3L1525.5 712L1527 713.4L1528.6 714.5L1530.1 716.1L1531.6 719L1533.2 721.2L1534.7 724.9L1536.2 727.8L1537.8 732.5L1539.3 737.8L1541.3 743.5L1542.4 739.1L1543.9 730.8L1545.4 722.6L1547 721L1548.5 721.3L1550 721.6L1551.6 723.3L1553.1 723.9L1554.6 722L1556.2 721.6L1557.7 720.3L1559.2 718.1L1560.8 718L1562.3 716.7L1563.8 714.7L1565.4 714.5L1566.9 714.7L1568.4 713.5L1570 713.4L1571.5 713.8L1573 714L1574.5 716.9L1576.1 718.3L1577.6 719.6L1579.1 719.9L1580.7 721.6L1582.2 721.7L1583.2 721.7L1585.3 720.8L1586.8 719.6L1588.3 715.2L1589.9 713.5L1591.4 712L1592.9 710.5L1594.5 709L1596 709.9L1597.2 707.8L1599.1 712.1L1600.6 715.6L1602.1 718.2L1603.7 721.5L1605.2 724.6L1606.7 725L1608.3 723.9L1609.8 723.5L1611.3 724L1612.9 723.5L1614.4 722.7L1615.9 724.3L1617.4 723.4L1619 724.5L1620.5 724.4L1622 725.7L1623.6 725.6L1625.1 725.6L1626.6 725.5L1628.2 725L1629.7 724L1631.2 723.7L1632.8 720.8L1634.3 720.3L1635.8 720.2L1637.4 719.2L1638.9 719.2L1640.4 719.1L1642 720.2L1643.5 719.3L1645 720.2L1646.6 723.1L1648.1 723.8L1649.6 722.9L1651.2 722.7L1652.7 719.1L1654.2 719.7L1655.8 718.5L1657.3 717.5L1658.8 718.6L1660.3 717.9L1661.9 718.7L1663.4 718L1664.9 718.8L1666.5 719L1668 719.2L1669.5 719.9L1671.1 720L1672.6 721L1674.1 720.2L1675.7 721.5L1677.2 720.8L1678.7 720.3L1680.3 720.9L1681.8 720.7L1683.3 720.8L1684.9 719.2L1686.4 719.8L1687.9 718L1689.5 718.3L1691 717.9L1692.5 717.2L1694.1 716.6L1695.6 715.7L1697.1 716.4L1698.7 715.6L1700.2 716.7L1701.7 716.9L1703.2 716.2L1704.8 716.8L1706.3 717L1707.8 716.6L1709.4 717.3L1710.9 718.6L1712.4 718.2L1714 716.9L1715.5 717.5L1717 717.5L1718.6 716.9L1720.1 716.9L1721.6 716.6L1723.2 716L1724.7 716.2L1726.2 715.3L1727.8 715.8L1729.3 714.9L1730.8 714.6L1732.4 714.5L1733.9 714.3L1735.4 717.8L1737 724.8M1740.4 902.7L1741.1 913.2L1741.9 923.7L1743.4 927.8L1745 931.4L1746.5 935.4L1748.1 939.9L1749.6 939.4L1751.1 938.1L1752.6 936.8L1754.2 934.3L1755.7 933.1L1757.5 932.2L1758.8 932.5L1760.3 934.5L1761.8 936.5L1763.7 938.4L1765.2 927.5L1766.8 916.6L1768 922.6L1769.5 929.9L1771 937.2L1772.8 944.8L1774.5 952.4L1775.6 947.1L1777.2 937.8L1778.7 928.6L1780 920.3L1781.4 912L1783.1 920.1L1784.8 928.1L1786.4 934.8L1787.9 941.5L1789.4 948.5L1790.1 952.4L1791.3 942.8L1792.5 933.3L1793.2 929.1L1794 928.6L1795.6 929.1L1797.1 930.2L1798.6 933.4L1800.1 935.1L1801.7 935.8L1802.5 935.3L1803.2 934.8L1804.7 931.7L1806.3 928.7L1807.8 925.4L1809.3 921.6L1810.9 917.7L1812.4 912.4L1814.3 906.7L1815.5 907.8L1817 909.6L1818.5 911.7L1820.1 914L1821.6 915.3L1823.1 918.1L1824.7 922.1L1826.2 927.2L1827.7 931.5L1829.3 933.4L1830.8 935.8L1832.3 938.8L1833.5 941.5L1835.4 938.4L1836.9 936.2L1838.5 936.7L1840 934.7L1841.5 934.2L1842.9 932.2L1844.6 934L1846.1 936.6L1847.7 937.5L1849.2 939.3L1850.7 941.3L1852.2 943L1853.8 932.2L1855.3 922.4L1856.9 912.7L1858.4 907.6L1859.9 902.2L1861.5 897.2L1863 892.5L1864.5 887.3L1865.5 885.6L1866.6 894L1867.6 902.3L1868.4 911.4L1869.1 920.5L1869.7 931.1L1870.2 941.7L1870.8 952.4L1872.2 950.4L1873.7 949.5L1875.3 948.3L1876.8 947.3L1878.3 945.9L1879.9 943.7L1881.4 942.5L1883.2 941.5L1884.4 942.5L1886 946.3L1887.5 948.4L1889 951.2L1891 952.4L1892.1 953.8L1893.6 952.7L1895.2 950.4L1896.7 949.6L1898.2 948.6L1899.8 948.2L1901.3 943.1L1902.8 943.5L1904.4 944.7L1905.9 945.2L1907.4 945.1L1909 946.2L1910.5 947.1L1912 947L1913.6 935.5L1914 925L1914.3 914.4L1914.7 903.8L1915.1 893.2L1915.8 882.5L1916.6 884.8L1918.2 888.8L1919.7 892.5L1921.2 897.3L1922.8 900.6L1923.6 902.7L1924.3 901.4L1925.8 897.7L1927.4 893.7L1928.9 890.1L1930.4 885.7L1932 882.3L1932.9 879.4L1935 884.7L1936.6 889.1L1938.1 893.5L1939.6 896.5L1941.2 898.8L1942.7 900.6L1944.2 901.7L1945.8 903.6L1947.3 903.2L1948.8 904.3L1950.4 904.9L1951.9 904.5L1953.4 905.9L1955 905.4L1956.5 906.6L1958 904.3L1959.6 900.9L1961.1 898.8L1962.6 895.2L1964.2 893.3L1965.7 894.8L1967.2 892.2L1968.7 892.2L1970.3 893.5L1971.8 894.3L1973.3 894.6L1974.9 893.1L1976.4 889.7L1977.9 889.2L1979.5 886.5L1981.1 884L1982.5 885.4L1984.1 886.6L1985.6 887.9L1987.1 889.8L1988.7 891.9L1990.2 891.7L1991.7 892.7L1993.3 893.4L1994.8 894.4L1996.3 894.6L1997.9 897.1L1999.4 893.8L2000.9 890.2L2002.5 887.4L2004 883.2L2005.5 879.5L2006.8 876.3L2007.6 885.6L2008.3 894.9L2009 904.2L2010.1 902L2011.7 899.6L2013.2 896.4L2014.7 894.4L2016.8 891.8L2017.8 893.4L2019.3 895.1L2020.9 896.7L2022.4 898.2L2023.9 899.9L2025.5 901.9L2026.1 902.7L2027 901.1L2028.5 899L2030.1 897.1L2031.6 894.2L2033.1 892.8L2034.7 889.6L2036.2 888.3L2037.7 885.1L2039.3 883L2040.8 881.9L2042.3 878L2043.2 877.8L2043.9 877.9L2045.4 880.4L2046.9 881.8L2048.5 884.5L2050 887L2051.5 890.7L2053.1 897.2L2054 902.7L2056.1 900.7L2057.6 900L2059.2 897.7L2060.7 896.8L2062.2 895.2L2063.4 893.4L2065.3 895.9L2066.8 897L2068.4 898.1L2069.9 900.4L2071.4 901.6L2073 902.4L2074.5 903.7L2076 907L2077.6 909.8L2079.1 912.6L2080.4 915.1L2082.2 911.5L2083.7 908.2L2085.2 903.8L2086.8 899.7L2088.3 895.8L2089.8 894.3L2091.4 892.8L2092.9 889.7L2094.4 888.7L2095.2 899.5L2096 910.2L2096.5 918.5L2097 926.7L2097.5 934.9L2098.3 944.8L2099 954.6L2100.6 957.3L2102.1 958.3L2103.6 958.6L2105.2 959.6L2106.7 959.7L2108.2 960.7L2109.8 949.4L2110.5 943.3L2111.3 937.2L2111.8 927.8L2112.3 918.3L2112.8 908.9L2113.6 897.5L2114.4 886L2115.1 875.4L2115.9 864.8L2116.7 854L2117.4 843.3L2119 835.5L2120.5 827.7L2121.7 821.9L2123.6 827.6L2125.1 833.3L2126.6 836.5L2128.2 838.2L2129.7 840.1L2131.2 844.3L2132.8 848.6L2134.8 856.1L2135.8 851.9L2137.4 850.4L2138.9 847L2141 840.6L2141.9 843.3L2143.5 844.7L2145 847.7L2146.5 850.7L2148.1 852.8L2149.6 855.5L2150.3 854.5L2151.1 855.6L2152.7 854.6L2154.2 854.1L2155.7 852.9L2157.3 853.2L2158.8 851.9L2160.3 848.8L2161.9 847.8L2163.4 847L2164.9 845.9L2166.5 845.4L2168 844.6L2169.5 845.9L2171.1 844.4L2172.6 843.3L2174.1 842.5L2175.2 840.6L2177.2 847.3L2178.7 850.6L2180.3 854.3L2181.8 857.9L2183.3 861.4L2184.9 860.4L2186.4 860.7L2187.9 861.1L2189.5 861.1L2191 860.7L2192.5 861.2L2194.1 860.4L2195.6 856.5L2197.1 852.5L2198.7 847.6L2200 843.7L2201.7 843.3L2203.3 844.6L2204.8 845.7L2206.3 847.2L2207.9 849.1L2209.3 851.4L2210.9 843.3L2212.5 835.1L2214 828.1L2215.5 829.8L2217.1 830.9L2218.6 831.7L2220.1 833L2221.7 834L2223.2 834.6L2224.7 835.2L2226.2 834.9L2227.8 835.1L2229.3 835.3L2230.8 836.6L2232.4 834L2233.9 831.2L2235.4 829L2237.3 828.1L2238.5 829L2240 831.6L2241.6 834L2243.1 836L2244.6 838.7L2246.2 841.8L2247.7 846.5L2249.2 851.3L2251.2 857.6L2252.3 856.4L2253.8 854.4L2255.4 852.1L2256.9 850.4L2258.4 847.7L2260 845.1L2261.5 841.8L2263 837.7L2264.6 834.8L2266.1 831.8L2267.6 828.4L2268.3 826.6L2269.2 827.7L2270.7 828.2L2272.2 830.4L2273.8 831.9L2275.3 833L2276.8 835.2L2278.4 835.4L2279.9 834.7L2281.4 834.2L2283 834.2L2284.5 831.9L2286 830.7L2287.6 831L2289.1 830.5L2290.6 830.8L2292.2 830.2L2293.7 829.8L2295.2 830.4L2296.8 829.4L2298.3 829.4L2299.8 830.6L2301.4 830.1L2302.9 829.8L2304.4 829.6L2306 829.5L2307.5 829.9L2309 829.9L2310.5 833.2L2312.1 832.5L2313.6 832.4L2315.1 832.5L2316.7 832.3L2318.2 832.6L2319.7 829.7L2321.3 829.6L2322.8 830.6L2324.3 831.9L2325.9 831.8L2327.4 833.2L2328.9 833.6L2330.5 831.6L2332 830L2333.5 828.1M2423.6 776.3L2425.1 778.5L2426.7 782L2428.2 780.8L2429.7 781.5L2431.3 780.3L2432.8 780.1L2434.3 780.6L2435.9 779L2437.4 781.2L2438.9 781.2L2440.5 781.3L2442 779.4L2443.5 779.5L2445.1 779.2L2446.6 779.8L2448.1 779.2L2449.7 780.1L2451.2 780.3L2452.7 779L2454.3 780.2L2455.8 779.4L2457.3 780.4L2458.9 780.2L2460.4 780.1L2461.9 780.6L2463.5 780.4L2465 779.2L2466.5 777.9L2468.1 776.8L2469.6 775.6L2471.1 775L2472.6 774.5L2474.2 774.5L2475.7 775L2477.2 772.6L2478.8 773L2480.3 772.8L2481.8 773.3L2483.4 777.3L2484.9 787.2L2486.4 797L2487.2 805.3L2488 813.5L2488.8 822.9L2489.5 820L2491 818.9L2492.6 816.9L2494.1 814.8L2495.6 812.3L2496.6 812L2498.7 815.5L2500.2 818.2L2501.8 820.6L2503.3 823.8L2504.3 826L2505.4 819.6L2506.4 813.2L2507.9 805.6L2509.4 803.4L2511.5 799.6L2512.5 801.1L2514 805.5L2515.6 810.9L2517.1 820L2518.6 829.1L2519.4 835.9L2520.2 842.8L2521.7 843L2523.2 843.4L2524.8 843.3L2526.3 843.3L2527.8 842.5L2529.4 841.5L2530.9 844L2532.4 845.3L2534 846.9L2535.5 848.6L2537 849.9L2538.6 848.2L2540.1 848L2541.6 847.9L2543.2 847.2L2544.7 847.1L2546.2 846.3L2547.8 846.2L2549.3 836L2550.8 825.7L2551.6 815.6L2552.3 805.6L2553.1 795L2553.9 784.3L2555.4 774.4L2556.9 764.5L2558.5 756.7L2560 748.8L2561.5 747.2L2563.1 747.8L2564.6 747.2L2565.4 756.3L2566.1 765.4L2566.8 775.2L2567.4 785.1L2568 794.9L2569.2 792.7L2570.7 789.9L2572.3 787.9L2573.8 784.9L2575.3 782.6L2576.9 780.4L2578.4 778.3L2579.9 776.5L2581.5 774.9L2583 772.9L2585.1 770.1L2586.1 780.4L2587.2 790.8L2588.2 801.1L2589.1 798.7L2590.7 794.7L2592.2 790.7L2593.7 786.6L2595.3 784.7L2596.8 784.7L2598.3 784.1L2599.9 784.9L2601.4 785.2L2602.9 785.1L2604.5 783.7L2606 783.6L2607.5 784L2609.1 784.4L2610.6 784.8L2612.1 786.3L2613.7 787.4L2615.2 788.5L2616.7 789.5L2618.3 789L2619.8 788.4L2621.3 789L2622.9 788.8L2624.4 787.6L2625.9 787L2627.5 786.2L2629 785.1L2630.5 786.3L2632 785.8L2633.6 785.3L2635.1 783.1L2636.6 773.1L2638.2 763.2L2639.7 755.8L2641.2 748.4L2642.8 748L2644.3 747.1L2645.8 746.9L2647.4 756.6L2648.9 766.2L2649.7 776.2L2650.4 786.1L2652 785.3L2653.5 785.7L2655 784L2656.6 783.7L2658.1 782.7L2659.6 782.6L2661.2 782.9L2662.7 782.2L2664.2 781.5L2665.8 782.2L2667.3 782.5L2668.8 781.9L2670.4 784.5L2671.9 786.3L2673.4 788.3L2675 790.2L2676.7 793.4L2678 792.1L2679.6 789.5L2681.1 787.5L2682.9 782.5L2684.2 783.8L2685.7 786.1L2687.2 788.4L2688.8 790.5L2690.7 793.4L2691.8 789.5L2693.4 785.2L2694.9 780.8L2696.9 776.3L2698 777.3L2699.5 778.6L2701 781.2L2702.6 783.1L2704.1 783.7L2705.6 786.1L2707.2 787L2708.7 788.8L2710.2 790.7L2711.8 791.3L2712.4 793.4L2713.3 790.8L2714.8 789.1L2716.3 787.1L2717.9 784.4L2719.4 773.2L2720.2 763.9L2720.9 754.6L2721.5 744.2L2722 733.9L2722.5 723.5L2724 712.3L2724.8 706.4L2725.5 707.9L2727.1 711L2728.6 713.4L2730.1 715.9L2731.7 717.6L2733.2 717.7L2734.7 717.9L2736.3 717.9L2737.8 718.5L2739.3 719L2740.9 717.9L2742.4 718.9L2743.9 719.6L2745.5 720L2747 719.8L2748.5 719.8L2750.1 719.7L2751.6 720.4L2753.1 719.7L2754.7 720.1L2756.2 721.1L2757.7 720.2L2759.3 720.4L2760.8 719.5L2762.3 719.1L2763.9 719.8L2765.4 718.5L2766.9 718.8L2768.5 719.1L2770 718.5L2771.5 718.1L2773.1 718.1L2774.6 717.7L2776.1 715.9L2777.7 714.9L2779.2 714.1L2780.7 712.7L2782.3 709.4L2783.9 709.5L2785.3 711L2786.9 713.6L2788.4 715.9L2789.9 718.7L2791.5 723.2L2793 726.9L2794.5 731.8L2796 735.7L2797.6 739.2L2799.1 742.6L2800.9 746.8L2802.3 739L2803.7 731.3L2805.2 722.6L2806.8 720.6L2808.3 720.7L2809.8 720.4L2811.4 719.9L2812.9 720.9L2814.4 720.4L2816 721.3L2817.5 721.1L2819 721.4L2820.6 721.3L2822.1 721.9L2823.6 720.8L2825.2 718.9L2826.7 719.1L2828.2 719L2829.8 718.1L2831.3 719.9L2832.8 719.9L2834.4 718.8L2835.9 719.4L2837.4 718.3L2839 718L2840.5 717.9L2842 718L2843.6 717.2L2845.1 716.4L2846.6 715.7L2848.2 716.5L2849.7 715.6L2851.2 715.5L2852.8 715.2L2854.3 716.4L2855.8 713.7L2857.4 714.4L2858.9 715.4L2860.4 715.5L2862 719.1L2863.5 719.5L2865 719.8L2866.6 720.7L2868.1 720.8L2869.6 720.6L2871.2 720.4L2872.7 720.3L2874.2 720.9L2875.7 719.5L2877.3 719.9L2878.8 720.1L2880.3 719.9L2881.9 718.7L2883.4 720.2L2884.9 719.3L2886.5 719.5L2888 719.3L2889.5 719.4L2891.1 717.1L2892.6 716.6L2894.1 715.5L2895.7 715.3L2897.2 714.9L2898.7 714.2L2900.3 714L2901.8 713.6L2903.3 716.2L2904.9 715.4L2906.4 714.7L2907.9 713.9L2909.5 712.8L2911 711.6L2912.5 710.2L2914.1 709.2L2915.6 708.4L2917.4 706.4L2918.7 710L2920.2 713.3L2921.7 717.4L2923.3 721.5L2924.8 723.1L2926.3 724.4L2927.9 725.7L2929.4 728.1L2930.9 732.9L2932.9 734.3L2934 735.1L2935.5 734.5L2937.1 732.3L2938.6 731.7L2940.1 730.6L2941.7 728.9L2943.2 728.9L2944.7 726.7L2945.3 726.6L2946.3 726.6L2947.8 726.9L2949.3 727.4L2950.9 728.3L2952.4 729.6L2953.9 730.6L2955.4 730.8L2957 732.1L2958.5 731.8L2960 732.7L2961.6 732.9L2963.1 732.7L2964.6 732.4L2966.2 732.4L2967.7 732.4L2969.2 733.7L2970.8 733.8L2972.3 733.2L2973.8 733.1L2975.4 734L2976.9 733.7L2978.4 733L2980 732.2L2981.5 733L2983 732.1L2984.6 731.3L2986.1 730.6L2987.6 730.4L2989.2 732L2990.7 730.3L2992.2 730.1L2993.8 728.5L2995.3 728.5L2996.8 728.5L2998.4 729.1L2999.9 729.9L3001.4 726.5L3003 723.2L3004.5 719.4L3006 715.6L3007.6 712.3L3009.1 708.2L3010.6 704.4L3011.8 700.7L3012.7 707.9L3013.7 715.2L3015.2 717.9L3016.8 721.2L3018.3 724L3019.8 726.7L3021.4 730.6L3022.9 735.6L3024.4 739.3L3025.2 745.8L3026 752.2L3026.7 763.1L3027.5 774.1L3029 778.3L3030.6 782.2L3032.1 783.5L3033.6 783.2L3035.1 783.3L3036.7 784.3L3038.2 783.9L3039.7 784.5L3041.3 784.5L3042.8 786.3L3044.3 786.2L3045.9 787.3L3047.4 788.4L3048.9 788.9L3050.5 789.9L3051.2 792.4L3052 790.2L3053.5 789.2L3055.1 788.6L3056.6 787.5L3058.1 787.3L3059.7 789.1L3061.2 787.5L3062.7 783.4L3063.8 772.2L3064.8 760.9L3065.8 749.7L3067.3 741.8L3068.9 737.3L3070.4 736.2L3071.9 735.5L3073.5 735.3L3075 734L3076.5 733.7L3078.1 733.9L3079.6 734.1L3081.1 735.3L3082.7 736.8L3084.2 735.2L3085.7 739.3L3086.2 749.3L3086.8 759.3L3087.3 769.3L3088.8 773L3090.3 777.2L3091.9 781.4L3093.4 782.6L3094.9 783.1L3096.5 783.9L3098 785.2L3099.5 785.5L3101.1 786.5L3102.6 784.8L3104.1 783.5L3105.7 782.2L3107.2 781.6L3108.7 777.9L3110.3 776.4L3111.8 776.6L3113.3 777.7L3114.9 778.2L3116.4 777.6L3117.9 778.8L3119.4 778.7L3121 769.3L3122.5 760L3123.3 748.5L3124 737.1L3125.6 730.2L3127.1 728.1L3128.6 725.6L3130.2 724.3L3131.7 722.7L3133.2 720.3L3134.8 714.8L3136.6 707L3137.8 706.7L3139.4 707.8L3140.9 709.3L3142.4 710.4L3144.4 713.2L3145.5 710.6L3147 709.6L3148.6 708L3150.6 707L3151.6 710.5L3153.2 717.5L3154.7 724.5L3156.8 731.8L3157.8 726.7L3158.5 716.8L3159.3 706.9L3160.1 697L3160.8 687.2L3162.4 680.5L3163.9 678.1L3165.4 678.6L3167 678.7L3168.5 679.4L3170 680.2L3171.6 680.2L3173.1 679.5L3174.6 677.2L3176.2 675.2L3177.7 672.7L3179.2 670.9L3180.8 668.4L3181.7 668.1L3182.3 667.8L3183.8 671L3185.4 674L3186.9 678.8L3188.4 681.6L3190 685.2L3191.5 688.6L3193 692.5L3194.1 693L3196.1 688.3L3197.6 683.3L3199.1 679.9L3200.7 677.2L3202.2 674.3L3203.7 669.3L3205 668.1L3206.8 668.8L3208.3 669.6L3209.9 670.7L3211.4 671.7L3212.9 673.4L3214.5 675.1L3216 676.3L3217.5 679.3L3219.1 682.9L3220.6 684.4L3222.1 684.7L3223.7 685L3225.2 684.8L3226.7 681.9L3228.3 682.6L3229.8 682.4L3231.3 680.9L3232.9 678.1L3234.4 678.9L3235.9 676.3L3237.5 674.5L3239.1 671.2L3240.5 674.3L3242.1 676L3243.6 677.4L3245.1 678.2L3246.7 679.8L3248.2 681.8L3249.7 682.9L3251.3 682.6L3252.8 683L3254.3 681.3L3255.9 681.8L3257.4 682.1L3258.9 684.1L3260.5 686.6L3262 689.6L3263.5 691.1L3265.1 693.4L3267.1 697.6L3268.1 694.2L3269.7 691.1L3271.2 687.9L3272.7 684.7L3274.3 675.2L3275.8 665.7L3277.3 654.8L3278.8 643.9L3280.4 637.7L3281.9 633.1L3283.4 628.6L3284.2 627.8L3285 631.7L3286 639.6L3287 647.6L3288 655.6L3288.8 664L3289.6 672.5L3290.3 678.6L3291.1 684.8L3292.6 696.4L3294.2 707.2L3295 713.2L3295.7 710L3297.2 703L3298.8 696L3300.3 690.2L3301.8 687.7L3303.4 684.5L3304.9 681.5L3306.4 678.3L3308 678.1L3309.5 676.9L3311 674.7L3312.6 674.4L3314.1 670.6L3315.6 660L3317.2 649.4L3317.9 642.1L3318.7 634.7L3320.2 631.3L3321.8 627.2L3323.3 623.2L3324.8 623.9L3326.4 623.6L3327.9 622.3L3329.4 623.2L3331 620.7L3332.5 620.2L3334 621.3L3335.6 621.5L3337.1 622.1L3338.6 621.2L3340.2 621.5L3341.7 621.8L3343.2 623.6L3344 632.2L3344.8 640.7L3345.5 650L3346.3 659.2L3347.1 666.8L3347.8 674.4L3349.4 675.4L3350.9 675.7L3352.4 677.8L3354 678.6L3355.5 678.7L3357 679.7L3358.5 679.2L3360.1 680L3361.6 680.4L3363.1 678L3364.7 677.5L3366.2 678.7L3367.7 679.3L3369.3 678.9L3370.8 682.8L3372.3 682L3373.9 682.4L3375.4 681.8L3376.9 682.4L3378.5 681.8L3380 682.5L3381.5 680.2L3383.1 681.1L3384.6 681.1L3386.1 682.3L3387.7 682.6L3389.2 683.3L3390.7 684L3392.3 685L3393.8 685.6L3395.3 686.5L3396.9 689.9L3398.4 690.6L3399.9 691.5L3401.5 691.4L3403 692.4L3403.7 691.4L3404.5 692L3406.1 691.1L3407.6 689.4L3409.1 687.8L3410.7 685.8L3412.2 682.4L3413.7 680.8L3414.6 680.6L3415.3 680.6L3416.8 682L3418.3 684.6L3419.9 686.3L3421.4 688.6L3422.9 692.8L3424.5 700.3L3426 707.9L3427.5 718.4L3429.1 728.8L3429.8 734.8L3430.6 740.9L3432.1 751.9L3433.7 762.9L3434.8 772.2L3435.7 765.1L3436.7 758L3437.7 749.8L3438.8 741.5L3439.8 733.2L3440.5 725.2L3441.3 717.3L3441.8 709.1L3442.3 700.9L3442.8 692.7L3443.6 680.8L3444.4 668.9L3445 660L3445.7 651.1L3446.5 657.3L3447.4 663.6L3449 674.6L3449.7 680.8L3450.5 687L3451.3 693.9L3452 700.7L3452.6 708.8L3453.1 716.8L3453.6 724.9L3454.3 735.3L3455 745.8L3456.6 745.3L3458.2 743.3L3459.7 743L3461.2 744.3L3462.8 738.1L3464.3 737.8L3465.8 739.6M3465.8 609.1L3467.4 609L3468.9 606.6L3470.4 607.5L3472 606.2L3473.5 608.5L3475 611L3476.6 611.3L3478.1 612L3479.6 612.2L3481.2 615.8L3482.7 615.3L3484.2 617.4L3485.8 617.8L3487.3 620.7L3488.8 619.2L3490.4 621.2L3491.9 621.2L3493.4 623.6L3495 622.2L3496.5 619.7L3498 619.6L3499.6 618L3501.1 614.7L3503.1 613.7L3504.1 611.9L3505.7 613.8L3507.2 617.7L3508.7 617.8L3510.3 620L3511.8 624L3513.3 622.6L3514.9 626L3516.4 627.2L3517.9 632.4L3519.5 632L3521 634.3L3522.5 638.5L3523.3 637L3524.1 638.7L3525.6 636.1L3527.1 632.2L3528.7 632L3530.2 626.7L3531.7 626.3L3533.3 624.1L3534.8 621.3L3536.3 616.2L3537.9 613L3539.4 611.2L3540.9 609.1L3542.5 604.9L3544 604L3545.5 602.8L3546.6 601.3L3548.6 607.8L3550.1 609.2L3551.7 611.7L3553.2 616.5L3554.7 618.7L3556.2 625.1L3557.8 624.6L3559.3 629.5L3560.8 629.1L3562.4 626.3L3563.9 622.3L3565.4 622.1L3567 618.8L3568.5 616.3L3570 616.6L3571.6 616.4L3573.1 612.5L3574.6 613.7L3576.2 609.4L3577.7 611.3L3579.2 611.6L3580.8 614.9L3582.3 612.1L3583.8 615.6L3585.4 613.6L3586.9 616.4L3588.4 615.8L3590 618.1L3591.5 621.5L3593 622.2L3593.6 621.6L3594.9 610.6L3596.1 599.6L3597.6 597.2L3599.2 599.8L3600.7 598.3L3602.2 598L3603.8 596.7L3605.3 597.1L3606.8 598.7L3608.3 595.7L3609.9 597L3611.4 599.4L3612.9 610.6L3613.7 621L3614.5 631.4L3615 639.6L3615.5 647.9L3616 656.1L3616.5 664.2L3617 672.3L3617.5 680.4L3618.3 688.6L3619.1 696.7L3620.6 702.2L3622.1 703.5L3623.7 707.7L3625.2 708.7L3626.8 709.6L3628.3 705.3L3629.8 702.4L3631.3 694.6L3632.9 686.8L3634.4 675.6L3635.9 664.3L3637.5 653L3638.2 646L3639 639L3639.8 629.9L3640.5 620.8L3642.1 612L3643.6 603.3L3645.1 599.4L3646.7 597L3648.2 593.1L3649.7 589.6L3651.3 588.2L3652.8 588.4L3654.3 585.6L3655.9 585.9L3657.4 584.8L3658.9 585.2L3660.4 584.5L3662 584.3L3663.5 583.3L3665 580.4L3666.6 582.6L3668.1 579.8L3669.6 579.7L3671.2 576.2L3672.7 572.6L3674.2 570.8L3675.8 568.7L3677.3 572L3678.8 570.7L3680.4 569.8L3681.9 572.2L3683.4 568.6L3685 568L3686.5 570.7L3688 568.9L3689.6 570.1L3691.1 573.2L3692.6 574L3694.2 570.6L3695.7 574.6L3697.2 566.7L3698.8 567.1L3700.3 570L3701.8 568.1L3703.4 567L3704.9 569.8L3706.4 569.6L3708 572.9L3709.5 575.5L3711 573.4L3712.5 570.6L3714.1 568L3715.6 564.3L3717.1 562L3717.8 562.1L3718.7 563.2L3720.2 564.5L3721.7 564.6L3723.3 565.4L3724.8 568.2L3725.6 569.9L3726.3 567.4L3727.9 564.5L3729.4 563.1L3730.9 563.1L3732.5 559.6L3734 558L3735.9 558.2L3737.1 558.3L3738.6 562.2L3740.1 567.7L3741.7 570.9L3743.2 574.7L3744.7 579.4L3746.3 582.8L3747.8 578.5L3749.3 576.6L3750.9 572.9L3752.4 572.1L3753.9 568.7L3755.5 565.4L3757 564.7L3757.9 562.1L3760.1 564.3L3761.6 566.6L3763.1 566.2L3764.6 567.7L3766.2 569.7L3767.7 573.3L3769.2 576L3770.8 576.9L3772.3 580.9L3773.8 583L3775.4 586.3L3776 585.4L3776.9 584L3778.4 578.8L3780 576.6L3781.5 574.5L3783 571.3L3784.6 569.4L3786.1 568L3787.6 565.7L3789.2 564.5L3790.3 564.7L3792.2 575.6L3792.9 580.2L3793.8 579.7L3795.3 577.2L3796.8 578.1L3798.4 575.3L3799.9 574.9L3801.4 573L3803 575.1L3804.5 573.6L3806 572.7L3807.6 574.7L3809.1 576L3810.6 578.3L3812.2 578.1L3813.7 576.1L3815.2 577.6L3816.7 573.6L3818.3 575.2L3819.8 575.8L3821.3 575.7L3822.9 577.5L3824.4 581.1L3826.5 582.8L3827.5 581L3829 579.5L3830.5 577.7L3832.1 575.2L3833.6 572.2L3835.1 569.7L3836.7 566.4L3838.2 567L3839.7 562.7L3841.3 561.1L3842 562.1L3842.8 564.4L3844.3 565.4L3845.9 569.3L3847.4 573.5L3848.9 576L3850.5 574.5L3852 572.9L3853.5 572.7L3855.1 571.1L3856.6 573.4L3858.1 571.8L3859.7 569.9L3861.2 568.5L3862.7 567.8L3864.3 568.2L3865.8 565.9L3866.6 564.7L3867.3 564.7L3868.8 566.1L3870.4 566.1L3871.9 568.6L3873.4 568.2L3875 572.3L3876.5 571.7L3878 572.7L3879.6 573.8L3881.1 575.7L3882.6 576.6L3884.2 577L3886 580.2L3887.2 577.1L3888.8 578.8L3890.3 578.1L3891.8 576.2L3893.4 573.9L3894.9 573.8L3896.4 572.4L3898 573.1L3899.5 571.8L3901 567.6L3901.5 559.1L3902 550.7L3902.6 542.3L3903.9 536.2L3905.6 542.9L3907.2 545.6L3908.7 552L3910.2 555.6L3911.8 557.2L3913.3 561.7L3914.2 562.1L3916.4 559.5L3917.9 558.3L3919.4 558.5L3920.9 555.5L3922.5 552.7L3923.3 554.3L3924 556.7L3925.5 563L3927.1 569.4L3928.6 574.5L3930.1 576.5L3931.7 580.1L3933.6 585.4L3934.7 581.4L3936.3 581.2L3937.8 581.7L3939.3 578.7L3940.9 577.7L3942.4 579.9L3943.9 571.8L3945.5 563.7L3947 557.4L3948.5 552.2L3950.5 547.9L3951.6 550.9L3953.1 555.2L3954.7 557.9L3956.2 558.5L3957.7 562L3959.3 559.5L3960.8 557.8L3962.3 556.6L3963.9 559.3L3965.4 562.8L3966.9 564.4L3968.5 569.5L3970 570L3971.5 572.2L3973 574.2L3974.6 573.2L3976.1 574.4L3977.6 577.7L3979.2 575L3980.7 575.4L3982.2 574.8L3983.8 571.9L3985.3 572.7L3986.8 570.9L3988.4 569.5L3989.9 568.3L3991.8 566L3993 564.7L3994.5 567.2L3996 568.7L3997.6 569.6L3999.1 570L4000.6 572.1L4002.2 570.6L4003.7 573.4L4005.2 572.5L4006.8 575.2L4008.3 574.6L4009.8 575.8L4011.4 577.2L4012.9 577.7L4014.4 579.4L4016 580.4L4017.5 576.9L4019 577.3L4020.6 577.7L4022.1 578.2L4023.6 579L4025.1 576.8L4026.7 576.5L4028.2 578.2L4029.7 577.9L4031.3 575.7L4032.8 576.7L4034.3 575.7L4035.9 578.4L4037.4 577.2L4038.9 577L4040.5 578.3L4042 577.1L4043.5 576.5L4045.1 579.9L4046.6 579.2L4048.1 579.8L4049.7 581.7L4051.2 577.6L4052.7 577.4L4054.3 576.1L4055.8 574.9L4057.3 575.6L4058.9 574.6L4060.4 574.2L4061.9 575L4063.5 577.4L4065 578L4066.5 577.6L4068.1 577.6L4069.6 578.7L4071.1 579.8L4072.7 579.2L4073.4 581.5L4074.2 580.8L4075.7 580.8L4077.2 577.4L4078.8 575.4L4080.3 574.7L4081.8 573.6L4083.4 572.6L4084.9 572.9L4086.4 572.6L4088 573.1L4089.5 571.1L4091 571.9L4092.6 572.3L4094.1 574.8L4095.6 572.8L4097.2 574L4098.7 574.7L4100.2 577.3L4101.8 577.6L4103.3 578.1L4104.8 576.8L4106.4 574.2L4107.9 575L4109.4 572.2L4111 571.6L4112.2 569.9L4114 572L4115.6 572.2L4117.1 572L4118.6 574.8L4120.2 575.3L4121.7 576L4123.2 576.3L4124.8 579.5L4126.3 581.2L4127.8 582.2L4129.3 583.4L4130.9 584.8L4131.6 586.7L4132.4 584.8L4133.9 583.3L4135.5 581.6L4137 579.5L4138.5 578.2L4140.1 576.3L4141.6 573.1L4143.1 574L4144.7 571.4L4146.2 570.5L4147.7 570L4149.3 569.9L4150.8 570.8L4152.3 574.2L4153.9 576.8L4155.4 575L4156.9 578.3L4158.7 577.6L4160 578L4161.5 577.3L4163.1 574.8L4164.6 574.1L4166.1 573.3L4167.7 571.5L4169.1 568.6L4170.7 567.5L4172.3 569.6L4173.8 568.7L4175.3 571L4176.9 570.6L4178.4 570.2L4179.9 572.3L4181.4 570.6L4183 572.1L4184.5 573L4186 574.7L4187.6 574.5L4189.1 574.8L4190.6 571.1L4192.2 573.7L4193.7 572.9L4195.2 569.8L4196.8 569.1L4198.3 571.8L4199.8 571.2L4201.4 568.8L4202.9 570.4L4204.4 572L4206 573L4207.5 573.4L4209 575.8L4210.6 576.4L4212.1 576.6L4213.6 580.9L4215.2 581.6L4216.7 582.4L4218.2 582.4L4219.8 584.4L4221.3 582.3L4222.8 582.1L4224.4 583.4L4225.9 581.2L4227.4 581.7L4229 583.1L4230.5 582.8L4232 582.7L4233.5 582.3L4235.1 583.9L4236.6 585.1L4238.1 588.4L4239.7 590.2L4241.5 591.8L4242.9 584L4244.3 576.1L4245.8 573.3L4247.3 573.3L4248.9 573.7L4250.4 572L4251.9 572.4L4253.5 572.7L4255 569.9L4256.5 572.5L4258.1 572.9L4259.6 573.2L4261.1 572.5L4262.7 571.5L4264.2 572.1L4265.7 571.8L4267.3 573L4268.8 575.7L4270.3 576L4271.9 578.1L4273.4 579.5L4274.9 579.7L4276.5 582.8M1737 724.8L1737 846L1738.5 861.5L1740.4 902.7M3465.8 739.6L3465.8 609.1" fill="none" stroke="#4d9a05" stroke-width="4" stroke-linejoin="round" stroke-linecap="round"/>
<path d="M883.5 731.7h0M885.1 737.8h0M886.6 743h0M888.1 747.7h0M889.7 753.8h0M890.7 763.5h0M891.7 773.3h0M892.7 783.1h0M893.5 790.8h0M894.3 798.6h0M895.8 802.3h0M897.3 807.5h0M898.9 809.6h0M900.4 811h0M901.9 810.7h0M903.5 811.7h0M905 812.7h0M906.5 812h0M908.1 812h0M909.6 813.4h0M911.1 810.9h0M912.7 804h0M914.2 798.4h0M915.7 792.9h0M917.2 789.5h0M918.8 786.7h0M920.3 782.8h0M921.4 779.2h0M923.4 784h0M924.9 787.7h0M926.4 792.3h0M927.6 796.3h0M929.5 790.2h0M931 785.3h0M932.6 780.7h0M934.1 780.4h0M935.6 780.1h0M937.2 780.7h0M938.7 779.7h0M940.2 780.6h0M941.8 781.3h0M943.3 783.2h0M944.8 783.4h0M946.4 784.5h0M947.9 785.2h0M949.4 787.3h0M951 788.1h0M952.5 788.7h0M954 788.8h0M955.6 789.7h0M957.1 790.6h0M958.6 792h0M960.1 792.9h0M961.8 796.3h0M963.2 794.4h0M964.7 792.9h0M966.3 791h0M967.8 788.7h0M969.3 787.7h0M970.9 789.6h0M972.4 789.7h0M973.9 789.6h0M975.5 789.1h0M977 788.9h0M978.5 789.2h0M980.1 789.6h0M981.6 790.2h0M983.1 789.7h0M984.7 790h0M986.2 788.7h0M987.7 789.3h0M989.3 792.5h0M990.8 796.4h0M992.3 800.8h0M994.4 807.1h0M995.4 801.3h0M996.9 792.8h0M998.5 784.4h0M1000 775.7h0M1001.5 766.9h0M1002.2 763.7h0M1003 762.7h0M1004.6 767.3h0M1006.1 768.9h0M1007.6 770.4h0M1009.2 771.9h0M1010.7 774.8h0M1012.2 781.2h0M1013.8 787.6h0M1015.3 791.7h0M1016.8 795h0M1018.4 797.9h0M1019.3 797.8h0M1019.9 797.8h0M1021.4 793.6h0M1023 789.8h0M1024.5 787.6h0M1026 786.6h0M1027.6 786.7h0M1029.1 786.1h0M1030.6 786.7h0M1032.2 786.2h0M1033.7 785.9h0M1035.2 786.2h0M1036.8 786.1h0M1038.3 787.1h0M1039.8 787.3h0M1041.4 786.1h0M1042.9 786.5h0M1044.4 788h0M1045.9 788.7h0M1047.5 787.9h0M1049 788.6h0M1050.5 787.5h0M1052.1 787.8h0M1053.6 790.8h0M1055.1 791.4h0M1056.7 790.5h0M1058.2 790.3h0M1059.7 786.5h0M1061.3 785.7h0M1062.8 785.1h0M1064.3 784.2h0M1065.9 783.5h0M1067.4 785.5h0M1068.9 785.1h0M1070.5 786.4h0M1072 787.5h0M1073.5 789.9h0M1075.1 790.3h0M1076.6 798.8h0M1078.1 807.3h0M1079.8 816.5h0M1081.2 812.7h0M1082.7 807.7h0M1084.3 802.9h0M1085.8 792.4h0M1087.3 782h0M1088.9 780.1h0M1090.4 779.2h0M1091.9 778.9h0M1093.4 778.6h0M1095 778.4h0M1096.5 779.5h0M1098 781.1h0M1099.6 784.2h0M1101.1 786h0M1102.6 789.2h0M1104.2 792.1h0M1105.7 793.9h0M1107.2 796.5h0M1108.8 797.5h0M1110.9 800.9h0M1111.8 796.8h0M1113.4 791.5h0M1114.9 786.2h0M1115.5 785.4h0M1116.4 787.6h0M1118 788.5h0M1119.5 789.6h0M1121 791.4h0M1122.6 791.1h0M1124.1 792.9h0M1124.8 793.2h0M1125.6 792.4h0M1127.2 789h0M1128.7 787.1h0M1130.2 783.4h0M1131.8 779.4h0M1133.3 775.7h0M1134.2 773h0M1134.8 773.7h0M1136.3 776.1h0M1137.9 779.6h0M1139.4 782.2h0M1140.9 785.4h0M1142.5 784.8h0M1144 785.8h0M1145.5 785.4h0M1147.1 785.5h0M1148.6 783h0M1150.1 780.5h0M1151.7 777.6h0M1152.8 776.1h0M1153.8 782.6h0M1154.7 789.1h0M1156.3 797.5h0M1157.8 800.8h0M1159.3 803.9h0M1160.9 807.7h0M1162.4 810.9h0M1163.7 813.4h0M1164.6 806.7h0M1165.5 800h0M1166.2 793.4h0M1167 786.7h0M1167.5 778.7h0M1168 770.7h0M1168.5 762.7h0M1169.3 751.2h0M1170.1 755.1h0M1171.6 762h0M1173.1 768.9h0M1174.7 779.9h0M1176.1 790.1h0M1177.7 784.7h0M1179.2 780.5h0M1180.7 776.1h0M1181.5 782.7h0M1182.3 789.4h0M1183.1 796.3h0M1183.8 803.2h0M1184.6 814.5h0M1185.4 825.8h0M1186.9 822.4h0M1188.4 817.6h0M1190 812.9h0M1191.5 808.1h0M1193 804.6h0M1194.6 798.9h0M1196.1 794.5h0M1197.6 790.5h0M1199.2 789.4h0M1200.7 788.5h0M1202.2 787.7h0M1203.8 786.5h0M1205.3 785.4h0M1206.8 784.8h0M1208.7 783.9h0M1209.9 784.6h0M1211.4 784.9h0M1213 785.6h0M1214.5 785.7h0M1216 786.9h0M1217.6 788.4h0M1219.1 789.6h0M1220.6 790.1h0M1222.1 791.2h0M1223.7 791.7h0M1225.2 792.6h0M1226.7 793.3h0M1228.3 793.5h0M1228.9 796.3h0M1229.8 791.9h0M1231.3 787.4h0M1232.9 783.1h0M1234.4 779.4h0M1235.9 777.9h0M1237.5 777.3h0M1239 775.3h0M1239.8 776.1h0M1240.5 776.6h0M1242.1 778.6h0M1243.6 780h0M1245.1 781.7h0M1246.7 782.9h0M1248.2 784.4h0M1249.7 785h0M1251.3 788.3h0M1252.8 789.5h0M1254.3 790.6h0M1255.9 792h0M1256.8 791.6h0M1258.9 791.8h0M1260.5 787.2h0M1262 785.8h0M1263.5 784.9h0M1265 783.4h0M1266.6 782h0M1268.1 781.9h0M1269.6 780.2h0M1271.2 778.3h0M1272.4 779.2h0M1274.2 787h0M1275.8 792.8h0M1277.3 799.2h0M1278.6 804h0M1280.4 800.1h0M1281.9 796.2h0M1283.4 790.1h0M1285 786.5h0M1286.5 782.4h0M1288 782.4h0M1289.6 785.9h0M1291.1 787h0M1292.6 787.6h0M1294.2 788h0M1295.7 797.6h0M1297.2 807.1h0M1298.8 816.5h0M1300.3 814.3h0M1301.8 812.3h0M1303.4 810.3h0M1304.9 808.1h0M1306.4 805.9h0M1308 799.2h0M1309.5 792.5h0M1311 785.6h0M1312.5 779.4h0M1314.1 774h0M1315.6 768.4h0M1317.3 759.8h0M1318.9 751.2h0M1320.2 755h0M1321.7 762.8h0M1323.3 768.1h0M1324.8 773.5h0M1326.3 779.8h0M1327.9 785.6h0M1329.4 787.6h0M1330.9 789.3h0M1332.5 789.7h0M1334 791h0M1335.5 792.8h0M1337.1 799.3h0M1338.6 805.4h0M1340.1 815.5h0M1341.7 825.6h0M1343.2 828.9h0M1344.7 829h0M1346.3 831.8h0M1347.8 831.3h0M1349.3 831.2h0M1350.9 827.8h0M1352.4 821.1h0M1353.9 814.3h0M1354.7 803.1h0M1355.4 791.8h0M1357 790h0M1358.5 787.9h0M1360 786.1h0M1361.6 785h0M1363.1 784.9h0M1364.6 786.4h0M1366.2 784.4h0M1367.7 783.7h0M1369.2 783.5h0M1370.8 784.3h0M1372.3 790h0M1373.8 795.7h0M1375.4 800.8h0M1376.4 805.6h0M1378.4 796h0M1380 789.9h0M1381.5 784.3h0M1383 785.3h0M1384.6 785.5h0M1386.1 783.6h0M1387.6 783.6h0M1389.2 783.4h0M1390.7 782.5h0M1392.2 782.2h0M1393.8 781.1h0M1395.3 781.5h0M1396.8 781.7h0M1398.3 780.3h0M1399.9 780.4h0M1401.4 782.2h0M1402.9 780.4h0M1404.5 780.6h0M1406 779.9h0M1407.5 778.7h0M1409.1 780.1h0M1410.6 780.4h0M1412.1 780.2h0M1413.7 782h0M1415.2 782.5h0M1416.7 782.6h0M1418.3 782.7h0M1419.8 785.1h0M1421.3 786.4h0M1422.9 788.1h0M1424.4 788.8h0M1425.9 790.9h0M1427.5 792.8h0M1429 792.6h0M1430.5 791h0M1432.1 790.3h0M1433.6 789.5h0M1435.1 787.6h0M1436.7 787.1h0M1438.2 785.8h0M1439.7 783.4h0M1441.2 783h0M1442.8 781.2h0M1443.5 780.7h0M1444.3 782.7h0M1445.8 784.6h0M1447.4 787.3h0M1448.9 790.5h0M1450.4 792.8h0M1452 794.3h0M1452.8 794.7h0M1453.5 793.9h0M1455 791.6h0M1456.6 788.2h0M1458.1 785.5h0M1459.6 781.4h0M1461.2 777.8h0M1462.7 774.6h0M1463.7 771.4h0M1465.8 779h0M1467.3 784.4h0M1468.8 789.5h0M1470.4 793.3h0M1471.4 797.8h0M1473.4 793.5h0M1475 792h0M1476.5 790.2h0M1478 789.4h0M1479.6 785.3h0M1481.1 780.5h0M1482.6 776.8h0M1484.1 772.3h0M1485.4 768.3h0M1487.1 778.6h0M1488.7 788.9h0M1490.1 797.8h0M1491.8 794.5h0M1493.3 792.9h0M1494.9 790.2h0M1496.4 789.3h0M1497.9 787.5h0M1499.5 783.7h0M1501 780.3h0M1502 770.7h0M1503 761.1h0M1504.1 751.4h0M1505.6 750.8h0M1507.1 749h0M1508.7 748.4h0M1510.2 745.1h0M1511.7 745.6h0M1513.3 746.9h0M1514.8 747.3h0M1516.3 747.9h0M1517.9 747.3h0M1519.4 747.8h0M1520.2 739.2h0M1520.9 730.7h0M1522.5 721.5h0M1524 712.3h0M1525.5 712h0M1527 713.4h0M1528.6 714.5h0M1530.1 716.1h0M1531.6 719h0M1533.2 721.2h0M1534.7 724.9h0M1536.2 727.8h0M1537.8 732.5h0M1539.3 737.8h0M1541.3 743.5h0M1542.4 739.1h0M1543.9 730.8h0M1545.4 722.6h0M1547 721h0M1548.5 721.3h0M1550 721.6h0M1551.6 723.3h0M1553.1 723.9h0M1554.6 722h0M1556.2 721.6h0M1557.7 720.3h0M1559.2 718.1h0M1560.8 718h0M1562.3 716.7h0M1563.8 714.7h0M1565.4 714.5h0M1566.9 714.7h0M1568.4 713.5h0M1570 713.4h0M1571.5 713.8h0M1573 714h0M1574.5 716.9h0M1576.1 718.3h0M1577.6 719.6h0M1579.1 719.9h0M1580.7 721.6h0M1582.2 721.7h0M1583.2 721.7h0M1585.3 720.8h0M1586.8 719.6h0M1588.3 715.2h0M1589.9 713.5h0M1591.4 712h0M1592.9 710.5h0M1594.5 709h0M1596 709.9h0M1597.2 707.8h0M1599.1 712.1h0M1600.6 715.6h0M1602.1 718.2h0M1603.7 721.5h0M1605.2 724.6h0M1606.7 725h0M1608.3 723.9h0M1609.8 723.5h0M1611.3 724h0M1612.9 723.5h0M1614.4 722.7h0M1615.9 724.3h0M1617.4 723.4h0M1619 724.5h0M1620.5 724.4h0M1622 725.7h0M1623.6 725.6h0M1625.1 725.6h0M1626.6 725.5h0M1628.2 725h0M1629.7 724h0M1631.2 723.7h0M1632.8 720.8h0M1634.3 720.3h0M1635.8 720.2h0M1637.4 719.2h0M1638.9 719.2h0M1640.4 719.1h0M1642 720.2h0M1643.5 719.3h0M1645 720.2h0M1646.6 723.1h0M1648.1 723.8h0M1649.6 722.9h0M1651.2 722.7h0M1652.7 719.1h0M1654.2 719.7h0M1655.8 718.5h0M1657.3 717.5h0M1658.8 718.6h0M1660.3 717.9h0M1661.9 718.7h0M1663.4 718h0M1664.9 718.8h0M1666.5 719h0M1668 719.2h0M1669.5 719.9h0M1671.1 720h0M1672.6 721h0M1674.1 720.2h0M1675.7 721.5h0M1677.2 720.8h0M1678.7 720.3h0M1680.3 720.9h0M1681.8 720.7h0M1683.3 720.8h0M1684.9 719.2h0M1686.4 719.8h0M1687.9 718h0M1689.5 718.3h0M1691 717.9h0M1692.5 717.2h0M1694.1 716.6h0M1695.6 715.7h0M1697.1 716.4h0M1698.7 715.6h0M1700.2 716.7h0M1701.7 716.9h0M1703.2 716.2h0M1704.8 716.8h0M1706.3 717h0M1707.8 716.6h0M1709.4 717.3h0M1710.9 718.6h0M1712.4 718.2h0M1714 716.9h0M1715.5 717.5h0M1717 717.5h0M1718.6 716.9h0M1720.1 716.9h0M1721.6 716.6h0M1723.2 716h0M1724.7 716.2h0M1726.2 715.3h0M1727.8 715.8h0M1729.3 714.9h0M1730.8 714.6h0M1732.4 714.5h0M1733.9 714.3h0M1735.4 717.8h0M1737 724.8h0M1737 846h0M1738.5 861.5h0M1740.4 902.7h0M1741.1 913.2h0M1741.9 923.7h0M1743.4 927.8h0M1745 931.4h0M1746.5 935.4h0M1748.1 939.9h0M1749.6 939.4h0M1751.1 938.1h0M1752.6 936.8h0M1754.2 934.3h0M1755.7 933.1h0M1757.5 932.2h0M1758.8 932.5h0M1760.3 934.5h0M1761.8 936.5h0M1763.7 938.4h0M1765.2 927.5h0M1766.8 916.6h0M1768 922.6h0M1769.5 929.9h0M1771 937.2h0M1772.8 944.8h0M1774.5 952.4h0M1775.6 947.1h0M1777.2 937.8h0M1778.7 928.6h0M1780 920.3h0M1781.4 912h0M1783.1 920.1h0M1784.8 928.1h0M1786.4 934.8h0M1787.9 941.5h0M1789.4 948.5h0M1790.1 952.4h0M1791.3 942.8h0M1792.5 933.3h0M1793.2 929.1h0M1794 928.6h0M1795.6 929.1h0M1797.1 930.2h0M1798.6 933.4h0M1800.1 935.1h0M1801.7 935.8h0M1802.5 935.3h0M1803.2 934.8h0M1804.7 931.7h0M1806.3 928.7h0M1807.8 925.4h0M1809.3 921.6h0M1810.9 917.7h0M1812.4 912.4h0M1814.3 906.7h0M1815.5 907.8h0M1817 909.6h0M1818.5 911.7h0M1820.1 914h0M1821.6 915.3h0M1823.1 918.1h0M1824.7 922.1h0M1826.2 927.2h0M1827.7 931.5h0M1829.3 933.4h0M1830.8 935.8h0M1832.3 938.8h0M1833.5 941.5h0M1835.4 938.4h0M1836.9 936.2h0M1838.5 936.7h0M1840 934.7h0M1841.5 934.2h0M1842.9 932.2h0M1844.6 934h0M1846.1 936.6h0M1847.7 937.5h0M1849.2 939.3h0M1850.7 941.3h0M1852.2 943h0M1853.8 932.2h0M1855.3 922.4h0M1856.9 912.7h0M1858.4 907.6h0M1859.9 902.2h0M1861.5 897.2h0M1863 892.5h0M1864.5 887.3h0M1865.5 885.6h0M1866.6 894h0M1867.6 902.3h0M1868.4 911.4h0M1869.1 920.5h0M1869.7 931.1h0M1870.2 941.7h0M1870.8 952.4h0M1872.2 950.4h0M1873.7 949.5h0M1875.3 948.3h0M1876.8 947.3h0M1878.3 945.9h0M1879.9 943.7h0M1881.4 942.5h0M1883.2 941.5h0M1884.4 942.5h0M1886 946.3h0M1887.5 948.4h0M1889 951.2h0M1891 952.4h0M1892.1 953.8h0M1893.6 952.7h0M1895.2 950.4h0M1896.7 949.6h0M1898.2 948.6h0M1899.8 948.2h0M1901.3 943.1h0M1902.8 943.5h0M1904.4 944.7h0M1905.9 945.2h0M1907.4 945.1h0M1909 946.2h0M1910.5 947.1h0M1912 947h0M1913.6 935.5h0M1914 925h0M1914.3 914.4h0M1914.7 903.8h0M1915.1 893.2h0M1915.8 882.5h0M1916.6 884.8h0M1918.2 888.8h0M1919.7 892.5h0M1921.2 897.3h0M1922.8 900.6h0M1923.6 902.7h0M1924.3 901.4h0M1925.8 897.7h0M1927.4 893.7h0M1928.9 890.1h0M1930.4 885.7h0M1932 882.3h0M1932.9 879.4h0M1935 884.7h0M1936.6 889.1h0M1938.1 893.5h0M1939.6 896.5h0M1941.2 898.8h0M1942.7 900.6h0M1944.2 901.7h0M1945.8 903.6h0M1947.3 903.2h0M1948.8 904.3h0M1950.4 904.9h0M1951.9 904.5h0M1953.4 905.9h0M1955 905.4h0M1956.5 906.6h0M1958 904.3h0M1959.6 900.9h0M1961.1 898.8h0M1962.6 895.2h0M1964.2 893.3h0M1965.7 894.8h0M1967.2 892.2h0M1968.7 892.2h0M1970.3 893.5h0M1971.8 894.3h0M1973.3 894.6h0M1974.9 893.1h0M1976.4 889.7h0M1977.9 889.2h0M1979.5 886.5h0M1981.1 884h0M1982.5 885.4h0M1984.1 886.6h0M1985.6 887.9h0M1987.1 889.8h0M1988.7 891.9h0M1990.2 891.7h0M1991.7 892.7h0M1993.3 893.4h0M1994.8 894.4h0M1996.3 894.6h0M1997.9 897.1h0M1999.4 893.8h0M2000.9 890.2h0M2002.5 887.4h0M2004 883.2h0M2005.5 879.5h0M2006.8 876.3h0M2007.6 885.6h0M2008.3 894.9h0M2009 904.2h0M2010.1 902h0M2011.7 899.6h0M2013.2 896.4h0M2014.7 894.4h0M2016.8 891.8h0M2017.8 893.4h0M2019.3 895.1h0M2020.9 896.7h0M2022.4 898.2h0M2023.9 899.9h0M2025.5 901.9h0M2026.1 902.7h0M2027 901.1h0M2028.5 899h0M2030.1 897.1h0M2031.6 894.2h0M2033.1 892.8h0M2034.7 889.6h0M2036.2 888.3h0M2037.7 885.1h0M2039.3 883h0M2040.8 881.9h0M2042.3 878h0M2043.2 877.8h0M2043.9 877.9h0M2045.4 880.4h0M2046.9 881.8h0M2048.5 884.5h0M2050 887h0M2051.5 890.7h0M2053.1 897.2h0M2054 902.7h0M2056.1 900.7h0M2057.6 900h0M2059.2 897.7h0M2060.7 896.8h0M2062.2 895.2h0M2063.4 893.4h0M2065.3 895.9h0M2066.8 897h0M2068.4 898.1h0M2069.9 900.4h0M2071.4 901.6h0M2073 902.4h0M2074.5 903.7h0M2076 907h0M2077.6 909.8h0M2079.1 912.6h0M2080.4 915.1h0M2082.2 911.5h0M2083.7 908.2h0M2085.2 903.8h0M2086.8 899.7h0M2088.3 895.8h0M2089.8 894.3h0M2091.4 892.8h0M2092.9 889.7h0M2094.4 888.7h0M2095.2 899.5h0M2096 910.2h0M2096.5 918.5h0M2097 926.7h0M2097.5 934.9h0M2098.3 944.8h0M2099 954.6h0M2100.6 957.3h0M2102.1 958.3h0M2103.6 958.6h0M2105.2 959.6h0M2106.7 959.7h0M2108.2 960.7h0M2109.8 949.4h0M2110.5 943.3h0M2111.3 937.2h0M2111.8 927.8h0M2112.3 918.3h0M2112.8 908.9h0M2113.6 897.5h0M2114.4 886h0M2115.1 875.4h0M2115.9 864.8h0M2116.7 854h0M2117.4 843.3h0M2119 835.5h0M2120.5 827.7h0M2121.7 821.9h0M2123.6 827.6h0M2125.1 833.3h0M2126.6 836.5h0M2128.2 838.2h0M2129.7 840.1h0M2131.2 844.3h0M2132.8 848.6h0M2134.8 856.1h0M2135.8 851.9h0M2137.4 850.4h0M2138.9 847h0M2141 840.6h0M2141.9 843.3h0M2143.5 844.7h0M2145 847.7h0M2146.5 850.7h0M2148.1 852.8h0M2149.6 855.5h0M2150.3 854.5h0M2151.1 855.6h0M2152.7 854.6h0M2154.2 854.1h0M2155.7 852.9h0M2157.3 853.2h0M2158.8 851.9h0M2160.3 848.8h0M2161.9 847.8h0M2163.4 847h0M2164.9 845.9h0M2166.5 845.4h0M2168 844.6h0M2169.5 845.9h0M2171.1 844.4h0M2172.6 843.3h0M2174.1 842.5h0M2175.2 840.6h0M2177.2 847.3h0M2178.7 850.6h0M2180.3 854.3h0M2181.8 857.9h0M2183.3 861.4h0M2184.9 860.4h0M2186.4 860.7h0M2187.9 861.1h0M2189.5 861.1h0M2191 860.7h0M2192.5 861.2h0M2194.1 860.4h0M2195.6 856.5h0M2197.1 852.5h0M2198.7 847.6h0M2200 843.7h0M2201.7 843.3h0M2203.3 844.6h0M2204.8 845.7h0M2206.3 847.2h0M2207.9 849.1h0M2209.3 851.4h0M2210.9 843.3h0M2212.5 835.1h0M2214 828.1h0M2215.5 829.8h0M2217.1 830.9h0M2218.6 831.7h0M2220.1 833h0M2221.7 834h0M2223.2 834.6h0M2224.7 835.2h0M2226.2 834.9h0M2227.8 835.1h0M2229.3 835.3h0M2230.8 836.6h0M2232.4 834h0M2233.9 831.2h0M2235.4 829h0M2237.3 828.1h0M2238.5 829h0M2240 831.6h0M2241.6 834h0M2243.1 836h0M2244.6 838.7h0M2246.2 841.8h0M2247.7 846.5h0M2249.2 851.3h0M2251.2 857.6h0M2252.3 856.4h0M2253.8 854.4h0M2255.4 852.1h0M2256.9 850.4h0M2258.4 847.7h0M2260 845.1h0M2261.5 841.8h0M2263 837.7h0M2264.6 834.8h0M2266.1 831.8h0M2267.6 828.4h0M2268.3 826.6h0M2269.2 827.7h0M2270.7 828.2h0M2272.2 830.4h0M2273.8 831.9h0M2275.3 833h0M2276.8 835.2h0M2278.4 835.4h0M2279.9 834.7h0M2281.4 834.2h0M2283 834.2h0M2284.5 831.9h0M2286 830.7h0M2287.6 831h0M2289.1 830.5h0M2290.6 830.8h0M2292.2 830.2h0M2293.7 829.8h0M2295.2 830.4h0M2296.8 829.4h0M2298.3 829.4h0M2299.8 830.6h0M2301.4 830.1h0M2302.9 829.8h0M2304.4 829.6h0M2306 829.5h0M2307.5 829.9h0M2309 829.9h0M2310.5 833.2h0M2312.1 832.5h0M2313.6 832.4h0M2315.1 832.5h0M2316.7 832.3h0M2318.2 832.6h0M2319.7 829.7h0M2321.3 829.6h0M2322.8 830.6h0M2324.3 831.9h0M2325.9 831.8h0M2327.4 833.2h0M2328.9 833.6h0M2330.5 831.6h0M2332 830h0M2333.5 828.1h0M2423.6 776.3h0M2425.1 778.5h0M2426.7 782h0M2428.2 780.8h0M2429.7 781.5h0M2431.3 780.3h0M2432.8 780.1h0M2434.3 780.6h0M2435.9 779h0M2437.4 781.2h0M2438.9 781.2h0M2440.5 781.3h0M2442 779.4h0M2443.5 779.5h0M2445.1 779.2h0M2446.6 779.8h0M2448.1 779.2h0M2449.7 780.1h0M2451.2 780.3h0M2452.7 779h0M2454.3 780.2h0M2455.8 779.4h0M2457.3 780.4h0M2458.9 780.2h0M2460.4 780.1h0M2461.9 780.6h0M2463.5 780.4h0M2465 779.2h0M2466.5 777.9h0M2468.1 776.8h0M2469.6 775.6h0M2471.1 775h0M2472.6 774.5h0M2474.2 774.5h0M2475.7 775h0M2477.2 772.6h0M2478.8 773h0M2480.3 772.8h0M2481.8 773.3h0M2483.4 777.3h0M2484.9 787.2h0M2486.4 797h0M2487.2 805.3h0M2488 813.5h0M2488.8 822.9h0M2489.5 820h0M2491 818.9h0M2492.6 816.9h0M2494.1 814.8h0M2495.6 812.3h0M2496.6 812h0M2498.7 815.5h0M2500.2 818.2h0M2501.8 820.6h0M2503.3 823.8h0M2504.3 826h0M2505.4 819.6h0M2506.4 813.2h0M2507.9 805.6h0M2509.4 803.4h0M2511.5 799.6h0M2512.5 801.1h0M2514 805.5h0M2515.6 810.9h0M2517.1 820h0M2518.6 829.1h0M2519.4 835.9h0M2520.2 842.8h0M2521.7 843h0M2523.2 843.4h0M2524.8 843.3h0M2526.3 843.3h0M2527.8 842.5h0M2529.4 841.5h0M2530.9 844h0M2532.4 845.3h0M2534 846.9h0M2535.5 848.6h0M2537 849.9h0M2538.6 848.2h0M2540.1 848h0M2541.6 847.9h0M2543.2 847.2h0M2544.7 847.1h0M2546.2 846.3h0M2547.8 846.2h0M2549.3 836h0M2550.8 825.7h0M2551.6 815.6h0M2552.3 805.6h0M2553.1 795h0M2553.9 784.3h0M2555.4 774.4h0M2556.9 764.5h0M2558.5 756.7h0M2560 748.8h0M2561.5 747.2h0M2563.1 747.8h0M2564.6 747.2h0M2565.4 756.3h0M2566.1 765.4h0M2566.8 775.2h0M2567.4 785.1h0M2568 794.9h0M2569.2 792.7h0M2570.7 789.9h0M2572.3 787.9h0M2573.8 784.9h0M2575.3 782.6h0M2576.9 780.4h0M2578.4 778.3h0M2579.9 776.5h0M2581.5 774.9h0M2583 772.9h0M2585.1 770.1h0M2586.1 780.4h0M2587.2 790.8h0M2588.2 801.1h0M2589.1 798.7h0M2590.7 794.7h0M2592.2 790.7h0M2593.7 786.6h0M2595.3 784.7h0M2596.8 784.7h0M2598.3 784.1h0M2599.9 784.9h0M2601.4 785.2h0M2602.9 785.1h0M2604.5 783.7h0M2606 783.6h0M2607.5 784h0M2609.1 784.4h0M2610.6 784.8h0M2612.1 786.3h0M2613.7 787.4h0M2615.2 788.5h0M2616.7 789.5h0M2618.3 789h0M2619.8 788.4h0M2621.3 789h0M2622.9 788.8h0M2624.4 787.6h0M2625.9 787h0M2627.5 786.2h0M2629 785.1h0M2630.5 786.3h0M2632 785.8h0M2633.6 785.3h0M2635.1 783.1h0M2636.6 773.1h0M2638.2 763.2h0M2639.7 755.8h0M2641.2 748.4h0M2642.8 748h0M2644.3 747.1h0M2645.8 746.9h0M2647.4 756.6h0M2648.9 766.2h0M2649.7 776.2h0M2650.4 786.1h0M2652 785.3h0M2653.5 785.7h0M2655 784h0M2656.6 783.7h0M2658.1 782.7h0M2659.6 782.6h0M2661.2 782.9h0M2662.7 782.2h0M2664.2 781.5h0M2665.8 782.2h0M2667.3 782.5h0M2668.8 781.9h0M2670.4 784.5h0M2671.9 786.3h0M2673.4 788.3h0M2675 790.2h0M2676.7 793.4h0M2678 792.1h0M2679.6 789.5h0M2681.1 787.5h0M2682.9 782.5h0M2684.2 783.8h0M2685.7 786.1h0M2687.2 788.4h0M2688.8 790.5h0M2690.7 793.4h0M2691.8 789.5h0M2693.4 785.2h0M2694.9 780.8h0M2696.9 776.3h0M2698 777.3h0M2699.5 778.6h0M2701 781.2h0M2702.6 783.1h0M2704.1 783.7h0M2705.6 786.1h0M2707.2 787h0M2708.7 788.8h0M2710.2 790.7h0M2711.8 791.3h0M2712.4 793.4h0M2713.3 790.8h0M2714.8 789.1h0M2716.3 787.1h0M2717.9 784.4h0M2719.4 773.2h0M2720.2 763.9h0M2720.9 754.6h0M2721.5 744.2h0M2722 733.9h0M2722.5 723.5h0M2724 712.3h0M2724.8 706.4h0M2725.5 707.9h0M2727.1 711h0M2728.6 713.4h0M2730.1 715.9h0M2731.7 717.6h0M2733.2 717.7h0M2734.7 717.9h0M2736.3 717.9h0M2737.8 718.5h0M2739.3 719h0M2740.9 717.9h0M2742.4 718.9h0M2743.9 719.6h0M2745.5 720h0M2747 719.8h0M2748.5 719.8h0M2750.1 719.7h0M2751.6 720.4h0M2753.1 719.7h0M2754.7 720.1h0M2756.2 721.1h0M2757.7 720.2h0M2759.3 720.4h0M2760.8 719.5h0M2762.3 719.1h0M2763.9 719.8h0M2765.4 718.5h0M2766.9 718.8h0M2768.5 719.1h0M2770 718.5h0M2771.5 718.1h0M2773.1 718.1h0M2774.6 717.7h0M2776.1 715.9h0M2777.7 714.9h0M2779.2 714.1h0M2780.7 712.7h0M2782.3 709.4h0M2783.9 709.5h0M2785.3 711h0M2786.9 713.6h0M2788.4 715.9h0M2789.9 718.7h0M2791.5 723.2h0M2793 726.9h0M2794.5 731.8h0M2796 735.7h0M2797.6 739.2h0M2799.1 742.6h0M2800.9 746.8h0M2802.3 739h0M2803.7 731.3h0M2805.2 722.6h0M2806.8 720.6h0M2808.3 720.7h0M2809.8 720.4h0M2811.4 719.9h0M2812.9 720.9h0M2814.4 720.4h0M2816 721.3h0M2817.5 721.1h0M2819 721.4h0M2820.6 721.3h0M2822.1 721.9h0M2823.6 720.8h0M2825.2 718.9h0M2826.7 719.1h0M2828.2 719h0M2829.8 718.1h0M2831.3 719.9h0M2832.8 719.9h0M2834.4 718.8h0M2835.9 719.4h0M2837.4 718.3h0M2839 718h0M2840.5 717.9h0M2842 718h0M2843.6 717.2h0M2845.1 716.4h0M2846.6 715.7h0M2848.2 716.5h0M2849.7 715.6h0M2851.2 715.5h0M2852.8 715.2h0M2854.3 716.4h0M2855.8 713.7h0M2857.4 714.4h0M2858.9 715.4h0M2860.4 715.5h0M2862 719.1h0M2863.5 719.5h0M2865 719.8h0M2866.6 720.7h0M2868.1 720.8h0M2869.6 720.6h0M2871.2 720.4h0M2872.7 720.3h0M2874.2 720.9h0M2875.7 719.5h0M2877.3 719.9h0M2878.8 720.1h0M2880.3 719.9h0M2881.9 718.7h0M2883.4 720.2h0M2884.9 719.3h0M2886.5 719.5h0M2888 719.3h0M2889.5 719.4h0M2891.1 717.1h0M2892.6 716.6h0M2894.1 715.5h0M2895.7 715.3h0M2897.2 714.9h0M2898.7 714.2h0M2900.3 714h0M2901.8 713.6h0M2903.3 716.2h0M2904.9 715.4h0M2906.4 714.7h0M2907.9 713.9h0M2909.5 712.8h0M2911 711.6h0M2912.5 710.2h0M2914.1 709.2h0M2915.6 708.4h0M2917.4 706.4h0M2918.7 710h0M2920.2 713.3h0M2921.7 717.4h0M2923.3 721.5h0M2924.8 723.1h0M2926.3 724.4h0M2927.9 725.7h0M2929.4 728.1h0M2930.9 732.9h0M2932.9 734.3h0M2934 735.1h0M2935.5 734.5h0M2937.1 732.3h0M2938.6 731.7h0M2940.1 730.6h0M2941.7 728.9h0M2943.2 728.9h0M2944.7 726.7h0M2945.3 726.6h0M2946.3 726.6h0M2947.8 726.9h0M2949.3 727.4h0M2950.9 728.3h0M2952.4 729.6h0M2953.9 730.6h0M2955.4 730.8h0M2957 732.1h0M2958.5 731.8h0M2960 732.7h0M2961.6 732.9h0M2963.1 732.7h0M2964.6 732.4h0M2966.2 732.4h0M2967.7 732.4h0M2969.2 733.7h0M2970.8 733.8h0M2972.3 733.2h0M2973.8 733.1h0M2975.4 734h0M2976.9 733.7h0M2978.4 733h0M2980 732.2h0M2981.5 733h0M2983 732.1h0M2984.6 731.3h0M2986.1 730.6h0M2987.6 730.4h0M2989.2 732h0M2990.7 730.3h0M2992.2 730.1h0M2993.8 728.5h0M2995.3 728.5h0M2996.8 728.5h0M2998.4 729.1h0M2999.9 729.9h0M3001.4 726.5h0M3003 723.2h0M3004.5 719.4h0M3006 715.6h0M3007.6 712.3h0M3009.1 708.2h0M3010.6 704.4h0M3011.8 700.7h0M3012.7 707.9h0M3013.7 715.2h0M3015.2 717.9h0M3016.8 721.2h0M3018.3 724h0M3019.8 726.7h0M3021.4 730.6h0M3022.9 735.6h0M3024.4 739.3h0M3025.2 745.8h0M3026 752.2h0M3026.7 763.1h0M3027.5 774.1h0M3029 778.3h0M3030.6 782.2h0M3032.1 783.5h0M3033.6 783.2h0M3035.1 783.3h0M3036.7 784.3h0M3038.2 783.9h0M3039.7 784.5h0M3041.3 784.5h0M3042.8 786.3h0M3044.3 786.2h0M3045.9 787.3h0M3047.4 788.4h0M3048.9 788.9h0M3050.5 789.9h0M3051.2 792.4h0M3052 790.2h0M3053.5 789.2h0M3055.1 788.6h0M3056.6 787.5h0M3058.1 787.3h0M3059.7 789.1h0M3061.2 787.5h0M3062.7 783.4h0M3063.8 772.2h0M3064.8 760.9h0M3065.8 749.7h0M3067.3 741.8h0M3068.9 737.3h0M3070.4 736.2h0M3071.9 735.5h0M3073.5 735.3h0M3075 734h0M3076.5 733.7h0M3078.1 733.9h0M3079.6 734.1h0M3081.1 735.3h0M3082.7 736.8h0M3084.2 735.2h0M3085.7 739.3h0M3086.2 749.3h0M3086.8 759.3h0M3087.3 769.3h0M3088.8 773h0M3090.3 777.2h0M3091.9 781.4h0M3093.4 782.6h0M3094.9 783.1h0M3096.5 783.9h0M3098 785.2h0M3099.5 785.5h0M3101.1 786.5h0M3102.6 784.8h0M3104.1 783.5h0M3105.7 782.2h0M3107.2 781.6h0M3108.7 777.9h0M3110.3 776.4h0M3111.8 776.6h0M3113.3 777.7h0M3114.9 778.2h0M3116.4 777.6h0M3117.9 778.8h0M3119.4 778.7h0M3121 769.3h0M3122.5 760h0M3123.3 748.5h0M3124 737.1h0M3125.6 730.2h0M3127.1 728.1h0M3128.6 725.6h0M3130.2 724.3h0M3131.7 722.7h0M3133.2 720.3h0M3134.8 714.8h0M3136.6 707h0M3137.8 706.7h0M3139.4 707.8h0M3140.9 709.3h0M3142.4 710.4h0M3144.4 713.2h0M3145.5 710.6h0M3147 709.6h0M3148.6 708h0M3150.6 707h0M3151.6 710.5h0M3153.2 717.5h0M3154.7 724.5h0M3156.8 731.8h0M3157.8 726.7h0M3158.5 716.8h0M3159.3 706.9h0M3160.1 697h0M3160.8 687.2h0M3162.4 680.5h0M3163.9 678.1h0M3165.4 678.6h0M3167 678.7h0M3168.5 679.4h0M3170 680.2h0M3171.6 680.2h0M3173.1 679.5h0M3174.6 677.2h0M3176.2 675.2h0M3177.7 672.7h0M3179.2 670.9h0M3180.8 668.4h0M3181.7 668.1h0M3182.3 667.8h0M3183.8 671h0M3185.4 674h0M3186.9 678.8h0M3188.4 681.6h0M3190 685.2h0M3191.5 688.6h0M3193 692.5h0M3194.1 693h0M3196.1 688.3h0M3197.6 683.3h0M3199.1 679.9h0M3200.7 677.2h0M3202.2 674.3h0M3203.7 669.3h0M3205 668.1h0M3206.8 668.8h0M3208.3 669.6h0M3209.9 670.7h0M3211.4 671.7h0M3212.9 673.4h0M3214.5 675.1h0M3216 676.3h0M3217.5 679.3h0M3219.1 682.9h0M3220.6 684.4h0M3222.1 684.7h0M3223.7 685h0M3225.2 684.8h0M3226.7 681.9h0M3228.3 682.6h0M3229.8 682.4h0M3231.3 680.9h0M3232.9 678.1h0M3234.4 678.9h0M3235.9 676.3h0M3237.5 674.5h0M3239.1 671.2h0M3240.5 674.3h0M3242.1 676h0M3243.6 677.4h0M3245.1 678.2h0M3246.7 679.8h0M3248.2 681.8h0M3249.7 682.9h0M3251.3 682.6h0M3252.8 683h0M3254.3 681.3h0M3255.9 681.8h0M3257.4 682.1h0M3258.9 684.1h0M3260.5 686.6h0M3262 689.6h0M3263.5 691.1h0M3265.1 693.4h0M3267.1 697.6h0M3268.1 694.2h0M3269.7 691.1h0M3271.2 687.9h0M3272.7 684.7h0M3274.3 675.2h0M3275.8 665.7h0M3277.3 654.8h0M3278.8 643.9h0M3280.4 637.7h0M3281.9 633.1h0M3283.4 628.6h0M3284.2 627.8h0M3285 631.7h0M3286 639.6h0M3287 647.6h0M3288 655.6h0M3288.8 664h0M3289.6 672.5h0M3290.3 678.6h0M3291.1 684.8h0M3292.6 696.4h0M3294.2 707.2h0M3295 713.2h0M3295.7 710h0M3297.2 703h0M3298.8 696h0M3300.3 690.2h0M3301.8 687.7h0M3303.4 684.5h0M3304.9 681.5h0M3306.4 678.3h0M3308 678.1h0M3309.5 676.9h0M3311 674.7h0M3312.6 674.4h0M3314.1 670.6h0M3315.6 660h0M3317.2 649.4h0M3317.9 642.1h0M3318.7 634.7h0M3320.2 631.3h0M3321.8 627.2h0M3323.3 623.2h0M3324.8 623.9h0M3326.4 623.6h0M3327.9 622.3h0M3329.4 623.2h0M3331 620.7h0M3332.5 620.2h0M3334 621.3h0M3335.6 621.5h0M3337.1 622.1h0M3338.6 621.2h0M3340.2 621.5h0M3341.7 621.8h0M3343.2 623.6h0M3344 632.2h0M3344.8 640.7h0M3345.5 650h0M3346.3 659.2h0M3347.1 666.8h0M3347.8 674.4h0M3349.4 675.4h0M3350.9 675.7h0M3352.4 677.8h0M3354 678.6h0M3355.5 678.7h0M3357 679.7h0M3358.5 679.2h0M3360.1 680h0M3361.6 680.4h0M3363.1 678h0M3364.7 677.5h0M3366.2 678.7h0M3367.7 679.3h0M3369.3 678.9h0M3370.8 682.8h0M3372.3 682h0M3373.9 682.4h0M3375.4 681.8h0M3376.9 682.4h0M3378.5 681.8h0M3380 682.5h0M3381.5 680.2h0M3383.1 681.1h0M3384.6 681.1h0M3386.1 682.3h0M3387.7 682.6h0M3389.2 683.3h0M3390.7 684h0M3392.3 685h0M3393.8 685.6h0M3395.3 686.5h0M3396.9 689.9h0M3398.4 690.6h0M3399.9 691.5h0M3401.5 691.4h0M3403 692.4h0M3403.7 691.4h0M3404.5 692h0M3406.1 691.1h0M3407.6 689.4h0M3409.1 687.8h0M3410.7 685.8h0M3412.2 682.4h0M3413.7 680.8h0M3414.6 680.6h0M3415.3 680.6h0M3416.8 682h0M3418.3 684.6h0M3419.9 686.3h0M3421.4 688.6h0M3422.9 692.8h0M3424.5 700.3h0M3426 707.9h0M3427.5 718.4h0M3429.1 728.8h0M3429.8 734.8h0M3430.6 740.9h0M3432.1 751.9h0M3433.7 762.9h0M3434.8 772.2h0M3435.7 765.1h0M3436.7 758h0M3437.7 749.8h0M3438.8 741.5h0M3439.8 733.2h0M3440.5 725.2h0M3441.3 717.3h0M3441.8 709.1h0M3442.3 700.9h0M3442.8 692.7h0M3443.6 680.8h0M3444.4 668.9h0M3445 660h0M3445.7 651.1h0M3446.5 657.3h0M3447.4 663.6h0M3449 674.6h0M3449.7 680.8h0M3450.5 687h0M3451.3 693.9h0M3452 700.7h0M3452.6 708.8h0M3453.1 716.8h0M3453.6 724.9h0M3454.3 735.3h0M3455 745.8h0M3456.6 745.3h0M3458.2 743.3h0M3459.7 743h0M3461.2 744.3h0M3462.8 738.1h0M3464.3 737.8h0M3465.8 739.6h0M3465.8 609.1h0M3467.4 609h0M3468.9 606.6h0M3470.4 607.5h0M3472 606.2h0M3473.5 608.5h0M3475 611h0M3476.6 611.3h0M3478.1 612h0M3479.6 612.2h0M3481.2 615.8h0M3482.7 615.3h0M3484.2 617.4h0M3485.8 617.8h0M3487.3 620.7h0M3488.8 619.2h0M3490.4 621.2h0M3491.9 621.2h0M3493.4 623.6h0M3495 622.2h0M3496.5 619.7h0M3498 619.6h0M3499.6 618h0M3501.1 614.7h0M3503.1 613.7h0M3504.1 611.9h0M3505.7 613.8h0M3507.2 617.7h0M3508.7 617.8h0M3510.3 620h0M3511.8 624h0M3513.3 622.6h0M3514.9 626h0M3516.4 627.2h0M3517.9 632.4h0M3519.5 632h0M3521 634.3h0M3522.5 638.5h0M3523.3 637h0M3524.1 638.7h0M3525.6 636.1h0M3527.1 632.2h0M3528.7 632h0M3530.2 626.7h0M3531.7 626.3h0M3533.3 624.1h0M3534.8 621.3h0M3536.3 616.2h0M3537.9 613h0M3539.4 611.2h0M3540.9 609.1h0M3542.5 604.9h0M3544 604h0M3545.5 602.8h0M3546.6 601.3h0M3548.6 607.8h0M3550.1 609.2h0M3551.7 611.7h0M3553.2 616.5h0M3554.7 618.7h0M3556.2 625.1h0M3557.8 624.6h0M3559.3 629.5h0M3560.8 629.1h0M3562.4 626.3h0M3563.9 622.3h0M3565.4 622.1h0M3567 618.8h0M3568.5 616.3h0M3570 616.6h0M3571.6 616.4h0M3573.1 612.5h0M3574.6 613.7h0M3576.2 609.4h0M3577.7 611.3h0M3579.2 611.6h0M3580.8 614.9h0M3582.3 612.1h0M3583.8 615.6h0M3585.4 613.6h0M3586.9 616.4h0M3588.4 615.8h0M3590 618.1h0M3591.5 621.5h0M3593 622.2h0M3593.6 621.6h0M3594.9 610.6h0M3596.1 599.6h0M3597.6 597.2h0M3599.2 599.8h0M3600.7 598.3h0M3602.2 598h0M3603.8 596.7h0M3605.3 597.1h0M3606.8 598.7h0M3608.3 595.7h0M3609.9 597h0M3611.4 599.4h0M3612.9 610.6h0M3613.7 621h0M3614.5 631.4h0M3615 639.6h0M3615.5 647.9h0M3616 656.1h0M3616.5 664.2h0M3617 672.3h0M3617.5 680.4h0M3618.3 688.6h0M3619.1 696.7h0M3620.6 702.2h0M3622.1 703.5h0M3623.7 707.7h0M3625.2 708.7h0M3626.8 709.6h0M3628.3 705.3h0M3629.8 702.4h0M3631.3 694.6h0M3632.9 686.8h0M3634.4 675.6h0M3635.9 664.3h0M3637.5 653h0M3638.2 646h0M3639 639h0M3639.8 629.9h0M3640.5 620.8h0M3642.1 612h0M3643.6 603.3h0M3645.1 599.4h0M3646.7 597h0M3648.2 593.1h0M3649.7 589.6h0M3651.3 588.2h0M3652.8 588.4h0M3654.3 585.6h0M3655.9 585.9h0M3657.4 584.8h0M3658.9 585.2h0M3660.4 584.5h0M3662 584.3h0M3663.5 583.3h0M3665 580.4h0M3666.6 582.6h0M3668.1 579.8h0M3669.6 579.7h0M3671.2 576.2h0M3672.7 572.6h0M3674.2 570.8h0M3675.8 568.7h0M3677.3 572h0M3678.8 570.7h0M3680.4 569.8h0M3681.9 572.2h0M3683.4 568.6h0M3685 568h0M3686.5 570.7h0M3688 568.9h0M3689.6 570.1h0M3691.1 573.2h0M3692.6 574h0M3694.2 570.6h0M3695.7 574.6h0M3697.2 566.7h0M3698.8 567.1h0M3700.3 570h0M3701.8 568.1h0M3703.4 567h0M3704.9 569.8h0M3706.4 569.6h0M3708 572.9h0M3709.5 575.5h0M3711 573.4h0M3712.5 570.6h0M3714.1 568h0M3715.6 564.3h0M3717.1 562h0M3717.8 562.1h0M3718.7 563.2h0M3720.2 564.5h0M3721.7 564.6h0M3723.3 565.4h0M3724.8 568.2h0M3725.6 569.9h0M3726.3 567.4h0M3727.9 564.5h0M3729.4 563.1h0M3730.9 563.1h0M3732.5 559.6h0M3734 558h0M3735.9 558.2h0M3737.1 558.3h0M3738.6 562.2h0M3740.1 567.7h0M3741.7 570.9h0M3743.2 574.7h0M3744.7 579.4h0M3746.3 582.8h0M3747.8 578.5h0M3749.3 576.6h0M3750.9 572.9h0M3752.4 572.1h0M3753.9 568.7h0M3755.5 565.4h0M3757 564.7h0M3757.9 562.1h0M3760.1 564.3h0M3761.6 566.6h0M3763.1 566.2h0M3764.6 567.7h0M3766.2 569.7h0M3767.7 573.3h0M3769.2 576h0M3770.8 576.9h0M3772.3 580.9h0M3773.8 583h0M3775.4 586.3h0M3776 585.4h0M3776.9 584h0M3778.4 578.8h0M3780 576.6h0M3781.5 574.5h0M3783 571.3h0M3784.6 569.4h0M3786.1 568h0M3787.6 565.7h0M3789.2 564.5h0M3790.3 564.7h0M3792.2 575.6h0M3792.9 580.2h0M3793.8 579.7h0M3795.3 577.2h0M3796.8 578.1h0M3798.4 575.3h0M3799.9 574.9h0M3801.4 573h0M3803 575.1h0M3804.5 573.6h0M3806 572.7h0M3807.6 574.7h0M3809.1 576h0M3810.6 578.3h0M3812.2 578.1h0M3813.7 576.1h0M3815.2 577.6h0M3816.7 573.6h0M3818.3 575.2h0M3819.8 575.8h0M3821.3 575.7h0M3822.9 577.5h0M3824.4 581.1h0M3826.5 582.8h0M3827.5 581h0M3829 579.5h0M3830.5 577.7h0M3832.1 575.2h0M3833.6 572.2h0M3835.1 569.7h0M3836.7 566.4h0M3838.2 567h0M3839.7 562.7h0M3841.3 561.1h0M3842 562.1h0M3842.8 564.4h0M3844.3 565.4h0M3845.9 569.3h0M3847.4 573.5h0M3848.9 576h0M3850.5 574.5h0M3852 572.9h0M3853.5 572.7h0M3855.1 571.1h0M3856.6 573.4h0M3858.1 571.8h0M3859.7 569.9h0M3861.2 568.5h0M3862.7 567.8h0M3864.3 568.2h0M3865.8 565.9h0M3866.6 564.7h0M3867.3 564.7h0M3868.8 566.1h0M3870.4 566.1h0M3871.9 568.6h0M3873.4 568.2h0M3875 572.3h0M3876.5 571.7h0M3878 572.7h0M3879.6 573.8h0M3881.1 575.7h0M3882.6 576.6h0M3884.2 577h0M3886 580.2h0M3887.2 577.1h0M3888.8 578.8h0M3890.3 578.1h0M3891.8 576.2h0M3893.4 573.9h0M3894.9 573.8h0M3896.4 572.4h0M3898 573.1h0M3899.5 571.8h0M3901 567.6h0M3901.5 559.1h0M3902 550.7h0M3902.6 542.3h0M3903.9 536.2h0M3905.6 542.9h0M3907.2 545.6h0M3908.7 552h0M3910.2 555.6h0M3911.8 557.2h0M3913.3 561.7h0M3914.2 562.1h0M3916.4 559.5h0M3917.9 558.3h0M3919.4 558.5h0M3920.9 555.5h0M3922.5 552.7h0M3923.3 554.3h0M3924 556.7h0M3925.5 563h0M3927.1 569.4h0M3928.6 574.5h0M3930.1 576.5h0M3931.7 580.1h0M3933.6 585.4h0M3934.7 581.4h0M3936.3 581.2h0M3937.8 581.7h0M3939.3 578.7h0M3940.9 577.7h0M3942.4 579.9h0M3943.9 571.8h0M3945.5 563.7h0M3947 557.4h0M3948.5 552.2h0M3950.5 547.9h0M3951.6 550.9h0M3953.1 555.2h0M3954.7 557.9h0M3956.2 558.5h0M3957.7 562h0M3959.3 559.5h0M3960.8 557.8h0M3962.3 556.6h0M3963.9 559.3h0M3965.4 562.8h0M3966.9 564.4h0M3968.5 569.5h0M3970 570h0M3971.5 572.2h0M3973 574.2h0M3974.6 573.2h0M3976.1 574.4h0M3977.6 577.7h0M3979.2 575h0M3980.7 575.4h0M3982.2 574.8h0M3983.8 571.9h0M3985.3 572.7h0M3986.8 570.9h0M3988.4 569.5h0M3989.9 568.3h0M3991.8 566h0M3993 564.7h0M3994.5 567.2h0M3996 568.7h0M3997.6 569.6h0M3999.1 570h0M4000.6 572.1h0M4002.2 570.6h0M4003.7 573.4h0M4005.2 572.5h0M4006.8 575.2h0M4008.3 574.6h0M4009.8 575.8h0M4011.4 577.2h0M4012.9 577.7h0M4014.4 579.4h0M4016 580.4h0M4017.5 576.9h0M4019 577.3h0M4020.6 577.7h0M4022.1 578.2h0M4023.6 579h0M4025.1 576.8h0M4026.7 576.5h0M4028.2 578.2h0M4029.7 577.9h0M4031.3 575.7h0M4032.8 576.7h0M4034.3 575.7h0M4035.9 578.4h0M4037.4 577.2h0M4038.9 577h0M4040.5 578.3h0M4042 577.1h0M4043.5 576.5h0M4045.1 579.9h0M4046.6 579.2h0M4048.1 579.8h0M4049.7 581.7h0M4051.2 577.6h0M4052.7 577.4h0M4054.3 576.1h0M4055.8 574.9h0M4057.3 575.6h0M4058.9 574.6h0M4060.4 574.2h0M4061.9 575h0M4063.5 577.4h0M4065 578h0M4066.5 577.6h0M4068.1 577.6h0M4069.6 578.7h0M4071.1 579.8h0M4072.7 579.2h0M4073.4 581.5h0M4074.2 580.8h0M4075.7 580.8h0M4077.2 577.4h0M4078.8 575.4h0M4080.3 574.7h0M4081.8 573.6h0M4083.4 572.6h0M4084.9 572.9h0M4086.4 572.6h0M4088 573.1h0M4089.5 571.1h0M4091 571.9h0M4092.6 572.3h0M4094.1 574.8h0M4095.6 572.8h0M4097.2 574h0M4098.7 574.7h0M4100.2 577.3h0M4101.8 577.6h0M4103.3 578.1h0M4104.8 576.8h0M4106.4 574.2h0M4107.9 575h0M4109.4 572.2h0M4111 571.6h0M4112.2 569.9h0M4114 572h0M4115.6 572.2h0M4117.1 572h0M4118.6 574.8h0M4120.2 575.3h0M4121.7 576h0M4123.2 576.3h0M4124.8 579.5h0M4126.3 581.2h0M4127.8 582.2h0M4129.3 583.4h0M4130.9 584.8h0M4131.6 586.7h0M4132.4 584.8h0M4133.9 583.3h0M4135.5 581.6h0M4137 579.5h0M4138.5 578.2h0M4140.1 576.3h0M4141.6 573.1h0M4143.1 574h0M4144.7 571.4h0M4146.2 570.5h0M4147.7 570h0M4149.3 569.9h0M4150.8 570.8h0M4152.3 574.2h0M4153.9 576.8h0M4155.4 575h0M4156.9 578.3h0M4158.7 577.6h0M4160 578h0M4161.5 577.3h0M4163.1 574.8h0M4164.6 574.1h0M4166.1 573.3h0M4167.7 571.5h0M4169.1 568.6h0M4170.7 567.5h0M4172.3 569.6h0M4173.8 568.7h0M4175.3 571h0M4176.9 570.6h0M4178.4 570.2h0M4179.9 572.3h0M4181.4 570.6h0M4183 572.1h0M4184.5 573h0M4186 574.7h0M4187.6 574.5h0M4189.1 574.8h0M4190.6 571.1h0M4192.2 573.7h0M4193.7 572.9h0M4195.2 569.8h0M4196.8 569.1h0M4198.3 571.8h0M4199.8 571.2h0M4201.4 568.8h0M4202.9 570.4h0M4204.4 572h0M4206 573h0M4207.5 573.4h0M4209 575.8h0M4210.6 576.4h0M4212.1 576.6h0M4213.6 580.9h0M4215.2 581.6h0M4216.7 582.4h0M4218.2 582.4h0M4219.8 584.4h0M4221.3 582.3h0M4222.8 582.1h0M4224.4 583.4h0M4225.9 581.2h0M4227.4 581.7h0M4229 583.1h0M4230.5 582.8h0M4232 582.7h0M4233.5 582.3h0M4235.1 583.9h0M4236.6 585.1h0M4238.1 588.4h0M4239.7 590.2h0M4241.5 591.8h0M4242.9 584h0M4244.3 576.1h0M4245.8 573.3h0M4247.3 573.3h0M4248.9 573.7h0M4250.4 572h0M4251.9 572.4h0M4253.5 572.7h0M4255 569.9h0M4256.5 572.5h0M4258.1 572.9h0M4259.6 573.2h0M4261.1 572.5h0M4262.7 571.5h0M4264.2 572.1h0M4265.7 571.8h0M4267.3 573h0M4268.8 575.7h0M4270.3 576h0M4271.9 578.1h0M4273.4 579.5h0M4274.9 579.7h0M4276.5 582.8h0" fill="none" stroke="#4d9a05" stroke-width="15.2" stroke-linecap="round"/>
</g>
<g>
<rect x="614.6" y="106.5" width="3661.0000000000005" height="1154.7" fill="none" stroke="#262626" stroke-width="4.4"/>
<path d="M1380.5,1261.2 V1224.2 M1380.5,106.5 V143.5 M2145.5,1261.2 V1224.2 M2145.5,106.5 V143.5 M2910.5,1261.2 V1224.2 M2910.5,106.5 V143.5 M3675.5,1261.2 V1224.2 M3675.5,106.5 V143.5 M614.6,225.3 H651.6 M4275.6,225.3 H4238.6 M614.6,587.4 H651.6 M4275.6,587.4 H4238.6 M614.6,949.5 H651.6 M4275.6,949.5 H4238.6 " fill="none" stroke="#262626" stroke-width="4.4"/>
</g>
<g>
<text x="614.6" y="1378.2" text-anchor="middle">0</text>
<text x="1380.2" y="1378.2" text-anchor="middle">5</text>
<text x="2145.2" y="1378.2" text-anchor="middle">10</text>
<text x="2910.2" y="1378.2" text-anchor="middle">15</text>
<text x="3675.2" y="1378.2" text-anchor="middle">20</text>
<text x="580.2" y="257.7" text-anchor="end">400</text>
<text x="580.2" y="619.8" text-anchor="end">200</text>
<text x="580.2" y="981.9" text-anchor="end">100</text>
</g>
</svg>
</body></html>
